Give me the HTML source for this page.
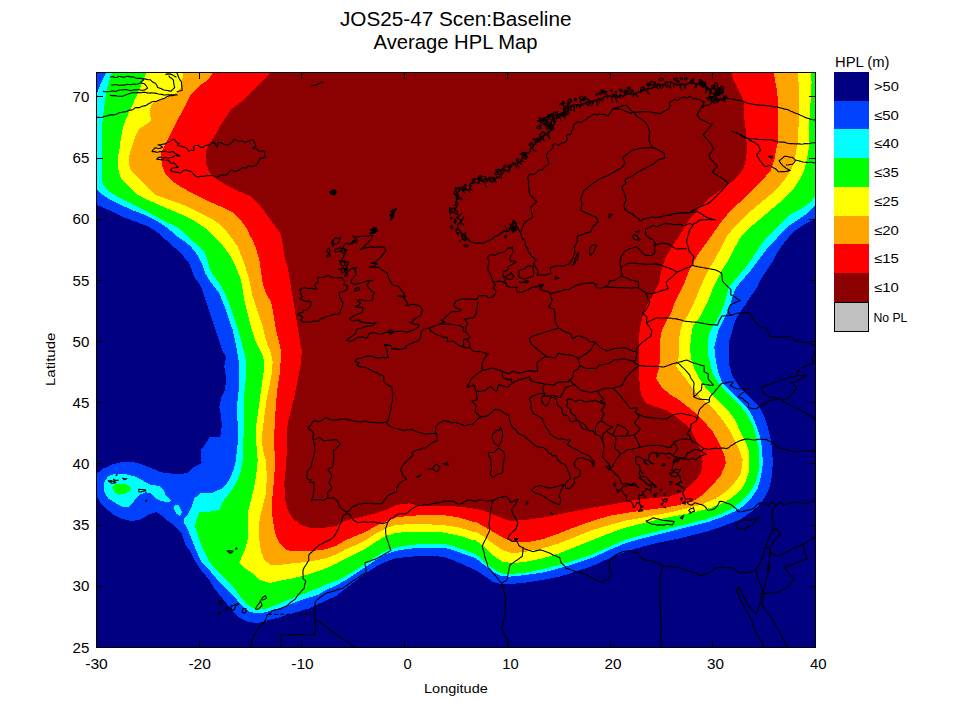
<!DOCTYPE html>
<html><head><meta charset="utf-8"><style>
html,body{margin:0;padding:0;background:#fff;}
body{width:960px;height:720px;position:relative;overflow:hidden;}
svg{position:absolute;left:0;top:0;font-family:"Liberation Sans",sans-serif;}
</style></head><body>
<svg width="960" height="720" viewBox="0 0 960 720">
<defs><clipPath id="pc"><rect x="96" y="72" width="720" height="576"/></clipPath></defs>
<g clip-path="url(#pc)" shape-rendering="crispEdges">
<rect x="96" y="72" width="720" height="576" fill="#000080"/>
<polygon points="96.0,72.0 96.0,205.0 97.2,205.0 108.5,210.0 121.0,216.2 136.0,221.9 146.0,225.5 155.0,230.5 161.0,235.5 166.0,240.0 181.0,253.3 189.3,263.3 194.3,276.7 201.0,286.7 204.3,296.7 207.7,306.7 211.0,316.7 214.3,326.7 217.7,336.7 222.0,350.0 226.0,356.7 224.3,366.7 226.0,376.7 225.2,390.0 221.0,398.3 219.3,406.7 221.0,415.0 221.8,426.7 220.2,436.7 209.3,437.5 206.0,443.3 201.0,450.0 200.5,456.0 201.8,463.3 194.3,466.7 189.3,471.7 186.0,473.3 176.0,474.2 171.0,473.5 161.0,472.2 152.2,468.5 143.5,464.8 133.5,462.2 121.0,462.2 111.0,464.8 103.5,468.5 97.2,473.5 96.0,473.5 96.0,497.2 97.2,497.2 101.0,503.5 106.0,508.5 113.5,514.8 121.0,518.5 131.0,521.0 139.8,519.8 148.5,514.8 156.0,512.2 161.0,514.8 166.0,519.8 173.5,524.8 181.0,532.0 185.5,545.0 189.3,550.0 194.3,560.0 201.0,570.0 209.3,580.0 214.3,588.3 221.0,596.7 229.3,606.7 237.7,616.7 247.7,621.7 257.7,623.3 266.0,620.8 276.0,618.3 292.7,613.3 309.3,608.3 322.7,602.0 336.0,596.0 346.0,588.3 356.0,580.8 366.0,573.3 376.0,566.7 386.0,561.7 396.0,558.3 409.3,556.7 426.0,555.8 442.7,556.7 452.7,560.0 464.3,565.0 476.0,570.5 484.3,575.8 492.7,581.7 501.0,584.2 509.3,584.2 526.0,582.5 542.7,580.0 559.3,576.7 576.0,571.7 592.7,565.8 609.3,558.3 626.0,551.5 642.7,546.7 659.3,542.5 676.0,539.2 692.7,535.0 709.3,530.8 726.0,525.0 739.3,520.0 749.3,513.3 757.7,506.7 764.3,498.3 769.3,488.3 771.8,476.7 772.7,465.0 772.7,460.0 771.8,446.7 770.2,436.7 767.7,426.7 764.3,416.7 759.3,406.7 749.3,396.7 739.3,386.7 732.7,376.7 729.3,365.0 728.5,353.3 729.5,340.0 731.6,333.8 733.5,326.2 736.0,318.8 741.0,311.2 746.0,303.8 751.0,296.2 757.2,287.5 761.0,278.8 767.2,270.0 773.5,260.0 776.0,255.0 781.0,246.7 787.7,238.3 796.0,230.0 806.0,223.3 816.0,218.3 816.0,72.0" fill="#0040FF"/>
<polygon points="106.6,72.0 103.5,78.2 100.4,84.5 98.5,89.5 97.2,93.2 96.0,95.0 96.0,190.0 97.2,190.0 101.0,193.8 108.5,198.8 121.0,205.0 133.5,210.5 146.0,215.5 156.0,220.5 164.8,226.0 171.0,231.0 176.0,236.0 182.7,240.0 191.0,246.7 197.7,255.0 201.8,263.3 205.2,273.3 209.3,280.0 214.3,286.7 219.3,293.3 222.7,301.7 226.0,310.0 229.3,320.0 232.7,330.0 235.0,340.0 236.8,350.0 238.5,360.0 239.3,373.3 239.3,386.7 237.7,398.3 236.8,410.0 237.7,423.3 238.5,433.3 237.7,443.3 236.8,450.0 236.0,460.0 233.5,470.0 229.3,480.0 222.7,488.3 212.7,492.5 201.0,493.0 194.3,498.3 191.5,506.7 187.7,515.0 184.3,518.3 184.3,523.3 188.0,530.0 192.0,540.0 196.0,550.0 201.0,561.0 209.3,570.0 217.7,580.0 226.0,588.3 234.3,596.7 242.7,606.7 249.3,611.7 256.0,613.3 264.3,612.5 272.7,610.0 284.3,606.7 301.0,600.0 317.7,595.0 326.0,590.0 336.0,585.5 346.0,580.0 356.0,573.3 366.0,566.7 376.0,560.0 386.0,554.2 396.0,550.8 409.3,548.7 426.0,547.5 442.7,547.5 452.7,550.0 464.3,554.2 476.0,558.3 484.3,565.0 492.7,571.7 501.0,575.8 509.3,576.7 526.0,575.0 542.7,572.5 559.3,568.3 576.0,563.3 592.7,557.5 609.3,550.0 626.0,543.0 642.7,538.3 659.3,534.2 676.0,530.0 692.7,525.8 709.3,521.7 722.7,516.7 734.3,511.7 742.7,506.7 751.0,498.3 757.7,488.3 761.0,476.7 762.7,465.0 762.7,460.0 761.8,446.7 760.2,436.7 756.8,426.7 752.7,416.7 747.7,408.3 739.3,400.0 731.0,391.7 722.7,383.3 719.0,375.0 717.0,366.7 715.2,356.7 714.3,346.7 716.0,340.0 718.5,330.0 722.2,322.5 726.0,315.0 729.8,306.2 732.2,297.5 736.0,287.5 743.5,278.8 751.0,270.0 758.5,260.0 766.0,250.0 772.7,243.3 779.3,235.0 787.7,226.7 797.7,220.0 807.7,213.3 816.0,205.0 816.0,72.0" fill="#00FFFF"/>
<polygon points="104.8,481.0 108.5,476.0 116.0,473.5 124.8,474.1 133.5,476.0 143.5,481.0 151.0,484.8 159.8,486.0 163.5,489.8 166.0,496.0 171.0,501.0 168.5,502.2 161.0,501.0 156.0,498.5 151.0,493.5 146.0,492.2 139.8,494.8 136.0,498.5 132.2,503.5 128.5,507.2 123.5,507.2 116.0,503.5 108.5,498.5 104.8,493.5 103.5,487.2" fill="#00FFFF"/>
<polygon points="174.8,504.8 178.5,504.8 182.2,512.2 179.8,516.0 176.0,513.5 174.1,508.5" fill="#00FFFF"/>
<polygon points="112.2,72.0 109.8,79.5 107.9,85.8 106.0,93.2 104.8,102.0 103.5,113.2 102.2,124.5 101.6,137.0 101.6,149.5 101.6,162.0 101.6,180.0 103.5,185.0 108.5,191.2 114.8,195.0 121.0,198.8 133.5,204.5 146.0,211.0 156.0,216.5 166.0,222.0 176.0,226.5 182.0,231.0 188.5,237.0 195.0,243.0 201.0,248.0 204.3,251.7 207.7,260.0 209.3,268.3 214.3,276.7 219.3,283.3 224.3,291.7 227.7,300.0 231.0,308.3 234.3,318.3 237.7,328.3 240.5,338.3 243.5,350.0 246.0,360.0 246.0,373.3 245.2,386.7 243.5,398.3 243.5,410.0 243.5,423.3 243.5,436.7 242.7,448.3 242.7,460.0 240.2,473.3 236.0,483.3 229.3,493.3 222.7,501.7 219.3,510.0 209.3,511.7 199.3,512.5 196.0,520.0 195.2,526.7 197.2,533.0 199.3,540.0 204.3,551.7 209.3,561.7 216.0,570.0 224.3,578.3 232.7,586.7 239.3,595.0 246.0,603.3 252.7,608.3 259.3,609.7 267.7,608.3 276.0,605.0 287.7,600.0 301.0,595.0 317.7,588.3 329.3,583.3 336.0,580.8 346.0,575.8 356.0,570.0 366.0,563.3 376.0,556.7 386.0,550.8 396.0,547.5 409.3,545.0 426.0,543.7 442.7,543.7 452.7,545.8 464.3,550.0 476.0,554.2 484.3,561.7 492.7,568.3 501.0,573.3 509.3,574.2 526.0,572.5 542.7,569.2 559.3,565.0 576.0,560.0 592.7,554.2 609.3,546.7 626.0,539.5 642.7,535.0 659.3,530.8 676.0,526.7 692.7,522.5 709.3,518.3 722.7,513.3 732.7,508.3 741.0,501.7 749.3,493.3 755.2,483.3 758.5,471.7 759.3,460.0 758.5,446.7 756.0,436.7 752.7,425.0 747.7,415.0 741.0,406.7 732.7,398.3 724.3,390.0 717.7,381.7 712.7,373.3 710.0,363.3 707.7,353.0 707.5,343.3 709.3,333.3 712.7,326.7 717.0,320.0 720.5,313.0 723.5,306.2 726.0,297.5 728.5,287.5 734.8,280.0 743.5,270.0 751.0,260.0 757.5,250.0 764.3,240.0 772.7,231.7 781.0,223.3 789.3,215.0 799.3,210.0 809.3,203.3 816.0,195.0 816.0,72.0" fill="#00FF00"/>
<polygon points="112.2,487.2 116.0,484.1 124.8,483.5 131.0,487.2 129.8,491.0 124.8,493.5 118.5,494.8 114.8,492.2" fill="#00FF00"/>
<polygon points="147.2,72.0 143.5,79.5 139.8,88.2 136.0,97.0 132.2,105.8 128.5,113.2 125.4,120.8 122.9,128.2 121.0,137.0 119.8,147.0 118.5,154.5 117.9,162.0 118.5,170.0 120.0,176.0 122.2,180.0 127.2,185.0 133.5,191.0 136.0,194.0 143.5,198.0 154.8,203.0 166.0,208.0 176.0,212.0 186.0,216.5 195.0,221.2 203.0,226.5 208.0,230.5 214.3,236.7 221.0,243.3 226.0,250.0 231.0,256.7 234.3,263.3 237.7,271.7 241.0,280.0 242.7,290.0 244.3,300.0 246.8,310.0 249.3,320.0 251.8,330.0 255.2,340.0 259.0,348.0 262.7,355.0 264.3,362.0 263.5,373.3 261.0,390.0 259.3,403.3 257.7,415.0 256.0,426.7 256.0,440.0 256.8,450.0 257.7,460.0 256.0,476.7 253.5,490.0 251.0,500.0 248.5,510.0 247.7,520.0 248.5,530.0 247.5,540.0 245.0,550.0 241.0,558.3 239.3,562.5 242.7,566.7 247.7,570.0 252.7,573.3 259.3,579.5 269.3,583.0 279.3,580.8 292.7,578.3 309.3,574.2 326.0,568.3 336.0,563.8 346.0,558.3 356.0,553.3 366.0,548.3 376.0,541.7 386.0,535.8 396.0,533.0 409.3,531.7 426.0,531.7 442.7,532.5 459.3,535.8 472.7,540.0 476.0,540.5 484.3,546.7 492.7,555.0 502.7,561.7 512.7,563.3 526.0,561.7 542.7,558.3 559.3,553.3 576.0,546.7 592.7,540.0 609.3,533.3 626.0,527.5 642.7,523.3 659.3,519.2 676.0,515.8 692.7,512.5 709.3,508.3 721.0,504.2 731.0,498.3 739.3,491.7 745.2,483.3 748.5,473.3 749.3,461.7 748.5,450.0 746.0,443.0 741.0,433.3 736.0,421.7 729.3,411.7 722.7,405.0 714.3,396.7 706.0,388.3 699.3,378.3 694.3,368.3 691.0,358.3 690.2,350.0 690.5,343.0 691.0,336.7 692.7,326.7 696.0,321.7 699.8,317.5 703.5,310.0 708.5,300.0 712.2,290.0 717.2,280.0 722.2,270.0 728.5,260.0 733.5,250.0 741.0,236.7 751.0,226.7 761.0,218.3 772.7,208.3 782.7,200.0 792.7,190.0 799.3,180.0 804.3,170.0 806.8,160.0 808.5,150.0 809.1,142.0 809.1,127.0 809.8,112.0 811.0,97.0 811.6,82.0 811.0,72.0" fill="#FFFF00"/>
<polygon points="183.5,72.0 182.2,79.5 181.0,87.0 176.0,93.2 166.0,97.0 156.0,100.8 151.0,105.8 149.8,112.0 151.0,120.8 146.0,124.5 139.8,128.2 136.0,134.5 133.5,142.0 131.0,149.5 129.1,157.0 128.5,162.0 130.0,168.0 133.0,173.0 136.0,175.0 142.2,182.0 148.5,188.5 156.0,195.0 166.0,198.8 176.0,202.0 186.0,206.0 196.0,211.0 206.0,216.2 213.5,220.0 221.0,225.0 226.0,230.5 230.0,236.0 233.0,240.0 237.7,246.7 241.0,255.0 244.3,263.3 246.8,271.7 249.3,280.0 251.0,288.3 252.7,296.7 256.0,306.7 259.3,316.7 262.7,326.7 265.2,336.7 267.5,345.0 270.2,350.0 272.7,361.7 271.8,373.3 269.3,386.7 266.8,398.3 265.2,410.0 263.5,423.3 261.8,436.7 262.7,448.3 264.3,455.0 266.0,460.0 266.8,476.7 266.0,493.3 262.7,506.7 260.2,516.7 258.5,526.7 259.3,540.0 261.0,551.7 264.3,560.0 271.0,565.0 279.3,565.0 292.7,563.3 309.3,561.7 326.0,558.3 336.0,554.5 346.0,549.2 356.0,545.0 366.0,540.0 376.0,533.3 386.0,528.3 396.0,525.0 409.3,524.2 426.0,524.2 442.7,525.0 459.3,527.5 472.7,531.7 476.0,532.0 484.3,536.7 492.7,543.3 502.7,550.0 512.7,553.3 526.0,551.7 542.7,548.3 559.3,543.3 576.0,536.7 592.7,530.0 609.3,525.0 626.0,520.5 639.3,518.3 656.0,515.0 672.7,511.7 687.7,508.3 702.7,504.2 716.0,498.3 726.0,491.7 734.3,483.3 741.0,473.3 742.7,460.0 739.3,450.0 734.3,440.0 729.3,430.0 722.7,420.0 716.0,411.7 709.3,405.0 701.0,398.3 692.7,388.3 684.3,376.7 676.0,366.7 678.5,358.0 679.5,350.0 679.0,340.0 680.0,332.0 682.5,323.3 687.0,316.7 691.5,308.3 696.0,298.0 700.5,287.0 705.0,277.0 709.5,267.7 714.5,260.0 719.8,250.0 727.7,235.0 736.0,225.0 746.0,215.0 756.0,206.7 766.0,198.3 776.0,190.0 784.3,180.0 791.0,170.0 794.8,160.0 796.3,150.0 797.9,142.0 798.5,127.0 799.1,112.0 799.1,97.0 798.5,82.0 797.9,72.0" fill="#FFA500"/>
<polygon points="213.5,72.0 208.5,79.5 201.0,84.5 196.0,89.5 191.0,94.5 187.2,102.0 183.5,109.5 179.8,115.8 176.0,123.2 172.2,130.8 168.5,138.2 164.8,145.8 161.0,152.0 161.0,157.5 162.2,166.2 166.0,175.0 172.2,181.2 179.8,186.2 188.5,191.2 198.5,196.2 208.5,201.2 217.2,205.0 226.0,208.8 234.8,213.8 239.5,219.0 244.0,224.5 247.5,230.0 250.0,236.0 252.5,240.0 256.0,248.3 259.3,260.0 261.0,271.7 262.7,283.3 266.0,293.3 271.0,301.7 272.7,310.0 274.3,320.0 276.0,330.0 278.5,340.0 280.2,347.0 281.0,353.3 280.2,370.0 277.7,386.7 276.0,403.3 275.2,416.7 274.3,433.3 274.3,446.7 275.0,460.0 274.3,476.7 272.7,493.3 271.8,506.7 272.7,520.0 275.2,533.3 279.3,543.3 286.0,550.0 296.0,551.5 309.3,551.0 322.7,550.0 336.0,546.0 346.0,540.0 356.0,535.8 366.0,531.7 376.0,525.8 386.0,521.7 396.0,517.5 409.3,515.8 426.0,515.0 442.7,515.0 459.3,517.5 472.7,521.7 476.0,522.0 484.3,526.7 492.7,531.7 502.7,537.5 512.7,541.7 526.0,542.5 542.7,539.2 559.3,533.3 576.0,526.7 592.7,520.8 609.3,515.8 626.0,513.0 642.7,510.5 659.3,508.3 676.0,505.8 692.7,501.7 702.7,495.0 712.7,485.0 721.0,475.0 726.0,463.3 724.3,455.0 719.3,443.3 712.7,431.7 704.3,421.7 696.0,413.3 687.7,406.7 679.3,400.0 671.0,395.0 662.7,388.3 656.0,378.3 658.5,370.0 660.2,360.0 660.2,350.0 660.2,340.0 661.8,330.0 666.0,321.7 671.0,313.3 674.3,303.3 679.3,293.3 684.3,283.3 689.3,270.0 692.7,263.3 697.7,255.0 706.0,243.3 714.3,231.7 722.7,220.0 732.7,208.3 742.7,200.0 752.7,190.0 762.7,180.0 771.0,170.0 774.3,160.0 776.0,150.0 777.9,142.0 777.9,122.0 777.9,102.0 777.2,92.0 775.4,82.0 773.5,72.0" fill="#FF0000"/>
<polygon points="271.0,72.0 263.5,79.5 256.0,87.0 248.5,94.5 241.0,102.0 231.0,109.5 226.0,117.0 221.0,124.5 217.2,132.0 212.2,139.5 207.2,147.0 205.6,154.5 205.8,160.0 206.5,165.0 209.8,172.5 216.0,178.8 226.0,185.0 238.5,191.2 251.0,196.2 257.2,202.5 263.5,210.0 269.8,218.8 276.0,227.5 280.2,233.0 282.7,243.3 284.3,256.7 287.7,266.7 289.3,276.7 291.0,286.7 292.7,296.7 294.3,306.7 296.0,316.7 297.7,326.7 299.3,336.7 300.5,345.0 301.8,350.0 301.0,363.3 297.7,380.0 294.3,396.7 291.0,410.0 287.7,423.3 286.8,436.7 286.8,450.0 286.0,466.7 284.3,483.3 285.2,500.0 287.7,510.0 292.7,518.3 301.0,525.0 309.3,527.5 322.7,528.0 336.0,526.0 342.7,521.7 351.0,519.2 362.7,516.7 376.0,513.3 386.0,510.0 396.0,505.0 409.3,503.3 419.3,505.8 442.7,505.8 459.3,506.7 472.7,508.3 476.0,509.2 484.3,510.8 492.7,514.2 502.7,518.3 509.3,520.8 526.0,520.0 542.7,517.5 559.3,514.2 576.0,510.8 592.7,507.5 609.3,505.0 626.0,501.7 634.3,500.0 651.0,498.3 669.3,496.7 682.7,491.7 692.7,483.3 701.0,473.3 702.7,461.7 701.0,451.7 697.7,443.3 694.3,436.7 691.0,430.0 684.3,423.3 676.0,416.7 666.0,410.0 656.0,406.7 646.0,403.3 641.0,395.0 639.3,380.0 639.3,366.7 639.3,353.3 638.5,343.3 639.3,333.3 641.0,323.3 643.5,313.3 647.7,303.3 654.3,293.3 659.3,281.7 661.5,270.0 664.0,262.0 667.7,253.3 674.3,243.3 681.0,233.3 687.7,221.7 697.7,210.0 709.3,198.3 722.7,188.3 734.3,180.0 742.7,170.0 746.0,160.0 746.8,150.0 746.6,142.0 746.0,132.0 744.8,122.0 743.5,112.0 743.5,102.0 741.0,94.5 737.2,87.0 733.5,79.5 731.0,72.0" fill="#8B0000"/>
</g>
<g clip-path="url(#pc)" fill="none" stroke="#000" stroke-width="1.1" stroke-linejoin="round" stroke-linecap="round">
<path d="M178.2 172.1L176.2 172.5L174.5 171.8L172.6 171.6L170.5 170.7L171.7 168.6L173.6 167.9L175.4 167.7L177.2 167.3L178.2 167.6L177.4 166.4L176.5 166.1L175.5 164.2L174.1 162.9L172.2 163.4L170.5 163.0L169.3 161.2L167.8 160.0L166.0 160.2L164.2 160.0L162.4 159.6L160.6 159.8L158.9 159.4L156.7 159.2L158.5 157.4L160.2 157.1L162.0 157.7L163.8 158.0L165.5 157.6L167.2 157.8L168.9 158.0L170.6 157.6L172.3 157.2L173.9 156.3L175.1 155.5L176.9 155.8L178.7 156.3L180.1 155.8L178.6 155.4L177.3 154.4L175.8 153.8L174.4 153.0L173.2 151.5L171.4 151.7L169.8 152.4L168.2 152.2L166.6 151.6L165.0 151.0L163.4 151.4L161.7 151.8L159.9 151.6L158.0 152.3L156.2 152.1L154.3 151.6L152.0 151.6L153.4 149.3L155.2 147.7L157.7 148.2L159.8 148.5L162.6 147.2L160.0 145.4L157.8 144.8L159.5 144.8L161.3 144.7L163.1 144.1L165.0 143.9L167.6 142.1L168.9 142.1L170.6 141.1L172.2 140.1L174.1 139.3L175.5 140.8L176.7 142.4L178.0 143.6L179.2 143.0L178.8 144.4L177.4 145.4L179.1 145.9L181.1 146.1L182.9 146.8L184.9 147.4L186.7 148.1L187.7 149.6L188.5 151.2L190.1 150.5L191.7 150.0L193.5 150.8L194.2 149.3L193.7 147.5L194.2 145.7L196.9 145.5L198.6 145.4L199.1 146.5L200.8 147.3L202.8 147.7L203.8 146.2L205.6 145.4L207.4 145.3L209.1 145.0L211.0 143.2L213.6 142.3L215.4 144.1L216.5 145.8L217.1 147.6L217.6 145.7L217.7 142.8L220.6 142.6L222.5 143.5L224.4 144.5L226.1 144.8L227.8 145.1L229.3 144.3L230.7 143.3L232.2 142.1L233.3 140.5L234.6 139.0L236.4 140.1L238.1 141.1L239.9 141.2L241.4 140.7L243.4 141.4L245.2 142.2L246.5 141.7L248.4 141.4L250.0 140.3L252.7 139.5L254.3 141.8L254.9 143.3L255.9 145.8L254.0 148.2L253.1 148.7L253.1 147.2L254.6 148.0L256.1 148.6L257.5 149.5L258.7 151.2L260.3 151.5L262.1 150.8L264.3 151.5L264.7 154.1L265.3 156.8L262.7 158.1L259.6 158.4L259.1 160.7L258.4 161.9L257.2 163.8L255.7 165.6L253.8 166.3L251.9 166.3L249.9 166.1L248.0 166.1L246.6 167.7L244.9 168.3L242.7 167.6L241.1 168.5L239.7 169.9L238.0 170.6L236.3 171.4L234.1 171.0L231.9 170.3L230.0 170.9L228.7 172.4L227.5 174.0L226.0 175.0L224.3 175.3L222.4 175.1L220.6 175.4L219.2 176.1L217.4 177.1L215.6 177.3L213.7 176.1L211.7 175.3L210.1 175.6L208.6 175.6L207.0 175.4L205.3 175.9L203.5 176.5L201.9 176.3L200.2 176.4L198.3 177.0L196.4 176.5L194.9 175.3L193.4 174.1L192.1 172.3L190.5 171.2L188.6 170.9L186.7 170.3L184.9 169.8L183.3 170.5L181.6 172.1L179.9 173.1L178.2 172.1M96.0 117.9L97.6 117.2L99.5 117.4L101.3 117.5L103.0 117.0L104.6 116.4L106.3 116.1L108.1 115.6L109.8 114.9L111.6 114.9L113.5 114.9L115.2 114.6L116.9 114.0L118.5 113.1L120.1 112.5L121.8 112.3L123.5 111.9L125.3 111.8L127.0 111.5L128.4 110.5L129.9 110.1L131.6 110.1L133.1 109.4L134.4 108.3L135.9 107.6L137.5 107.5L139.3 107.6L140.8 107.0L142.3 106.1L144.0 105.9L145.7 105.6L147.1 104.7L148.5 103.7L150.1 103.0L151.6 102.0L153.4 101.5L155.4 101.5L157.1 100.9L158.8 100.2L160.4 99.7L162.0 99.0L163.7 98.6L165.3 97.9L166.7 96.7L168.4 96.1L170.1 95.8L171.9 95.6L173.7 95.4L175.4 95.0L177.1 94.9M110.4 95.4L112.0 95.6L113.7 95.6L115.4 95.6L117.0 96.0L118.6 96.2L120.3 96.2L122.0 96.4L123.8 95.7L125.5 95.1L127.1 94.4L128.8 93.7L130.5 93.3L132.3 92.7L134.1 92.6L135.8 92.8L137.6 92.6L139.3 92.6L141.1 92.7L142.8 92.4L144.6 92.3L146.3 92.6L148.0 93.0L149.7 93.1L151.5 92.9L153.2 93.0L155.0 93.1L156.7 93.4L158.4 94.0L160.1 94.2L161.8 94.4L163.6 94.9L165.3 95.0L167.0 94.7L168.7 94.7L170.4 94.7L172.1 94.8L173.7 94.9L175.4 94.9L177.1 94.9M103.2 91.2L104.9 91.7L106.6 91.7L108.3 91.7L110.0 91.5L111.7 90.9L113.4 91.0L115.2 91.4L116.9 91.1L118.6 90.3L120.3 90.0L122.0 90.0L123.7 89.8L125.5 89.6L127.2 89.8L129.0 90.2L130.7 90.6L132.4 90.3L134.1 89.9L135.9 89.9L137.6 89.8L139.4 89.7L141.2 90.2L143.1 90.3L145.0 89.9L147.6 88.0L146.4 86.3L145.4 84.7L144.0 83.6L142.4 83.2L140.7 82.9M111.4 85.0L113.2 85.0L114.9 84.8L116.7 84.7L118.5 85.1L120.2 85.3L122.0 85.1L123.7 85.1L125.4 84.9L127.1 84.4L128.9 84.5L130.6 84.7L132.3 84.3L134.0 84.0L135.8 84.2L137.5 84.3L139.1 83.6L140.6 82.6L141.9 81.1L143.4 80.2L142.8 78.7M110.4 77.1L112.0 76.5L113.7 76.9L115.4 77.5L117.0 77.3L118.7 76.5L120.3 76.5L122.0 76.9L123.7 77.1L125.4 76.8L127.2 76.4L128.9 76.4L130.6 77.0L132.4 76.9L134.1 77.2L135.8 78.0L137.5 78.4L139.3 78.4L141.1 78.4L142.8 78.7L144.7 78.9L146.5 79.4L148.3 79.6L150.2 79.7L151.7 81.2L153.4 82.5L155.4 83.2L156.8 85.3L157.6 87.5L159.2 88.0L160.8 88.6L162.4 89.3L163.8 90.0L165.5 90.2L167.3 90.5L169.1 90.9L170.9 91.3L172.2 90.0L173.5 88.6L174.7 87.5L174.3 85.9L173.9 84.1L173.6 82.3L173.6 80.6L172.8 79.3L171.5 78.2L170.0 77.4L168.9 76.2M175.1 72.0L177.2 73.0L177.7 74.8L178.4 76.5L179.1 78.3L180.0 79.9L181.2 81.3L181.6 83.1L181.6 84.9L181.9 86.6L182.1 88.6L182.1 90.5L180.5 90.7L178.9 91.3L177.1 91.8M165.8 74.4L168.0 73.9L170.0 74.1L172.1 74.6L174.1 75.9L176.1 76.9M311.7 86.1L313.3 85.2L315.2 85.1L317.0 84.6L318.6 83.8L320.2 82.8L322.0 82.1L323.0 83.0M330.2 191.9L332.1 190.7L334.3 189.8L336.4 191.9L335.0 193.2L334.2 194.5L331.3 194.3L330.2 191.9M390.8 220.0L391.3 218.2L391.5 216.5L389.3 215.1L391.7 214.0L393.8 213.3L392.3 212.5L390.6 211.4L392.4 210.4L394.0 209.5L396.4 208.8L395.0 211.1L393.7 212.8L393.6 214.6L393.4 216.5L392.2 218.4L390.8 220.0M370.2 233.5L371.9 232.4L373.6 231.0L371.6 230.2L370.1 229.8L371.7 229.3L373.5 228.2L375.4 227.4L376.3 229.3L377.4 231.0L375.9 231.9L374.3 232.9L372.3 233.3L370.2 233.5M352.8 235.7L354.6 237.5L356.9 236.6L358.9 236.7L360.6 236.3L362.2 236.2L363.9 236.3L365.5 236.4L367.3 236.4L369.8 235.4L372.6 235.5L372.0 238.2L370.7 239.4L369.5 240.8L368.4 242.3L367.0 243.9L365.4 245.3L363.8 246.8L362.2 248.3L360.4 249.4L362.4 249.0L364.1 248.3L366.2 247.9L368.2 247.4L370.2 247.0L372.3 246.8L374.4 247.1L376.2 247.2L378.1 247.0L379.9 247.0L381.8 246.9L383.7 246.8L384.7 248.4L385.9 250.0L384.8 252.1L383.3 253.8L381.6 256.1L380.3 257.7L378.8 259.0L377.2 260.2L375.8 261.8L373.6 262.6L371.3 263.1L373.6 263.3L375.8 263.4L377.2 264.3L375.9 264.8L374.5 265.6L372.8 266.4L371.0 266.7L369.2 267.1L371.3 267.5L373.3 267.8L375.6 267.4L378.0 267.2L379.8 268.3L381.3 269.5L383.0 270.4L384.4 271.3L385.9 272.2L387.3 273.2L387.7 275.4L388.4 277.5L389.9 280.2L390.8 282.3L391.8 284.3L393.8 285.2L395.8 285.8L397.8 286.2L399.6 287.3L400.5 289.1L401.7 290.6L403.1 292.2L404.1 293.7L404.7 295.4L405.3 297.0L403.2 296.4L401.0 295.8L398.1 296.1L399.5 296.4L401.0 297.0L402.6 297.3L404.1 297.8L405.1 299.5L406.2 301.3L407.5 302.8L406.9 304.2L406.1 305.8L409.3 305.0L411.6 304.4L413.9 304.3L416.0 304.9L418.1 305.3L419.5 306.3L420.8 307.3L422.1 308.6L422.2 311.2L421.3 313.3L420.7 315.5L419.0 316.3L417.4 317.1L416.0 318.2L414.2 319.0L413.1 321.3L411.5 321.9L409.8 322.8L411.4 323.2L413.2 323.7L415.0 324.2L416.9 324.2L418.8 324.2L418.7 326.5L417.3 327.7L416.1 328.7L414.6 329.4L413.9 330.1L412.2 330.5L410.5 330.9L408.9 331.5L407.2 332.1L405.5 331.8L403.8 331.6L402.1 331.2L400.0 331.1L397.9 331.3L396.0 331.8L392.9 331.0L391.5 330.4L389.6 330.0L388.1 332.1L386.2 332.4L384.2 332.7L382.6 333.8L380.8 334.0L379.0 334.2L377.5 333.6L375.8 333.3L374.3 332.6L372.5 332.7L370.6 333.3L368.8 333.7L368.4 335.3L367.8 336.9L366.6 338.2L365.2 337.6L363.6 337.3L362.0 336.9L360.0 337.1L357.9 337.2L356.6 338.1L355.3 339.2L353.9 340.1L352.4 340.7L350.7 341.3L349.2 341.0L347.6 340.6L345.9 340.4L348.4 339.1L349.7 337.9L351.1 336.7L352.5 335.9L353.8 334.7L355.0 333.6L355.6 332.0L356.3 330.4L357.3 328.7L359.2 328.5L361.1 328.3L363.1 327.6L365.1 326.8L367.2 326.1L369.2 326.0L371.3 325.8L373.2 325.6L374.6 324.0L376.3 322.8L374.7 322.9L373.0 323.3L371.3 323.5L369.6 323.0L367.9 322.8L366.1 322.9L364.5 322.5L363.0 321.9L359.9 322.1L360.0 320.3L357.9 320.1L355.8 320.2L353.8 320.7L352.1 320.7L350.5 320.1L349.8 318.2L351.4 317.6L352.8 316.6L354.8 315.5L356.7 314.5L358.6 313.7L360.5 313.0L362.5 311.8L362.8 309.6L362.8 307.3L360.2 307.3L357.9 307.4L354.9 307.1L357.0 305.8L359.1 304.9L360.4 302.9L358.6 301.6L357.2 300.8L358.5 300.2L360.0 299.4L361.6 299.9L363.1 300.6L365.1 300.7L367.2 300.8L368.9 300.8L370.6 300.5L372.2 300.0L372.9 298.8L372.8 297.1L372.9 295.3L373.9 293.8L374.5 292.3L372.9 292.0L371.2 291.1L370.3 289.4L369.1 288.0L367.0 285.9L368.0 283.7L369.0 281.5L370.9 280.9L372.9 280.6L370.9 280.4L369.0 280.6L367.1 280.9L364.8 281.7L362.6 282.5L360.8 283.0L358.9 283.4L356.6 283.7L354.3 284.5L351.4 282.7L351.1 280.0L352.9 278.5L354.3 276.9L356.2 274.4L355.5 272.5L355.6 270.5L353.6 267.6L356.6 267.9L354.6 269.6L352.8 268.0L351.3 268.7L349.9 269.7L348.1 271.0L346.9 272.7L347.4 274.8L346.6 276.3L344.7 276.2L345.2 274.5L345.9 272.8L345.8 270.1L346.6 268.3L346.9 266.8L346.7 265.3L348.2 264.5L348.4 262.1L344.9 262.5L343.2 261.9L342.0 260.1L341.7 259.0L343.0 258.5L343.7 255.6L345.1 253.9L344.7 251.8L347.1 249.9L342.8 248.2L344.9 243.8L346.8 243.2L349.3 244.4L351.1 242.5L352.2 242.7L353.9 240.8L355.2 238.4L352.8 235.7M340.5 237.2L338.7 238.7L335.8 237.7L334.4 238.8L333.2 241.1L331.7 241.0L332.5 242.2L334.2 244.0L333.0 246.1L332.4 244.7L331.7 243.1L333.9 243.3L336.3 244.4L339.0 242.4L339.4 240.5L340.2 239.0L340.5 237.2M329.2 248.2L327.2 249.6L326.5 251.8L329.1 253.2L330.7 255.8L326.5 257.1L328.4 254.4L329.8 252.8L329.6 250.6L329.2 248.2M339.4 246.9L337.8 248.9L335.8 249.1L334.5 250.8L335.8 252.3L339.4 251.3L341.2 251.1L341.8 252.3L344.0 253.8L345.9 253.1L345.0 250.5L343.6 248.3L340.8 248.4L339.4 246.9M339.4 260.4L341.4 261.4L343.6 260.6L345.6 261.0L345.1 262.9L344.5 265.8L341.8 265.8L340.1 263.3L340.2 262.9L340.9 262.8L339.4 260.4M338.4 269.0L341.4 269.6L341.4 272.9L344.3 271.9L344.2 268.1L340.5 269.3L338.4 269.0M328.4 275.3L329.8 276.2L331.2 277.0L332.7 277.6L334.4 277.7L336.1 277.8L337.7 277.8L339.3 277.7L340.9 277.4L342.5 278.7L343.9 280.1L345.1 281.8L344.3 283.3L343.8 284.7L345.7 285.2L347.7 286.1L347.4 287.7L347.0 289.5L344.8 290.8L342.6 291.8L339.4 292.2L339.3 294.1L339.4 296.0L340.3 298.2L341.6 300.1L342.5 302.2L342.9 304.4L342.1 306.3L341.4 308.1L340.9 309.7L340.4 311.3L339.7 312.7L338.9 314.1L337.0 314.2L335.1 314.3L333.2 314.5L331.4 315.2L329.7 315.8L327.9 316.2L326.1 316.7L324.6 317.4L323.0 317.9L321.5 318.5L320.0 319.3L318.7 320.6L317.2 321.3L315.5 321.4L313.6 321.1L311.9 321.6L310.2 322.5L308.3 322.4L306.6 322.0L304.8 322.3L302.9 322.4L301.4 320.6L300.4 319.8L301.8 319.1L303.2 317.2L301.8 316.9L300.4 315.5L298.8 314.7L297.4 315.4L298.1 314.3L299.5 313.2L301.0 312.6L302.5 312.9L303.0 310.2L304.7 310.5L306.9 309.7L308.4 308.0L310.0 306.6L310.7 304.5L311.5 302.7L309.8 301.5L307.7 301.1L305.5 301.6L303.8 300.6L302.1 299.7L299.9 299.0L301.5 297.3L302.5 296.9L301.5 295.8L300.9 293.7L300.7 291.6L300.0 289.8L301.6 288.5L303.4 287.7L305.5 288.0L307.3 288.6L309.0 288.4L310.7 288.3L312.7 288.5L314.8 289.1L316.8 288.5L315.3 287.0L314.6 284.7L316.4 283.1L318.0 281.9L318.0 280.0L317.7 277.5L320.0 277.5L321.7 277.5L323.4 277.2L325.0 276.7L326.7 276.1L328.4 275.3M820.1 121.5L819.7 121.5L819.2 121.5L818.8 121.4L818.3 121.2L817.9 121.1L817.4 121.1L817.0 120.8L816.5 120.6L816.1 120.5L815.6 120.5L815.2 120.2L814.8 120.1L814.3 120.0L813.9 119.8L813.4 119.8L812.9 119.7L812.4 119.7L811.9 119.5L811.4 119.4L810.9 119.2L810.3 119.2L809.8 119.0L809.3 118.8L808.8 118.5L808.3 118.4L807.8 118.4L807.3 118.1L806.8 117.9L806.2 117.9L805.7 117.8L805.2 117.4L804.7 117.3L804.3 116.9L803.8 116.6L803.3 116.4L802.8 116.1L802.3 115.9L801.7 115.7L801.2 115.6L800.6 115.4L800.1 115.1L799.7 114.7L799.3 114.4L798.7 114.2L798.2 114.0L797.6 113.8L797.1 113.7L796.5 113.6L796.0 113.4L795.4 113.3L795.0 113.0L794.4 112.8L793.9 112.5L793.4 112.2L792.9 112.0L792.4 111.8L791.9 111.6L791.3 111.5L790.8 111.3L790.3 111.0L789.8 110.6L789.3 110.4L788.9 110.1L788.3 109.9L787.9 109.8L787.6 109.6L787.2 109.6L786.8 109.4L786.4 109.3L786.0 109.2L785.6 109.2L785.2 109.1L784.8 109.0L784.4 109.1L784.0 108.9L783.6 108.9L783.3 108.6L782.9 108.5L782.5 108.4L782.1 108.3L781.7 108.2L781.3 108.1L780.9 108.1L780.5 108.1L780.2 107.9L779.8 107.7L779.5 107.5L779.0 107.5L778.6 107.5L778.1 107.3L777.7 107.2L777.3 106.9L776.8 106.9L776.4 107.0L775.9 106.9L775.5 106.9L775.0 106.8L774.5 106.9L774.1 106.8L773.6 106.6L773.2 106.6L772.7 106.6L772.3 106.4L771.9 106.3L771.4 106.2L771.1 106.0L770.6 106.0L770.2 105.9L769.8 105.9L769.4 105.9L768.9 106.0L768.5 105.9L768.1 105.9L767.7 105.9L767.3 105.9L766.8 105.8L766.4 105.8L766.0 105.7L765.6 105.7L765.2 105.6L764.8 105.5L764.4 105.4L763.9 105.4L763.5 105.3L763.1 105.3L762.7 105.4L762.3 105.4L761.8 105.3L761.4 105.4L761.0 105.4L760.6 105.2L760.2 105.2L759.8 105.3L759.3 105.2L758.9 105.1L758.5 105.0L758.0 104.9L757.6 104.9L757.1 104.9L756.6 104.9L756.1 104.9L755.6 104.8L755.2 104.6L754.7 104.4L754.3 104.5L753.8 104.5L753.3 104.4L752.8 104.4L752.4 104.2L751.9 104.1L751.4 104.0L751.0 103.8L750.5 103.8L750.0 103.8L749.5 103.7L749.1 103.5L748.6 103.4L748.1 103.4L747.7 103.3L747.2 103.2L746.7 103.0L746.2 102.8L745.6 102.5L745.2 102.2L744.7 102.0L744.2 101.7L743.6 101.6L743.1 101.4L742.6 101.2L742.1 101.0L741.6 100.8L741.1 100.6L740.6 100.7L740.0 100.6L739.5 100.5L739.0 100.4L738.5 100.4L737.9 100.2L737.4 100.2L736.9 100.3L736.4 100.1L735.9 99.9L735.4 99.7L734.9 99.5L734.5 99.3L734.1 99.3L733.7 99.2L733.4 99.2L733.0 99.1L732.6 99.0L732.2 99.0L731.8 98.9L731.4 98.9L731.0 98.9L730.6 98.7L730.2 98.7L729.9 98.6L729.5 98.5L729.1 98.3L728.7 98.3L728.2 98.4L727.7 98.4L727.2 98.4L726.7 98.5L726.1 98.2L725.6 97.9L725.3 98.6L724.6 98.6L724.3 99.2L723.9 99.8L723.4 100.4L722.7 100.4L722.0 100.0L721.9 99.1L721.1 99.5L720.5 98.9L720.1 99.2L719.7 99.1L719.1 98.9L718.9 99.5L718.4 98.9L717.9 99.5L718.1 98.8L717.4 98.6L716.8 98.5L716.7 97.9L716.4 98.3L715.9 98.4L715.2 98.4L715.1 99.0L714.3 99.0L714.3 98.3L714.6 97.5L714.2 96.8L713.3 97.0L712.7 96.5L711.7 97.0L712.3 97.9L711.5 98.8L710.7 98.0L710.1 98.8L710.5 99.8L709.6 99.9L708.8 99.4L708.0 99.8L707.4 99.1L706.5 98.5L707.1 97.7L707.5 98.1L708.0 98.0L708.4 97.7L708.7 97.4L709.4 97.4L709.6 98.0L709.8 97.5L710.2 97.1L711.1 97.4L711.5 96.5L712.1 97.0L712.0 97.8L712.4 97.5L712.6 97.1L712.7 96.5L713.3 96.5L714.0 96.4L714.3 97.1L714.5 97.7L715.2 97.7L715.9 97.8L716.4 97.2L715.9 96.5L716.4 95.9L715.6 95.2L716.3 94.4L716.6 93.5L717.6 93.7L718.2 93.9L718.8 93.9L719.4 93.9L720.0 94.0L719.7 93.3L720.1 92.6L720.2 91.8L721.0 91.6L721.4 92.4L722.1 92.8L723.0 92.9L723.6 92.2L723.2 91.2L722.2 91.1L722.4 90.3L722.3 89.4L721.0 89.7L720.3 88.7L720.8 90.0L719.5 90.7L719.1 89.7L718.2 89.5L718.0 88.6L718.2 87.7L717.3 88.3L717.2 89.3L716.2 90.1L715.4 89.1L715.1 88.6L714.5 88.6L714.0 88.9L713.5 88.9L713.1 88.4L712.5 88.7L712.1 88.2L711.6 88.5L711.4 89.4L711.2 90.2L710.2 91.1L709.4 90.1L709.8 89.2L708.9 88.7L708.4 88.4L707.8 87.9L707.1 87.0L706.1 87.6L705.7 86.7L706.2 85.8L705.5 86.4L704.7 85.9L703.9 86.4L704.1 87.3L703.4 87.1L703.0 86.6L702.5 87.2L701.8 86.9L701.4 86.3L701.3 85.6L700.7 85.4L700.0 85.5L699.0 84.8L699.7 83.9L699.3 83.3L698.7 82.7L698.1 83.2L697.4 83.6L696.6 83.6L695.9 83.6L695.3 84.1L694.8 83.6L694.4 83.1L693.8 83.1L693.1 83.0L692.8 83.6L692.3 83.2L691.7 83.6L691.2 82.9L691.3 82.0L690.5 81.7L689.7 82.2L689.7 83.0L689.3 83.8L688.5 83.3L687.6 83.6L686.9 84.5L685.9 83.8L685.2 84.6L685.8 85.5L684.6 84.9L684.0 86.0L683.8 85.1L683.5 84.2L682.8 84.3L682.1 84.5L681.7 83.8L681.3 83.2L681.0 83.9L680.8 84.5L680.3 85.4L679.4 84.8L679.1 83.9L678.2 84.3L678.2 85.1L677.5 85.5L676.8 85.4L676.7 84.8L676.0 84.7L676.0 84.0L675.6 84.4L675.1 84.2L674.7 83.8L674.2 84.0L673.4 83.7L673.7 82.9L673.3 83.6L672.6 83.2L672.1 82.7L671.4 82.8L670.8 82.2L671.2 81.5L671.0 82.3L670.2 82.0L669.6 82.1L669.1 82.4L668.4 82.2L667.7 82.2L666.9 82.1L666.2 82.1L665.3 82.3L664.9 83.2L665.7 83.9L665.0 84.8L664.4 84.3L663.8 84.8L663.2 85.1L663.0 85.8L662.2 85.5L662.5 84.8L661.7 84.9L661.4 84.2L661.0 84.6L660.6 85.0L660.0 85.0L659.5 85.0L658.8 85.1L658.4 84.6L657.7 84.4L657.8 83.6L658.0 84.2L657.8 84.7L657.4 85.3L656.8 85.0L656.3 84.8L655.7 84.8L655.1 85.1L655.3 85.8L655.0 86.2L654.4 86.0L654.1 86.4L654.0 86.8L653.4 86.6L653.0 87.0L653.2 87.6L652.7 87.9L652.1 88.1L652.2 88.7L651.8 88.1L651.2 88.5L650.8 88.5L650.4 88.4L650.0 88.4L649.6 88.2L649.0 87.9L648.5 88.5L648.3 89.1L648.2 89.6L647.8 89.4L647.5 88.9L647.2 88.3L646.5 88.5L646.3 89.3L646.9 89.9L646.3 90.4L645.6 90.4L645.1 90.8L644.5 90.6L644.0 90.8L643.5 90.7L642.8 90.4L642.3 89.9L641.3 90.0L641.4 91.0L641.0 91.6L641.4 92.2L640.6 92.0L640.4 92.8L639.7 92.3L638.9 92.7L639.2 91.9L638.5 91.4L638.8 92.2L638.0 92.6L637.4 92.8L636.8 93.1L635.8 92.8L635.5 93.7L634.7 94.2L635.1 95.1L634.5 94.4L634.8 93.5L634.0 93.6L633.2 93.4L632.6 93.7L632.2 94.2L631.5 94.0L631.1 93.4L630.7 93.9L630.3 94.5L629.5 94.8L629.1 94.0L628.4 94.2L627.7 94.2L627.3 93.7L626.9 93.2L627.1 94.1L626.2 94.3L625.7 94.9L625.0 94.6L624.2 94.8L624.4 95.6L623.8 95.9L623.9 96.6L623.1 96.0L622.4 96.8L622.4 96.0L621.9 95.4L621.4 95.1L620.8 95.4L620.7 94.7L620.1 94.7L619.5 95.3L620.0 95.9L619.6 96.7L618.8 96.3L618.0 96.1L617.3 96.5L617.9 97.2L617.6 98.0L617.4 97.4L616.9 97.0L616.3 97.4L615.7 97.1L615.1 97.2L614.6 97.5L614.8 96.7L614.0 96.4L613.6 95.8L613.0 95.5L612.9 96.2L612.1 96.5L611.6 96.7L611.0 97.0L610.6 96.5L610.4 96.0L609.8 95.6L609.4 96.1L608.9 96.2L608.5 95.9L607.8 95.6L607.5 94.9L606.9 95.3L606.6 96.0L606.0 96.5L605.4 96.0L605.1 96.5L604.9 97.1L604.2 96.7L603.8 97.4L603.6 97.9L603.4 98.5L602.9 98.8L602.4 98.5L601.9 98.5L601.4 98.3L601.1 98.7L600.9 99.2L600.3 99.5L599.9 99.0L599.4 99.3L599.1 98.9L598.8 99.4L598.3 99.2L598.1 99.8L597.5 100.0L597.0 99.8L596.6 99.4L596.6 99.9L596.2 100.2L595.6 100.5L595.2 100.1L595.1 100.8L594.4 100.7L593.9 100.8L593.5 100.9L592.7 101.1L592.6 101.9L592.2 101.4L591.6 101.1L591.1 101.0L590.6 101.2L590.2 100.9L589.6 100.9L589.1 101.3L588.5 100.9L588.0 101.3L588.0 102.0L587.6 102.0L587.1 102.0L586.8 102.3L586.5 102.7L586.1 102.6L585.7 102.8L585.3 102.9L584.9 103.0L584.5 103.2L584.1 103.1L583.9 103.6L583.4 103.7L583.1 104.1L582.7 103.9L582.2 104.0L581.8 104.0L582.2 104.7L582.2 105.5L581.4 105.7L580.8 106.1L580.0 106.2L579.9 105.3L579.3 105.4L578.8 105.0L578.2 104.6L577.7 105.1L577.0 105.1L576.7 104.6L576.1 104.5L575.5 104.5L575.1 104.9L574.6 105.3L573.9 105.2L573.5 104.5L572.5 104.5L572.6 105.5L572.1 105.9L571.6 105.7L571.1 105.4L570.5 105.6L570.5 106.3L569.9 106.5L570.2 107.1L569.5 107.5L569.2 106.8L568.5 106.9L568.0 107.3L567.5 107.5L567.0 108.1L566.4 107.7L565.9 107.7L565.4 107.5L565.5 108.1L565.4 108.7L564.7 108.7L564.4 109.3L565.0 110.5L563.9 111.2L565.0 111.6L565.1 112.7L564.8 114.3L566.4 114.6L567.7 114.6L568.5 113.6L567.9 113.9L567.5 113.4L567.3 114.0L566.8 114.3L566.3 114.3L565.9 114.1L565.4 114.2L565.1 114.6L564.3 114.6L563.7 114.9L563.2 115.6L563.7 116.3L563.5 115.6L562.8 115.6L562.2 115.6L561.6 115.6L561.2 115.4L560.7 115.7L560.2 115.8L560.0 116.2L559.4 116.1L559.1 116.5L558.7 116.6L558.2 116.7L557.6 117.3L557.9 118.2L557.1 118.3L556.7 119.0L556.6 118.1L555.6 118.1L554.7 118.6L554.1 117.9L553.5 118.9L554.3 119.7L553.7 120.9L552.6 120.2L552.0 119.6L551.2 119.9L550.7 119.4L550.0 119.1L549.5 119.0L549.1 118.9L548.4 118.9L548.5 119.6L548.1 119.3L547.7 119.2L547.3 119.4L546.9 119.6L546.3 119.6L546.0 120.2L545.4 120.5L545.6 121.2L545.0 121.0L544.4 121.1L544.0 120.6L543.8 120.0L543.5 120.2L543.1 120.4L542.7 120.4L542.3 120.4L541.9 120.3L541.5 120.5L541.1 120.7L540.8 120.5L540.3 120.5L540.0 120.4L539.6 120.5L539.2 120.7L538.9 120.9L538.5 121.0L538.1 121.1L537.7 120.9L538.4 121.4L539.1 121.0L540.0 120.9L540.2 120.0L539.8 120.9L539.4 121.7L540.3 122.0L541.1 122.6L541.7 122.2L542.3 122.7L542.7 123.3L542.6 123.9L543.2 123.8L543.5 124.4L544.0 124.4L544.5 124.2L545.2 124.5L546.0 124.6L546.0 123.6L547.0 123.4L546.9 124.3L547.8 124.5L548.1 125.1L547.9 125.8L548.0 126.4L548.6 126.5L548.6 127.1L549.2 127.2L549.2 128.2L550.2 128.1L550.3 127.3L551.0 127.1L551.7 127.0L552.4 127.2L551.7 127.8L552.2 128.6L552.6 128.0L553.2 128.5L553.5 127.9L554.1 128.3L553.8 128.8L553.7 129.3L553.1 129.2L552.5 129.2L552.0 128.7L551.5 129.2L551.0 129.5L551.0 130.1L550.2 130.5L549.5 131.0L549.1 132.2L550.4 132.5L549.8 132.3L549.2 132.2L548.6 132.0L547.9 131.9L547.6 132.5L547.8 133.1L547.2 133.3L546.6 133.2L546.4 133.5L545.9 133.7L545.6 134.0L545.4 134.4L545.2 134.9L544.8 135.1L544.2 135.3L544.4 136.0L543.9 135.8L543.4 136.0L543.1 136.4L542.8 136.8L542.3 137.4L541.7 136.9L541.1 137.1L540.6 137.0L540.6 137.6L540.3 138.2L540.5 138.8L540.8 139.3L540.3 139.7L540.0 140.3L539.9 141.1L540.7 141.3L540.1 140.9L539.7 141.5L539.2 141.6L538.7 141.7L538.2 142.0L537.6 142.1L537.0 141.8L536.5 141.9L535.3 141.7L535.2 142.9L535.9 143.4L536.1 144.2L535.4 144.5L534.8 144.9L534.5 144.0L533.5 144.0L533.7 144.8L533.0 145.3L533.5 145.9L533.6 146.6L532.4 146.6L532.4 147.8L531.4 147.5L530.8 148.3L530.2 149.0L529.7 149.8L530.8 150.3L530.5 151.5L529.1 152.1L529.4 153.6L528.5 152.8L527.2 152.9L525.7 153.2L525.4 154.7L525.5 156.6L527.4 156.4L526.8 156.9L527.2 157.5L526.8 157.9L526.4 158.2L526.1 159.1L525.2 159.1L524.5 158.7L524.3 157.9L523.6 158.0L522.9 158.1L522.5 157.6L522.0 157.1L522.4 157.8L521.9 158.4L521.9 159.1L521.2 159.5L521.0 160.6L521.4 161.6L520.3 161.4L519.2 161.7L519.0 162.4L518.4 162.9L517.3 162.7L517.1 163.8L516.2 163.3L515.1 163.4L513.7 163.8L513.3 162.4L512.7 163.3L511.8 164.0L511.2 165.2L512.0 166.2L511.5 166.7L510.8 166.6L510.3 166.2L509.6 166.3L510.5 166.6L510.1 167.5L510.0 168.2L509.4 168.6L509.2 169.4L509.9 169.8L509.4 170.3L509.0 170.8L508.5 170.4L507.9 170.4L507.6 171.1L506.9 171.1L506.0 170.4L505.2 169.7L504.4 170.5L503.8 171.3L503.9 172.2L503.2 172.7L502.7 173.4L502.7 174.2L502.1 174.2L501.4 174.4L501.6 173.4L500.6 173.3L500.0 173.6L499.5 174.0L499.7 174.7L499.7 175.4L500.0 176.1L499.4 176.5L499.4 177.3L498.7 177.5L498.0 177.2L497.4 177.7L496.5 177.5L496.6 176.6L497.2 177.7L496.2 178.4L495.2 179.1L494.3 178.4L493.6 177.9L492.9 177.5L491.8 177.5L491.4 178.4L491.1 177.8L490.4 177.3L489.6 177.2L489.1 177.9L488.8 178.7L487.9 178.5L488.2 179.4L487.3 179.7L486.6 180.0L486.6 180.8L486.4 181.5L485.7 181.8L485.3 181.2L484.6 181.2L483.8 181.2L483.2 180.9L482.6 181.5L481.8 181.0L481.1 180.6L481.0 179.8L480.3 180.7L479.3 180.1L478.7 181.1L479.6 181.8L479.3 182.2L479.1 182.7L478.6 183.1L478.1 183.1L477.6 182.9L477.1 182.6L476.6 182.8L476.0 182.7L474.5 182.9L474.3 181.3L472.9 181.1L472.4 182.5L471.4 182.9L470.5 183.6L469.6 184.9L470.9 185.8L470.7 186.7L470.3 187.6L469.7 188.4L469.5 189.3L468.7 190.2L467.5 189.9L466.1 190.3L465.8 188.8L465.2 188.5L464.8 189.1L464.2 189.0L464.0 189.6L463.9 190.3L463.4 190.7L462.9 190.0L462.2 190.4L462.2 189.4L461.3 189.0L460.6 189.6L459.7 189.5L459.4 190.1L459.5 190.9L458.5 190.9L458.6 191.9L458.0 192.4L457.3 192.9L456.9 194.0L458.0 194.4L457.7 195.2L456.9 195.3L456.2 195.3L455.5 195.0L455.9 195.8L456.8 195.9L457.6 196.5L457.4 197.4L458.0 198.2L457.8 199.2L456.6 199.3L456.5 200.5L456.4 201.1L456.2 201.8L455.5 202.1L455.5 202.9L456.1 203.6L455.8 204.5L455.5 205.4L454.5 205.4L455.5 205.2L456.4 205.7L456.9 206.8L456.0 207.6L454.9 207.7L455.1 208.8L455.6 209.4L455.5 210.2L456.2 210.6L456.9 210.7L457.7 211.2L457.4 212.1L457.1 212.8L456.9 213.5L456.3 213.9L455.5 213.9L456.4 213.9L457.2 214.2L458.4 214.4L458.2 215.6L458.8 216.6L458.0 217.2L457.2 217.9L457.6 218.8L458.5 218.7L459.3 219.2L460.4 219.2L460.9 220.1L461.2 221.2L460.2 221.9L460.9 222.7L460.6 223.7L459.7 224.0L458.9 223.3L458.5 224.5L457.3 224.1L457.3 225.0L457.9 225.7L458.0 226.6L457.6 227.4L457.7 228.1L457.1 228.4L457.5 229.0L458.1 229.0L458.8 229.3L458.5 230.0L459.0 229.6L459.6 229.8L459.7 230.7L460.6 230.9L460.5 231.8L459.6 231.9L460.1 232.3L460.5 232.9L461.3 233.0L461.7 232.3L461.0 233.1L461.5 234.0L462.5 233.6L463.2 234.4L462.6 234.9L461.8 235.0L461.3 235.7L461.7 236.5L462.6 236.8L463.3 237.5L462.1 238.2L462.8 239.4L463.9 239.5L464.2 240.6L465.5 240.9L465.8 239.6L466.3 239.6L466.9 239.6L467.2 239.0L467.8 238.9L468.6 239.0L469.4 239.3L469.3 240.2L468.9 240.8L469.3 240.9L469.7 240.9L470.1 241.1L470.4 241.5L470.6 241.9L471.1 242.0L471.5 242.1L471.9 242.1L472.5 242.3L473.0 242.7L473.6 242.7L474.2 243.0L474.8 243.1L475.4 243.0L476.0 243.2L476.6 243.5L477.1 243.4L477.4 243.0L478.0 242.9L478.5 243.1L478.9 243.0L479.4 242.8L479.9 243.0L480.4 243.1L480.9 243.0L481.4 243.1L481.9 243.3L482.4 243.4L482.9 243.3L483.4 243.2L483.9 243.0L484.3 242.7L484.6 242.5L485.0 242.2L485.4 242.0L485.8 242.0L486.1 241.6L486.5 241.3L486.9 241.1L487.3 241.1L487.8 241.0L488.2 241.0L488.7 240.9L488.9 240.5L489.3 240.3L489.8 240.2L490.1 239.9L490.4 239.6L490.8 239.2L491.3 239.1L491.8 239.2L492.2 239.1L492.6 238.9L493.1 238.6L493.3 238.2L493.5 237.8L493.8 237.4L494.2 237.1L494.4 236.7L494.8 236.4L495.2 236.3L495.7 236.4L496.1 236.1L496.6 235.9L497.1 235.7L497.6 235.8L498.1 235.7L498.5 235.5L498.9 235.1L499.4 234.8L499.5 234.3L499.7 233.8L500.2 233.8L500.6 233.5L501.0 233.3L501.3 232.9L501.8 232.8L502.2 232.5L502.8 232.3L502.7 231.7L502.7 231.0L503.3 230.8L503.8 230.7L504.2 231.0L504.8 230.8L505.0 231.4L505.5 231.4L505.8 231.0L506.2 231.4L506.7 231.5L507.2 231.5L507.6 231.7L508.1 231.5L508.6 231.4L508.9 231.0L508.9 230.4L509.3 229.9L509.1 229.2L509.1 228.5L509.7 228.1L510.2 229.0L511.1 228.7L511.3 227.9L512.0 227.4L512.7 227.3L513.2 226.9L513.4 226.1L514.2 226.1L513.3 226.3L512.9 225.4L513.5 224.6L512.8 224.0L513.0 223.5L512.6 223.0L513.2 222.9L513.4 222.4L512.7 222.3L512.8 221.5L512.7 220.7L513.5 220.6L514.3 220.8L514.4 221.5L515.1 221.7L515.2 222.5L516.1 222.7L516.6 223.5L516.3 224.4L515.6 224.9L516.4 225.6L515.7 226.4L516.0 227.1L515.6 227.8L516.6 227.9L517.4 227.5L518.4 228.1L518.2 229.2L518.2 229.8L518.8 229.9L519.0 230.3L519.4 230.6L519.4 231.1L519.8 231.4L520.2 231.7L520.2 232.3L520.4 232.6L520.6 233.0L520.8 233.4L521.1 233.7L521.1 234.1L520.9 234.5L521.2 234.9L521.2 235.3L521.3 235.8L521.7 236.1L521.5 236.5L521.5 237.0L521.6 237.3L521.7 237.8L522.1 238.0L522.3 238.4L522.7 239.0L523.5 239.3L524.0 239.8L524.7 240.3L525.1 241.0L524.9 241.8L525.3 242.5L525.3 243.3L525.4 243.8L525.3 244.3L525.2 244.8L525.4 245.2L525.6 245.7L525.7 246.2L525.9 246.7L526.4 246.9L526.7 247.6L527.2 248.0L527.7 248.5L527.9 249.2L527.9 249.9L528.2 250.5L528.4 251.2L528.4 251.8L528.5 252.3L528.6 252.7L528.9 253.0L529.3 253.2L529.7 253.3L530.1 253.5L530.4 253.9L530.5 254.3L530.4 254.7L530.7 255.1L530.9 255.5L531.1 255.9L531.3 256.3L531.8 256.4L532.1 256.6L532.5 256.7L533.1 257.1L533.7 257.3L533.8 257.9L534.2 258.4L534.6 258.8L535.1 259.2L535.6 259.5L536.1 259.8L535.8 260.5L535.2 260.8L534.8 261.4L534.5 262.1L534.1 262.7L533.6 263.2L533.6 264.0L533.6 264.7L534.0 265.2L534.6 265.4L535.1 265.7L535.4 266.3L535.4 267.0L535.6 267.6L536.3 267.8L536.6 268.4L536.9 269.0L537.4 269.5L537.7 270.1L538.1 270.6L538.0 271.3L537.9 271.9L537.8 272.6L537.7 273.2L537.6 273.8L537.7 274.3L537.6 274.8L537.2 275.1L537.7 275.1L538.3 275.0L538.8 275.0L539.3 274.8L539.9 274.9L540.4 275.0L541.0 275.0L541.5 275.1L542.1 275.0L542.6 275.1L543.2 275.1L543.7 275.2L544.3 275.2L544.8 275.3L545.3 275.1L545.9 275.1L546.5 274.8L547.1 274.5L547.8 274.2L548.4 274.1L549.1 273.9L549.7 273.7L550.4 273.5L551.0 273.2L550.8 272.6L550.8 271.9L550.6 271.2L550.5 270.5L550.5 269.8L550.4 269.1L550.2 268.4L550.0 267.7L550.7 267.6L551.3 267.3L552.0 267.2L552.7 267.2L553.3 266.8L553.9 266.5L554.6 266.3L555.1 265.9L555.5 265.8L555.9 265.8L556.3 265.8L556.7 265.7L557.1 265.8L557.4 265.8L557.8 265.9L558.2 265.9L558.6 265.9L559.0 265.9L559.4 265.9L559.8 265.8L560.1 265.7L560.5 265.8L560.9 265.9L561.3 265.9L561.7 266.0L562.1 266.0L562.4 266.0L562.8 266.0L563.2 266.0L563.6 265.9L564.0 266.0L564.4 265.9L564.9 265.5L565.6 265.2L566.2 264.9L566.8 264.6L567.5 264.4L568.1 264.2L568.8 264.1L569.5 264.1L569.7 263.4L570.1 262.7L570.3 262.0L570.7 261.4L571.2 260.8L571.8 260.4L572.2 259.8L572.6 259.2L572.7 258.8L572.9 258.4L572.9 258.0L573.0 257.6L573.2 257.3L573.4 256.9L573.5 256.5L573.6 256.1L573.7 255.7L573.7 255.3L573.8 254.9L573.9 254.5L574.0 254.1L574.2 253.8L574.4 253.4L574.6 253.1L574.7 252.7L574.6 252.3L574.6 251.9L574.6 251.5L574.6 251.1L574.6 250.8L574.7 250.4L574.6 250.0L574.7 249.6L574.6 249.2L574.6 248.9L574.5 248.5L574.5 248.1L574.7 247.7L574.6 247.3L574.6 246.9L574.8 246.3L575.1 245.7L575.4 245.1L575.8 244.6L576.2 244.0L576.5 243.4L576.3 242.7L576.7 242.1L577.0 241.8L577.1 241.4L577.1 240.9L577.1 240.5L577.2 240.2L577.2 239.8L577.3 239.4L577.2 239.0L577.1 238.6L576.9 238.2L576.9 237.8L577.1 237.4L577.1 237.0L577.3 236.6L577.4 236.2L577.7 235.9L578.0 235.6L578.5 235.5L578.9 235.6L579.3 235.6L579.7 235.5L580.0 235.1L580.4 235.0L580.8 235.0L581.2 234.9L581.7 235.0L582.0 234.8L582.3 234.5L582.8 234.6L583.1 234.4L583.6 234.4L583.9 234.1L584.3 233.7L584.8 233.6L585.2 233.3L585.5 232.8L586.0 233.0L586.5 232.9L587.0 232.8L587.5 232.6L588.0 232.6L588.5 232.8L589.0 232.5L589.5 232.4L590.0 232.2L590.4 231.8L590.7 231.4L591.1 231.0L591.2 230.4L591.5 229.9L591.6 229.3L591.7 228.7L592.1 228.2L592.5 227.8L593.0 227.4L593.1 226.8L593.4 226.3L593.7 226.0L593.8 225.6L594.1 225.2L594.5 225.0L594.9 224.8L595.3 224.6L595.7 224.3L596.1 224.0L596.3 223.6L596.5 223.2L596.6 222.7L597.1 222.5L597.3 222.1L597.9 222.1L598.3 221.9L598.1 221.3L598.0 220.7L597.7 220.2L597.5 219.6L597.0 219.2L596.8 218.6L596.4 218.1L596.2 217.6L595.9 217.2L595.6 216.8L595.1 216.7L594.7 216.3L594.2 216.3L593.7 216.4L593.2 216.3L592.8 216.0L592.3 215.8L591.9 215.7L591.6 215.2L591.2 215.0L590.7 214.9L590.2 214.8L589.8 214.6L589.4 214.3L588.9 214.1L588.5 213.9L588.1 213.8L587.6 213.6L587.3 213.3L586.8 213.0L586.4 212.9L585.9 212.7L585.3 212.3L584.6 212.1L584.0 211.8L583.3 211.7L582.7 211.3L582.0 211.0L581.4 210.6L580.8 210.2L580.8 209.8L580.9 209.5L580.9 209.1L580.8 208.7L581.0 208.3L581.1 208.0L581.2 207.6L581.3 207.2L581.4 206.8L581.5 206.4L581.6 206.0L581.7 205.7L581.7 205.3L581.7 204.9L581.8 204.5L581.8 204.1L581.8 203.7L581.7 203.4L581.6 203.0L581.6 202.6L581.5 202.2L581.4 201.8L581.4 201.5L581.3 201.1L581.2 200.7L581.1 200.3L581.0 199.9L581.0 199.6L580.9 199.2L580.9 198.8L580.8 198.4L580.8 198.0L581.0 197.6L581.3 197.1L581.5 196.7L581.7 196.2L582.0 195.8L582.1 195.3L582.3 194.8L582.4 194.3L582.5 193.9L582.6 193.4L582.9 193.0L583.1 192.5L583.4 192.1L583.5 191.6L583.7 191.1L583.9 190.7L584.5 190.3L584.9 189.7L585.5 189.3L586.2 189.1L586.6 188.6L587.0 188.0L587.5 187.5L588.0 187.0L588.3 186.8L588.7 186.7L589.0 186.4L589.4 186.2L589.7 186.0L590.0 185.7L590.3 185.4L590.6 185.2L590.9 185.0L591.2 184.7L591.5 184.4L591.8 184.1L592.1 183.9L592.4 183.7L592.8 183.6L593.1 183.3L593.5 182.9L594.0 182.7L594.6 182.5L595.1 182.3L595.5 182.0L595.9 181.6L596.3 181.2L596.7 180.9L597.1 180.5L597.6 180.2L598.0 179.8L598.3 179.4L598.9 179.2L599.4 179.1L599.9 178.8L600.3 178.4L600.7 178.3L601.1 178.3L601.5 178.1L601.9 177.8L602.3 177.7L602.6 177.5L603.0 177.4L603.4 177.2L603.8 177.0L604.2 176.9L604.5 176.7L604.9 176.6L605.3 176.4L605.7 176.2L606.1 176.1L606.5 176.0L606.8 175.8L607.3 175.7L607.6 175.5L608.0 175.2L608.4 175.1L608.8 174.9L609.2 174.8L609.6 174.8L609.9 174.4L610.2 174.1L610.6 173.8L611.0 173.6L611.4 173.4L611.8 173.1L612.2 173.0L612.7 172.9L613.0 172.6L613.4 172.4L613.8 172.3L614.3 172.2L614.6 171.9L615.0 171.7L615.4 171.4L615.7 171.1L616.1 170.8L616.4 170.4L616.7 170.1L617.1 169.9L617.6 169.8L618.0 169.7L618.4 169.4L618.8 169.3L619.2 169.0L619.5 168.7L620.0 168.6L620.4 168.4L620.8 168.2L621.2 168.0L621.6 167.7L621.9 167.4L622.4 166.8L622.7 166.2L623.2 165.6L623.8 165.2L624.1 164.5L624.2 163.8L624.6 163.2L625.0 162.5L624.6 162.0L624.4 161.3L624.1 160.7L623.7 160.2L623.4 159.6L623.2 159.0L623.0 158.3L622.9 157.6L623.3 157.4L623.6 157.1L623.8 156.8L624.1 156.4L624.4 156.2L624.7 155.9L625.1 155.7L625.5 155.5L625.8 155.2L626.1 154.9L626.4 154.6L626.8 154.5L627.1 154.2L627.5 154.0L627.8 153.7L628.1 153.4L628.5 152.9L629.1 152.7L629.6 152.3L630.1 151.8L630.6 151.5L631.2 151.2L631.7 150.7L632.2 150.3L632.6 150.3L633.1 150.2L633.5 150.0L634.0 149.9L634.4 149.8L634.8 149.5L635.3 149.5L635.8 149.4L636.2 149.4L636.7 149.3L637.2 149.2L637.6 149.1L638.1 149.0L638.5 148.8L639.0 148.7L639.4 148.5L639.8 148.3L640.2 148.3L640.7 148.2L641.1 148.1L641.6 148.2L642.0 148.3L642.5 148.3L643.0 148.2L643.4 148.1L643.8 148.0L644.3 148.0L644.7 147.9L645.2 147.9L645.6 148.0L646.1 147.9L646.5 147.9L647.3 147.9L648.0 147.9L648.7 147.9L649.4 147.7L650.1 147.6L650.8 147.5L651.5 147.6L652.2 147.9L653.0 147.9L653.7 147.9L654.5 148.0L655.2 148.3L655.8 148.7L656.5 149.1L657.1 149.5L657.8 149.7L658.2 149.9L658.5 150.2L658.9 150.5L659.3 150.6L659.7 150.8L660.1 150.8L660.6 151.0L660.9 151.2L661.3 151.4L661.7 151.6L662.0 151.9L662.4 152.1L662.8 152.4L663.2 152.5L663.6 152.6L664.0 152.7L664.2 153.3L664.3 154.0L664.4 154.6L664.3 155.2L664.5 155.8L664.5 156.5L664.7 157.1L665.0 157.6L664.6 157.9L664.2 158.1L663.8 158.3L663.3 158.5L662.9 158.7L662.4 158.8L661.9 158.8L661.4 158.9L661.0 159.0L660.5 159.1L660.1 159.2L659.6 159.3L659.1 159.4L658.7 159.7L658.3 159.9L657.8 160.1L657.3 160.5L656.8 160.9L656.2 161.3L655.6 161.8L655.1 162.2L654.6 162.7L654.3 163.3L653.7 163.8L653.3 164.1L652.9 164.3L652.4 164.6L652.0 164.7L651.5 164.9L651.0 165.1L650.5 165.3L650.1 165.6L649.7 165.8L649.2 166.0L648.8 166.3L648.3 166.4L647.9 166.7L647.4 166.9L646.9 167.1L646.5 167.4L646.2 167.6L645.9 167.8L645.5 168.0L645.2 168.2L644.9 168.3L644.5 168.5L644.2 168.7L643.8 168.9L643.5 169.0L643.2 169.3L642.8 169.5L642.5 169.7L642.1 169.8L641.8 169.9L641.4 170.1L641.1 170.3L640.7 170.5L640.4 170.6L640.1 170.9L639.8 171.2L639.4 171.3L639.0 171.4L638.7 171.5L638.3 171.7L638.0 172.0L637.6 172.3L637.3 172.7L636.9 172.9L636.5 173.2L636.1 173.4L635.7 173.7L635.2 173.8L635.0 174.2L634.7 174.6L634.3 174.9L633.9 175.2L633.4 175.3L633.0 175.4L632.6 175.7L632.2 176.0L631.8 176.3L631.3 176.4L630.8 176.7L630.4 177.0L629.9 177.2L629.5 177.3L629.1 177.6L628.6 177.8L628.1 178.0L627.7 178.3L627.2 178.4L626.7 178.6L626.3 178.9L625.8 179.1L625.4 179.4L625.0 179.7L625.0 180.1L625.0 180.6L625.2 181.1L625.4 181.5L625.5 182.0L625.6 182.5L625.8 182.9L626.0 183.3L625.5 183.8L624.8 184.1L624.3 184.5L623.7 184.9L623.3 185.5L622.9 186.0L622.3 186.4L621.9 187.0L622.0 187.7L622.4 188.2L622.7 188.9L622.8 189.5L623.0 190.2L623.2 190.8L623.5 191.4L624.0 191.9L624.1 192.4L624.3 192.8L624.4 193.2L624.6 193.7L624.7 194.2L624.7 194.6L624.8 195.1L625.0 195.6L625.1 196.0L625.2 196.5L625.4 196.9L625.5 197.4L625.5 197.9L625.6 198.4L625.8 198.8L626.0 199.2L625.8 199.6L625.7 200.0L625.6 200.4L625.5 200.8L625.4 201.2L625.3 201.6L625.1 201.9L625.0 202.3L624.8 202.7L624.8 203.1L624.5 203.4L624.3 203.8L624.2 204.2L624.2 204.6L624.1 205.0L624.0 205.4L624.1 205.9L624.2 206.4L624.4 207.0L624.4 207.5L624.7 208.0L624.6 208.6L624.9 209.1L625.0 209.6L625.5 210.0L626.0 210.5L626.6 210.9L627.3 210.8L627.6 211.4L627.9 212.0L628.5 212.3L629.1 212.7L629.7 212.6L630.2 212.8L630.7 213.1L631.1 213.5L631.6 213.7L632.1 214.0L632.6 213.8L633.2 213.9L633.4 214.3L633.3 214.8L633.4 215.2L633.8 215.5L634.1 215.8L634.4 216.1L634.8 216.2L635.2 216.4L635.8 216.9L636.5 217.3L637.2 217.6L637.8 218.1L638.4 218.5L638.8 219.2L639.3 219.8L639.4 220.6L639.8 220.7L640.2 220.9L640.6 220.7L641.0 220.6L641.5 220.6L641.8 220.3L642.2 220.0L642.4 219.7L642.9 219.6L643.2 219.3L643.5 219.0L643.8 218.7L644.2 219.0L644.6 219.0L645.1 218.9L645.5 218.8L646.1 218.5L646.8 218.3L647.4 218.1L648.0 218.0L648.7 217.8L649.3 217.6L650.0 217.7L650.7 217.6L651.0 217.5L651.4 217.4L651.8 217.4L652.2 217.2L652.6 217.3L652.9 217.5L653.3 217.5L653.7 217.4L654.1 217.2L654.5 217.3L654.9 217.4L655.3 217.6L655.7 217.7L656.1 217.5L656.4 217.3L656.8 217.2L657.2 217.3L657.5 217.7L658.0 217.5L658.4 217.6L658.7 217.3L659.1 217.1L659.5 217.0L659.9 217.0L660.4 217.1L660.8 217.0L661.3 216.8L661.8 216.9L662.2 216.7L662.7 216.6L663.0 216.2L663.5 216.1L663.9 215.9L664.4 215.7L664.8 215.6L665.2 215.4L665.7 215.2L666.1 215.0L666.6 215.0L667.1 215.1L667.6 215.2L668.1 215.1L668.5 215.4L669.0 215.4L669.5 215.3L669.9 215.1L670.2 214.7L670.7 214.5L671.2 214.6L671.6 214.5L672.1 214.3L672.4 214.0L672.9 213.9L673.4 213.9L673.8 213.8L674.3 213.9L674.5 213.6L674.9 213.4L675.3 213.3L675.8 213.3L676.1 213.5L676.6 213.5L677.0 213.4L677.4 213.3L677.7 213.6L678.2 213.6L678.6 213.4L679.0 213.5L679.3 213.2L679.6 212.9L680.1 212.9L680.4 212.7L680.9 212.8L681.5 212.9L682.0 212.8L682.5 212.9L683.0 213.1L683.6 213.1L684.0 212.8L684.6 212.7L685.1 212.8L685.5 213.1L686.1 213.0L686.6 213.0L687.1 212.7L687.6 212.9L688.2 212.8L688.7 212.7L689.2 212.6L689.7 212.7L690.2 212.6L690.8 212.6L691.3 212.6L691.8 212.4L692.2 212.2L692.8 212.1L693.3 212.0L693.9 212.0L694.5 212.1L694.9 212.5L695.5 212.3L695.8 211.8L696.3 211.6L696.9 211.5L697.3 211.7L697.7 211.6L698.2 211.7L698.4 212.0L698.8 212.3L699.1 212.5L699.5 212.7L700.0 212.7L700.3 212.9L700.5 213.3L700.9 213.5L701.0 213.9L701.4 214.0L701.8 214.3L702.2 214.3L702.5 214.5L702.8 214.8L703.1 215.0L703.5 215.3L703.7 215.6L704.0 215.9L704.4 216.0L704.7 216.2L705.1 216.4L705.6 216.6L706.1 216.8L706.3 217.2L706.7 217.6L707.2 217.5L707.7 217.4L708.2 217.7L708.7 217.9L709.1 218.3L709.5 218.6L710.0 218.5L710.5 218.6L711.0 218.8L711.4 218.9L711.9 219.1L712.3 219.4L712.7 219.5L713.1 219.5L713.4 219.7L713.8 219.8L714.2 219.9L714.6 220.0L715.0 220.0L715.4 220.0L714.7 219.8L714.1 219.7L713.5 219.6L712.8 219.7L712.2 219.8L711.5 219.9L710.8 219.8L710.2 219.4L709.8 219.4L709.3 219.5L708.8 219.4L708.4 219.7L708.0 219.8L707.5 219.7L707.0 219.7L706.6 219.4L706.2 219.5L705.7 219.6L705.3 219.7L704.8 219.8L704.3 219.8L703.9 220.0L703.4 219.7L703.0 219.4L702.3 219.6L701.8 220.2L701.1 220.3L700.4 220.1L699.6 220.0L698.9 220.2L698.6 220.9L697.9 221.3L697.7 221.6L697.2 221.8L697.2 222.2L696.9 222.6L696.6 222.9L696.1 222.8L695.7 223.0L695.3 223.1L694.9 223.2L694.5 223.3L694.2 223.5L693.8 223.6L693.4 223.9L693.4 224.4L693.1 224.7L692.8 224.9M566.4 114.2L565.0 116.2L562.9 113.3L561.2 113.1L560.0 116.8L558.4 117.7L556.5 116.0L554.7 115.2L552.7 114.4L551.0 115.1L549.7 116.7L548.0 117.1L546.1 116.9L544.7 118.2L543.1 118.8L541.2 118.7L539.9 120.0L538.6 121.4L537.8 121.3L538.2 120.7L540.1 121.7L541.7 121.1L543.1 119.3L544.8 119.1L546.8 120.4L548.8 122.2L550.8 122.5L551.9 119.6L552.8 116.6L554.2 115.3L556.0 115.3L557.8 115.2L559.2 114.1L561.1 114.3L563.4 116.0L565.0 115.5L566.4 114.2M572.6 105.0L571.1 105.7L569.9 107.3L568.2 107.4L565.8 105.8L564.1 106.2L563.0 108.7L564.0 111.0L566.1 112.7L567.9 110.0L569.3 108.9L571.5 110.1L573.3 110.2L574.4 108.6L573.9 106.7L572.6 105.0M589.0 99.5L587.1 98.7L585.5 99.0L584.0 100.2L582.3 100.2L579.9 101.3L581.7 103.7L583.3 104.1L585.4 103.4L588.1 105.7L590.5 102.9L589.0 99.5M590.1 255.5L591.4 254.1L593.2 253.1L593.8 251.4L594.5 249.8L595.2 248.2L596.1 246.6L597.0 245.2L595.5 245.2L593.8 244.8L592.5 245.1L591.2 246.4L589.8 248.1L589.6 250.0L589.5 251.8L589.7 253.7L590.1 255.5M572.6 265.3L574.0 263.9L575.2 262.3L576.3 260.5L577.5 259.1L577.8 257.3L578.0 255.5L578.0 253.6L578.6 252.1L577.8 253.3L577.0 254.7L576.2 256.2L575.6 257.8L574.9 259.3L574.4 260.8L573.9 262.3L573.3 263.8L572.6 265.3M632.2 235.9L633.1 237.6L634.3 239.1L635.6 240.1L636.8 239.8L638.7 240.2L641.0 239.7L638.9 238.5L637.5 237.3L636.6 235.1L634.2 234.6L632.2 235.9M635.2 231.7L637.4 231.9L638.8 231.9L639.9 230.6L638.8 231.3L637.0 231.4L635.2 231.7M608.5 217.6L610.5 216.1L612.3 215.1L611.1 214.5L609.5 213.8L609.0 215.7L608.5 217.6M692.8 224.9L690.6 223.6L688.5 223.9L686.6 224.8L684.9 225.5L683.1 225.7L681.5 224.8L679.8 224.0L678.1 224.4L676.3 224.7L674.4 224.8L672.6 224.4L670.8 223.8L668.9 224.2L667.1 223.6L665.3 223.2L663.8 224.1L662.2 224.6L660.6 225.1L659.1 225.8L657.7 226.6L656.0 226.5L654.1 225.7L652.4 225.5L650.8 226.6L649.1 227.8L647.3 228.2L645.5 228.6L645.5 230.4L645.5 232.3L645.9 234.1L646.4 236.1L648.1 236.4L649.3 237.7L650.5 238.9L652.1 239.2L653.3 240.0L654.1 241.8L655.7 243.3L655.4 244.9L654.9 246.5L654.7 248.2L654.7 249.8L654.8 251.4L654.7 253.1L653.1 254.2L651.6 255.4L650.0 255.5L648.3 255.5L646.5 255.5L644.4 254.4L642.4 253.1L641.2 251.7L640.1 250.2L638.9 248.9L637.6 247.6L636.3 246.3L634.8 247.0L633.3 247.9L631.7 248.4L630.0 248.6L628.3 249.4L626.7 250.4L624.9 251.1L623.8 252.5L623.1 254.1L622.1 255.5L620.8 256.7L620.6 258.4L620.3 260.0L619.9 261.6L620.0 263.7L620.5 265.7L621.1 267.7L621.3 269.6L621.1 271.5L621.3 273.1L622.0 274.6L622.2 276.7L619.0 277.3L617.7 278.5L616.2 279.5L614.6 280.4L613.0 280.5L611.3 280.8L609.8 280.8L609.1 282.7L608.2 284.7L606.9 285.5L605.5 286.7L603.4 287.6L601.3 288.3L599.7 288.0L597.9 287.8L596.2 287.4L595.4 285.5L594.6 283.5L597.2 284.7L595.1 283.9L593.1 282.6L591.5 282.9L589.9 283.2L588.2 283.1L586.6 283.1L585.0 283.4L583.3 283.7L581.6 283.8L580.0 284.3L578.4 284.8L576.7 285.0L575.3 285.7L573.9 286.7L572.3 287.4L570.9 288.1L569.6 289.3L567.7 289.5L565.9 289.6L564.1 289.9L562.4 290.6L560.8 291.2L559.1 291.6L557.4 291.9L555.7 292.3L554.1 292.9L552.1 293.2L550.1 293.3L548.0 291.4L545.9 291.3L543.8 291.1L541.8 289.9L539.9 289.1L541.3 287.4L543.1 285.4L540.7 285.8L538.7 286.7L536.6 286.7L534.6 286.9L532.6 287.0L531.2 287.7L529.8 288.7L528.4 289.8L526.8 290.2L525.2 290.6L523.7 291.5L522.3 292.4L520.6 292.3L518.8 292.2L517.2 292.2L516.8 290.3L516.2 288.6L517.2 287.3L515.3 287.1L513.5 287.2L511.7 287.3L510.0 287.2L508.0 286.4L506.1 285.9L506.9 284.8L506.5 283.3L504.5 283.3L502.7 281.8L505.4 280.1L504.6 277.7L503.2 276.3L503.0 274.1L503.7 271.7L505.6 270.9L507.4 270.4L508.1 269.1L508.4 267.2L510.1 265.4L512.0 264.6L513.7 263.5L516.2 262.3L514.8 261.0L512.9 261.3L511.2 261.1L509.8 259.9L510.1 257.7L510.6 255.6L512.1 254.2L512.9 252.4L512.7 250.2L512.0 248.0L512.5 246.8L511.7 247.6L510.1 248.1L508.3 247.9L507.0 249.0L506.2 250.6L504.9 251.6L503.2 252.3L501.5 252.5L499.8 252.8L498.0 253.6L496.3 254.4L494.5 255.3L492.7 254.8L490.5 254.8L488.8 255.6L487.6 257.6L488.5 260.1L489.1 262.3L488.6 264.1L488.1 266.1L488.0 268.1L488.1 270.1L489.1 272.0L490.4 273.9L491.0 275.5L491.6 277.2L492.3 278.8L492.4 281.4L493.9 283.1L495.4 284.9L494.2 286.6L493.1 287.9L494.5 289.1L496.1 290.4L495.7 292.3L495.1 294.1L493.7 295.5L492.5 297.1L490.4 297.5L488.5 298.0L486.4 295.8L484.5 295.7L482.7 295.6L480.9 295.6L479.1 295.8L477.7 297.8L476.1 299.7L474.3 299.4L472.6 299.3L470.9 299.0L469.1 299.1L467.3 299.1L465.5 299.0L463.7 298.7L461.8 299.1L460.1 299.6L458.3 300.2L456.4 300.6L455.4 302.1L454.6 303.7L453.6 305.0L454.7 306.3L456.0 307.5L457.5 308.4L459.2 309.0L461.1 310.1L458.7 311.2L456.5 311.6L454.8 311.4L453.1 311.6L451.4 311.8L449.8 313.3L448.1 314.6L446.7 316.0L445.4 317.6L444.1 318.6L442.6 319.5L441.2 320.3L443.2 321.3L445.3 322.2L443.6 322.8L441.8 323.1L440.1 323.5L438.1 324.8L436.0 325.6L433.9 326.4L431.8 327.1L429.8 328.0L427.8 328.6L425.7 328.8L423.5 329.2L422.2 330.8L420.9 332.2L420.8 333.8L420.6 335.6L420.7 337.5L419.7 339.1L418.7 340.8L416.5 341.5L414.4 342.3L412.7 342.9L411.0 343.6L409.3 344.3L407.5 345.2L405.7 346.0L405.9 348.1L403.9 348.4L402.0 349.2L400.3 349.4L398.5 349.4L396.7 349.1L394.9 348.6L391.9 348.9L391.7 347.2L391.2 345.5L389.5 345.5L387.7 345.1L384.5 344.6L385.2 346.6L386.0 348.4L386.8 349.9L387.2 351.7L387.4 353.5L387.5 355.7L388.7 357.6L387.0 357.6L385.3 358.0L383.6 357.5L381.7 357.3L380.1 358.0L378.6 358.1L376.9 357.6L374.6 357.6L373.1 356.5L371.6 356.3L369.9 356.1L368.2 355.9L366.5 356.3L364.8 356.6L363.2 357.5L361.2 358.3L359.1 358.5L357.2 358.8L356.1 359.8L354.8 361.6L357.0 362.3L359.3 362.5L357.9 364.5L356.6 364.8L358.2 365.7L360.1 367.0L362.0 367.0L364.1 367.1L365.9 367.8L367.6 368.5L369.3 369.2L371.2 369.9L372.5 371.3L374.4 372.1L376.3 372.1L377.7 373.4L379.3 374.6L381.6 374.8L383.5 376.1L383.9 378.4L383.6 380.9L384.7 382.4L385.7 383.9L387.3 384.8L388.9 385.6L390.4 386.5L392.0 387.5L392.2 389.3L392.5 390.9L393.0 392.5L392.9 394.4L392.6 396.2L392.5 398.3L392.4 400.3L392.0 402.3L391.5 403.9L391.2 405.6L391.2 407.2L391.0 409.1L390.4 410.9L389.9 412.7L389.5 414.5L389.0 416.5L388.7 418.6L388.2 420.7L385.7 422.2L383.9 422.5L382.1 422.8L380.3 422.9L378.5 422.7L376.8 422.6L375.0 422.5L373.3 422.5L371.7 422.4L370.0 422.2L368.4 421.9L366.8 421.5L365.1 421.0L363.3 421.3L361.5 421.9L359.7 422.0L357.9 421.7L356.1 421.3L354.2 421.3L352.4 420.8L350.6 420.1L348.7 419.8L346.4 419.3L344.1 418.7L342.3 418.9L340.7 419.3L339.1 419.8L337.4 420.0L335.6 419.8L333.8 420.0L332.0 420.0L330.1 419.7L328.5 418.6L326.9 417.8L325.1 417.9L324.0 418.9L322.5 419.9L321.0 420.8L319.3 421.5L317.4 421.4L315.4 420.8L313.7 421.0L312.2 422.4L311.4 424.4L310.2 425.8L308.3 427.4L309.5 429.5L310.9 430.5L312.5 431.2L313.5 433.1L313.5 435.4L312.6 436.9L313.0 438.6L313.3 440.2L313.7 441.9L314.2 443.6L314.6 445.4L314.6 447.2L314.9 448.8L314.9 450.5L314.8 452.2L314.3 453.8L313.7 455.4L313.3 457.2L312.8 459.1L312.3 460.9L311.9 462.8L311.6 464.7L311.1 466.5L310.4 468.2L308.8 469.6L307.3 471.3L307.3 473.1L307.1 474.8L306.9 476.5L306.9 478.3L309.6 480.1L312.0 479.6L310.7 480.7L309.6 482.5L311.7 482.5L313.9 482.3L314.1 484.3L314.0 486.1L314.0 488.0L313.7 489.8L313.4 491.6L313.4 493.5L313.6 495.3L313.0 496.8L312.2 498.3L311.6 500.2L313.9 499.8L315.8 499.5L317.4 499.7L319.2 499.6L320.9 499.8L322.5 500.5L324.5 499.8L326.3 498.8L328.2 498.1L329.9 498.3L331.6 498.0L333.4 497.5L334.8 498.7L336.2 499.8L337.4 501.2L338.4 502.7L338.8 504.5L339.4 506.3L341.0 508.1L342.7 509.8L344.7 510.9L346.6 512.3L349.3 510.8L350.5 509.5L351.4 508.0L352.5 506.6L354.2 505.9L355.9 505.4L357.4 504.7L359.0 504.1L360.8 503.9L362.6 503.5L364.5 503.3L366.3 503.2L368.2 503.2L370.0 503.2L371.8 503.4L373.6 503.9L375.4 503.8L377.4 503.6L379.5 503.7L381.7 503.6L383.3 501.6L384.7 499.6L385.8 498.2L386.9 496.9L387.9 495.6L389.3 494.9L390.8 494.1L392.3 493.5L393.8 492.7L396.8 492.0L396.5 490.4L396.7 488.6L397.1 486.8L398.2 485.3L399.1 483.8L400.7 482.6L402.3 481.4L404.0 480.4L406.5 479.0L405.0 477.5L403.2 476.3L402.5 474.8L402.2 473.1L401.6 471.6L400.7 470.2L401.2 468.3L402.2 466.5L403.3 464.8L404.7 463.5L405.9 461.9L407.3 460.5L408.5 459.4L409.5 458.2L410.8 457.2L412.1 456.2L413.4 454.9L411.4 453.1L413.1 452.1L414.8 451.2L416.5 450.0L418.2 449.7L419.8 449.3L421.4 448.6L423.1 448.1L424.8 447.9L426.6 446.9L428.3 445.9L429.9 444.6L431.1 443.4L432.5 442.5L434.1 441.8L435.7 441.4L437.3 440.4L436.9 438.6L437.0 437.0L436.9 435.4L435.9 434.0L435.3 432.3L435.7 430.5L435.6 428.6L435.5 426.8L436.7 425.6L437.8 424.3L439.0 423.1L440.8 422.2L442.7 421.4L444.2 420.4L446.2 421.0L448.2 421.5L449.8 422.0L451.4 422.9L454.5 422.3L456.5 422.9L458.7 423.5L460.3 423.9L461.9 424.7L463.5 425.4L465.2 425.8L466.9 425.1L468.5 424.7L470.3 424.7L472.0 424.5L473.7 422.8L475.5 421.2L476.9 419.9L478.4 418.5L479.9 417.2L482.1 416.7L484.3 416.4L486.1 416.2L487.8 415.5L489.3 414.4L490.6 413.3L492.1 412.2L493.2 410.8L494.4 409.4L496.3 409.6L498.0 409.7L499.8 409.9L501.5 411.1L503.1 412.3L504.7 413.5L506.9 414.5L509.0 415.7L509.1 417.4L509.4 419.1L509.7 420.7L510.2 422.3L510.8 423.8L511.6 425.2L512.2 426.7L513.3 427.8L514.7 428.9L516.0 429.9L516.9 431.4L518.0 432.8L519.2 434.0L521.2 434.7L523.2 435.6L524.6 436.6L526.1 437.7L527.4 439.0L528.8 440.2L530.2 441.4L531.6 442.6L533.2 444.0L534.9 445.2L536.6 446.4L538.4 447.0L540.3 447.2L542.1 447.3L544.0 447.9L545.4 449.1L546.7 450.2L547.8 451.7L548.9 453.2L551.5 453.7L552.2 456.0L554.1 455.6L556.1 455.7L556.8 457.9L557.9 460.0L559.6 461.5L561.2 463.1L563.3 463.7L565.2 464.4L565.8 466.0L566.8 467.7L567.5 469.6L568.0 471.3L568.9 472.8L569.6 474.5L569.9 476.7L570.4 478.7L568.9 479.9L567.3 481.0L566.0 482.9L565.1 484.9L565.5 486.7L565.6 488.3L567.5 488.4L569.6 488.7L571.0 487.2L572.3 485.7L573.4 484.0L574.6 482.4L574.3 480.3L574.1 478.2L576.1 477.6L578.1 476.9L579.9 475.9L579.9 474.1L580.2 472.5L580.5 470.7L579.0 469.7L577.7 468.6L576.3 467.7L575.0 466.9L574.5 465.2L574.0 463.5L574.8 462.2L575.6 460.7L576.8 459.4L577.8 458.2L579.8 458.1L581.9 457.7L583.5 458.1L584.9 458.9L586.4 459.5L588.1 459.7L589.6 460.5L591.0 461.5L592.4 462.7L592.5 464.5L593.4 466.4L594.0 463.9L594.2 461.6L592.8 460.2L591.5 458.7L590.3 457.0L588.9 455.7L587.2 455.1L585.7 454.3L584.0 453.6L582.3 453.0L580.6 452.2L579.3 451.3L578.0 450.3L576.5 449.6L575.0 449.0L573.6 448.3L572.0 447.5L570.4 446.6L569.0 445.5L567.3 444.6L568.4 443.0L569.4 441.6L570.5 440.3L568.5 440.0L566.4 439.8L564.4 439.4L562.4 438.9L560.2 438.9L557.9 439.2L556.2 437.8L554.4 437.1L552.7 435.9L551.3 434.9L549.8 434.0L549.3 432.1L548.6 430.5L547.5 429.3L546.2 427.9L545.5 426.3L544.6 424.8L543.7 423.2L543.1 420.8L542.2 418.5L540.7 417.5L539.2 416.7L537.8 415.9L536.4 415.1L534.9 414.4L533.3 413.5L532.3 411.6L531.4 409.7L530.7 407.8L531.0 406.2L531.2 404.6L531.3 403.0L530.2 401.2L529.2 399.2L530.8 397.5L532.4 396.0L534.1 395.6L535.6 395.0L537.1 394.2L538.7 393.6L540.8 393.7L542.8 393.5L545.0 393.6L544.3 395.3L542.7 396.4L541.0 399.3L542.3 401.9L543.1 403.6L545.8 406.1L548.4 403.6L549.2 401.3L550.6 397.5L554.9 397.5L556.5 400.0L556.7 402.7L557.2 404.7L559.0 406.1L560.8 407.6L561.8 409.0L562.0 410.4L562.5 412.8L563.5 414.7L565.8 415.1L567.9 415.7L568.5 417.0L569.3 418.8L570.3 421.0L572.1 421.8L574.2 421.1L576.3 420.4L578.0 420.7L579.3 422.2L580.0 424.3L580.9 425.9L581.9 427.7L583.5 429.0L585.6 429.3L587.6 429.9L589.5 430.7L592.0 430.8L593.9 431.7L594.8 433.5L596.4 434.5L598.3 435.2L600.1 436.0L601.0 437.6L601.7 439.8L603.0 441.1L603.4 443.1L604.0 445.2L604.0 446.9L603.8 448.8L603.6 450.9L603.1 453.0L602.7 455.2L602.7 457.3L604.9 459.4L606.0 460.8L607.2 462.2L608.7 463.4L609.8 465.5L610.2 468.0L610.8 470.1L612.9 471.3L614.4 472.2L615.1 474.2L616.7 475.1L618.7 477.0L619.8 478.6L620.5 480.9L621.1 482.7L622.6 484.1L625.0 483.9L627.2 483.5L628.9 484.3L630.5 485.7L632.5 485.4L634.5 485.3L636.2 486.4L638.1 486.8L638.6 487.8L637.8 487.6L637.0 485.9L635.9 484.4L634.4 483.2L632.5 484.1L630.8 484.4L629.2 484.1L627.7 485.2L625.9 485.9L624.0 486.2L622.0 487.6L620.5 489.8L622.3 491.1L623.3 492.7L624.3 494.3L626.2 495.2L626.6 496.9L625.9 498.8L626.6 500.4L627.6 501.0L629.0 501.2L630.9 501.8L632.2 503.2L633.1 505.0L633.5 507.8L635.6 506.1L636.2 504.5L636.3 502.8L639.1 502.9L640.3 504.8L640.6 507.8L643.1 506.5L640.6 505.3L639.3 504.1L639.6 502.0L639.7 500.1L638.9 498.1L638.9 496.0L638.8 494.9L640.1 495.3L642.2 494.9L644.3 495.0L644.6 495.3L643.5 495.5L643.1 493.5L642.4 491.6L644.3 491.3L645.6 490.1L646.5 488.4L648.1 489.5L649.9 490.1L651.3 491.5L650.3 490.7L651.1 488.8L651.6 486.6L649.5 485.6L647.6 485.1L646.7 483.4L644.9 481.7L642.9 480.6L641.4 479.6L639.9 478.5L639.0 477.6L640.0 476.9L640.4 475.5L639.3 474.1L639.5 471.0L642.0 472.2L643.0 473.0L641.6 472.7L641.0 470.8L640.0 469.1L639.8 466.9L639.1 465.1L637.2 464.4L635.6 463.1L635.9 461.0L635.7 459.2L635.5 456.8L637.9 456.4L639.7 456.8L640.7 457.9L642.8 458.5L644.0 459.9L644.5 462.0L645.3 463.9L647.9 464.7L646.0 463.0L644.8 461.8L644.3 459.7L646.2 460.2L648.0 460.3L649.5 461.4L650.9 463.5L654.0 464.0L651.4 462.7L649.5 461.5L648.6 459.1L649.2 456.4L649.0 454.5L650.2 453.9L651.6 453.1L653.2 452.6L654.8 452.5L656.9 453.0L659.0 453.3L660.9 453.2L662.8 453.4L664.9 453.9L666.8 453.9L668.5 453.4L670.4 453.1L671.6 454.6L673.2 455.9L675.2 456.5L677.0 456.9L676.2 458.0L674.9 459.2L673.8 460.5L673.1 462.3L674.2 462.4L675.0 461.1L676.4 460.2L677.5 458.9L678.8 457.6L681.1 457.7L683.3 458.0L685.5 457.1L686.5 455.1L687.2 453.4L687.5 452.6L688.3 453.0L690.0 452.1L691.7 450.8L693.6 450.0L695.7 449.5L697.9 449.6L700.0 450.1L702.2 450.9L703.4 448.1L701.4 446.9L699.7 445.6L698.1 444.2L696.6 443.2L695.0 442.4L693.3 441.8L691.6 441.0L691.1 439.2L690.4 437.6L689.7 436.0L688.1 434.8L686.7 433.5L688.1 432.2L689.3 430.6L690.7 429.2L690.8 427.6L690.9 426.0L691.0 424.5L692.6 423.3L694.3 422.2L696.2 421.0L697.1 419.0L697.7 416.9L697.8 414.9L698.5 412.9L699.0 410.9L699.7 409.3L700.8 408.0L702.2 406.9L703.2 405.6L704.5 404.4L706.1 403.5L707.8 402.8L709.5 401.8L709.5 399.9L709.4 398.1L710.4 396.5L711.5 395.0L712.8 393.7L714.2 392.4L715.2 390.9L716.3 389.4L717.7 388.1L718.7 386.6L720.1 385.0L721.6 383.5L723.6 383.3L725.6 383.1L727.7 382.5L729.3 382.0L731.0 381.7L733.4 382.1L731.6 384.2L730.2 385.8L731.5 386.0L733.0 387.0L734.5 388.0L736.2 388.5L738.0 388.9L739.7 389.0L741.4 388.8L743.1 388.7L744.8 389.0L746.5 389.3L748.2 389.5L746.5 390.4L744.8 391.5L743.1 392.6L741.7 393.5L740.4 394.6L739.2 395.7L738.1 396.8L739.7 397.4L741.4 398.1L743.0 398.9L744.1 400.2L745.6 401.2L747.1 402.1L748.7 403.4L748.5 405.7L748.2 407.9L749.9 408.0L751.5 408.3L753.1 408.7L754.8 408.8L756.4 408.8L757.6 407.8L759.2 407.1L760.8 406.6L762.3 405.7L763.7 404.8L765.4 403.5L766.9 402.1L768.5 400.6L770.4 400.3L772.2 400.2L773.9 399.9L775.7 399.6L777.4 399.2L779.0 398.7L777.2 398.4L775.5 398.0L773.6 397.8L771.8 397.6L770.1 396.8L768.4 396.3L766.8 395.4L765.3 394.4L763.6 393.8L763.1 392.2L762.7 390.7L761.9 389.2L761.2 387.5L763.2 386.5L764.9 385.8L766.7 385.1L768.5 384.6L770.2 384.1L771.9 383.4L773.5 382.6L775.3 382.2L777.1 381.7L778.5 380.8L780.1 380.1L781.7 379.6L783.4 379.1L785.0 378.8L786.7 378.4L788.2 377.5L789.9 377.2L791.5 377.1L793.2 376.8L794.8 376.6L796.5 376.4L798.1 375.9L799.8 375.5L801.6 375.5L803.4 375.5L805.1 375.4L806.7 374.8L805.7 376.1L804.3 376.9L802.8 377.6L801.3 378.4L799.9 379.2L798.5 380.1L797.4 381.3L795.5 381.9L793.4 382.2L791.3 382.7L792.9 383.8L794.1 385.1L795.2 386.4L796.7 387.6L795.9 389.4L794.6 390.8L793.3 392.1L792.2 393.6L791.1 395.0L790.0 396.4L788.7 397.6L787.4 398.9L785.3 399.3L783.2 399.5L781.3 399.9L782.7 400.7L784.1 401.9L785.7 402.7L787.5 403.2L788.9 403.9L790.2 405.0L791.6 405.7L793.2 406.2L794.5 407.1L795.8 408.1L797.3 408.7L798.9 409.3L800.2 410.1L801.6 411.0L803.2 411.7L804.8 412.4L806.2 413.5L807.6 414.6L809.1 415.4L810.7 416.0L812.1 417.1L813.4 418.3L814.9 419.3L816.2 420.5L817.5 421.8L819.0 422.9L820.8 423.5L822.5 424.3L824.0 425.4L825.3 426.8M830.4 445.1L829.3 446.4L827.8 447.2L826.4 448.1L825.1 449.1L823.5 449.7L821.9 450.3L820.2 450.8L818.4 451.0L816.7 451.5L815.0 452.0L813.3 451.5L811.6 451.1L809.9 450.9L808.2 450.7L806.5 450.7L804.7 450.7L803.0 450.8L801.3 451.0L799.6 451.0L797.9 451.4L796.2 451.7L794.5 451.7L792.8 451.4L791.1 451.1L789.5 450.5L787.9 450.0L786.2 449.7L784.5 449.4L782.9 448.8L781.3 448.4L779.6 448.1L777.9 447.7L776.6 446.3L775.4 444.9L774.2 443.4L772.9 442.0L771.1 441.7L769.4 441.3L767.9 440.4L766.3 439.6L764.6 439.2L762.8 439.5L761.0 439.3L759.1 439.2L757.3 439.4L755.4 439.9L753.5 440.0L751.7 439.7L749.9 439.3L748.0 439.2L746.2 439.0L744.4 439.4L742.6 439.9L740.9 440.4L739.2 441.1L737.6 441.9L735.8 442.5L734.4 443.7L732.9 444.7L731.3 445.4L729.9 446.6L728.5 447.8L726.8 448.6L724.9 448.3L723.1 448.0L721.4 448.1L719.6 448.5L717.9 448.5L716.1 448.4L714.3 448.4L712.6 448.6L710.9 448.9L709.2 449.2L707.5 449.1L705.8 448.8L704.0 448.6L702.7 449.9L701.5 451.6L703.2 452.7L704.9 453.2L706.4 454.4L704.0 454.8L702.0 455.5L700.5 456.4L699.0 457.1L697.5 458.0L696.1 459.6L694.0 459.3L692.1 458.7L690.3 459.0L688.5 459.6L686.6 459.0L684.8 458.7L683.0 458.9L681.2 458.5L679.3 458.9L678.5 460.8L676.9 461.6L674.9 461.9L673.4 463.6L672.6 465.9L672.5 468.1L671.4 470.8L674.0 470.8L675.5 469.4L677.2 469.5L678.9 469.8L680.7 468.9L679.7 471.1L677.5 473.3L678.7 475.5L680.3 477.0L680.4 480.0L682.4 482.5L680.7 482.2L679.0 482.5L677.6 483.9L676.3 484.9L675.5 484.3L676.5 484.1L678.1 484.6L680.0 485.7L681.7 487.3L683.3 487.9L685.4 488.7L684.0 490.8L682.7 492.2L683.0 494.1L684.2 495.9L684.7 497.8L685.7 499.4L687.6 498.8L689.7 498.7L692.6 499.2L690.3 500.9L688.6 501.8L686.8 502.0L687.9 503.7L689.5 504.6L691.9 505.0L693.7 503.7L694.8 502.7L696.7 503.3L698.8 504.1L701.0 504.5L703.0 505.1L704.4 506.2L705.7 507.4L706.8 508.9L708.1 510.3L710.3 510.0L712.4 509.6L714.4 508.8L715.7 507.3L717.1 506.0L718.0 504.7L718.9 503.2L719.4 501.5L721.3 501.4L723.0 501.7L724.7 502.3L726.3 503.1L728.0 503.5L729.7 504.1L731.2 504.9L732.7 505.9L733.9 507.2L735.6 508.2L736.9 509.6L737.8 511.5L740.0 511.9L742.1 511.7L743.8 511.1L745.6 510.8L747.4 510.3L749.2 509.9L750.9 509.4L752.6 508.8L754.1 508.3L755.2 506.9L756.6 505.4L758.0 503.9L759.5 502.7L761.6 503.0L763.6 503.3L765.3 504.1L767.0 504.7L768.8 505.1L770.0 503.9L771.5 503.0L772.9 502.2L774.4 503.6L776.4 505.1L774.7 507.1L772.9 508.8L772.5 510.6L772.2 512.4L771.9 514.3L772.0 516.1L772.4 518.0L773.0 519.8L773.1 521.8L773.0 523.8L772.7 525.9L772.3 527.7L772.3 529.5L772.6 531.5L771.4 533.4L769.8 535.1L769.1 536.9L768.6 538.9L767.9 540.5L767.2 542.2L766.5 543.8L765.8 545.5L765.4 547.4L764.9 549.2L764.3 551.0L763.6 552.8L763.1 554.6L762.8 556.5L762.2 558.0L761.8 559.6L761.3 561.1L760.5 562.5L759.3 564.3L758.3 566.1L757.3 568.0L755.5 570.0L753.4 571.0L751.3 571.8L749.3 572.2L747.2 572.6L745.2 572.6L743.1 572.4L741.0 572.4L739.1 572.6L737.8 571.4L736.1 570.3L734.5 569.6L733.1 568.6L731.8 567.5L729.7 567.7L727.7 567.7L725.9 567.7L724.2 567.5L722.6 567.1L720.5 567.4L718.4 567.4L716.3 567.7L714.3 569.0L712.5 570.2L711.1 571.2L709.6 572.1L708.2 573.0L706.6 573.6L705.1 574.1L703.5 574.6L702.0 575.4L700.4 575.1L698.8 574.7L697.3 573.8L695.8 573.1L694.0 572.6L692.1 572.1L690.3 571.7L688.4 571.3L686.6 570.5L685.0 569.7L683.3 569.1L681.5 568.7L679.8 568.2L678.1 567.5L676.5 567.0L674.6 567.0L672.9 566.9L671.2 566.4L669.5 566.3L667.7 566.5L666.0 566.5L664.2 565.9L662.6 566.0L660.6 564.8L658.8 563.3L657.2 562.7L655.5 562.5L653.9 562.0L652.3 561.1L650.7 560.5L649.0 560.5L647.3 560.4L645.6 560.0L644.0 559.4L642.5 558.9L640.9 557.4L639.5 555.8L638.3 554.0L636.7 553.5L635.0 553.0L633.5 552.2L632.1 551.3L630.4 550.9L628.6 550.8L626.8 551.2L625.0 551.2L623.2 551.5L621.4 552.2L619.7 553.1L618.0 553.8L616.2 554.8L614.3 555.8L612.8 557.2L611.5 559.0L609.9 560.7L609.5 562.7L609.4 564.7L609.4 566.7L609.2 568.7L609.9 570.3L610.7 571.7L611.1 573.3L611.4 574.8L610.2 576.4L609.1 578.3L607.6 579.9L605.9 580.3L604.4 580.9L602.9 581.5L601.4 582.3L599.7 581.8L598.2 581.2L596.8 580.3L595.3 579.5L593.7 578.8L592.1 577.8L590.5 577.1L588.9 576.2L587.2 575.3L585.4 574.6L583.5 574.0L581.8 573.0L580.1 572.2L578.3 571.7L576.4 571.6L574.6 571.4L573.0 570.6L571.4 569.9L569.9 569.2L568.2 568.8L566.5 568.6L565.4 567.0L564.1 565.5L562.5 564.2L561.1 562.7L560.6 560.8L560.1 559.0L559.6 557.3L558.0 557.0L556.4 556.3L554.8 555.5L553.1 555.1L551.6 554.3L550.2 553.3L548.6 552.7L546.9 552.1L545.2 551.4L543.5 550.8L541.7 550.3L539.7 549.9L537.6 550.4L535.6 550.9L533.6 551.6L531.8 551.2L530.2 550.7L528.4 550.3L526.7 549.6L524.9 548.9L523.3 547.9L521.3 546.9L519.3 546.0L518.4 544.3L517.5 542.5L516.2 540.9L514.0 541.4L512.0 541.5L510.9 540.5L509.4 539.5L507.9 538.7L508.8 536.5L510.0 534.5L511.3 533.3L512.5 531.9L513.8 530.8L515.3 529.7L516.2 528.0L516.8 526.3L517.3 524.5L517.9 522.8L517.1 521.3L516.4 519.7L515.7 518.2L514.3 516.3L513.0 514.3L512.4 512.5L511.8 510.7L511.6 508.6L513.5 506.9L515.0 505.0L515.8 503.2L516.8 501.4L517.9 499.4L516.0 499.9L514.5 500.7L513.0 501.3L511.4 501.7L510.1 502.4L509.8 500.7L509.1 498.8L507.4 497.7L505.9 496.3L504.0 496.8L502.3 497.3L500.4 497.4L498.6 497.5L497.0 498.4L495.6 499.3L494.0 500.0L492.4 500.5L490.8 500.7L489.2 501.0L487.5 501.0L485.9 500.8L484.3 500.5L482.6 500.2L480.8 500.0L479.1 499.6L477.1 500.6L475.0 501.5L473.5 500.9L472.0 500.4L470.4 500.1L468.9 499.9L467.1 500.6L465.3 501.3L463.6 502.4L462.0 503.3L460.3 504.0L458.6 504.3L457.0 503.3L455.2 502.4L453.5 501.1L451.8 501.0L450.2 501.3L448.5 501.4L446.9 501.2L445.2 501.1L443.5 501.8L441.7 502.3L439.9 502.4L438.0 502.6L436.0 503.1L433.9 503.3L432.1 503.6L430.3 504.2L428.5 504.7L426.7 504.7L425.1 504.7L423.4 505.0L421.8 505.3L420.2 505.5L418.5 505.5L416.8 506.3L415.1 507.1L413.5 508.0L411.9 509.0L410.2 509.9L409.2 511.2L408.0 512.5L406.5 513.2L405.0 513.9L403.1 513.7L401.1 513.8L399.0 513.9L397.3 514.6L395.9 515.4L394.0 516.9L391.8 517.9L390.3 519.2L389.0 520.7L387.7 522.2L385.7 522.8L383.7 523.3L381.5 523.6L379.7 523.0L377.9 522.7L376.0 522.5L374.3 522.1L372.7 522.0L370.9 521.8L369.2 522.1L367.5 522.2L365.8 522.1L364.1 521.8L362.1 522.2L360.0 522.3L358.0 522.6L356.2 521.8L354.5 520.8L353.0 519.6L352.0 518.0L351.0 516.3L349.8 514.8L348.7 513.6L346.5 514.0L344.5 514.6L343.0 516.1L342.4 517.9L342.0 519.8L341.7 521.6L340.9 523.2L339.8 524.6L339.1 526.3L338.7 528.2L337.9 529.8L336.8 531.4L336.1 533.1L334.9 535.0L333.8 536.9L332.3 538.1L330.9 539.3L329.3 540.3L327.2 541.0L325.1 541.8L323.6 542.7L322.2 543.7L320.6 544.5L319.2 545.3L317.8 546.4L316.3 547.5L314.9 548.6L313.8 550.0L312.6 551.3L311.3 552.5L310.0 553.7L308.8 555.1L308.7 556.8L308.8 558.5L308.8 560.2L307.7 561.8L306.8 563.4L306.0 565.0L304.8 566.4L303.8 568.3L303.1 570.2L302.9 572.4L303.1 574.4L303.1 576.5L303.0 578.5L304.2 579.7L305.7 580.9L305.3 582.8L304.6 584.6L304.4 586.4L304.2 588.4L302.7 589.6L301.5 590.9L300.5 592.4L299.2 593.7L297.8 595.2L296.6 597.0L295.4 598.8L294.1 599.9L292.8 600.9L291.4 601.8L290.1 602.8L288.9 604.0L287.5 605.3L285.9 606.2L284.0 606.9L282.3 607.8L280.8 608.9L279.0 609.3L277.2 609.7L275.3 609.9L273.5 610.4L271.7 611.1L270.6 612.6L269.1 613.9L267.3 615.0L266.6 616.6L266.2 618.4L265.5 619.9L264.5 621.4L263.2 622.9L261.9 624.3L260.5 625.8L259.3 627.4L258.2 628.7L257.0 630.0L256.0 631.4L255.2 632.9L254.6 634.7L253.8 636.3L252.8 637.9L252.0 639.6L251.9 641.5L251.6 643.4L251.1 645.2L250.6 647.0L249.2 648.5L248.1 650.2L247.0 651.9M428.3 469.0L430.1 469.0L431.9 468.9L433.1 467.5L434.3 465.9L435.9 464.2L437.9 465.4L439.6 466.5L439.1 468.3L438.6 470.0L437.7 471.9L435.7 471.1L434.2 470.1L432.5 469.2L430.4 468.8L428.3 469.0M443.2 463.5L444.8 464.3L446.6 464.7L448.4 465.4L447.3 462.9L445.3 463.3L443.2 463.5M416.5 476.9L418.5 475.9L420.8 475.1L418.4 477.4L416.5 476.9M500.7 426.8L500.8 428.5L501.7 430.0L502.3 431.6L502.5 433.7L502.5 435.7L502.2 437.8L501.5 439.5L501.1 441.4L500.5 443.1L499.6 444.8L498.6 446.3L496.8 444.9L494.8 443.7L494.1 442.2L493.4 440.6L492.6 439.0L492.3 437.4L492.2 435.8L492.4 434.1L494.1 433.2L495.6 432.1L496.6 430.7L499.5 430.2L499.7 428.5L500.7 426.8M498.6 448.2L500.4 449.4L502.2 450.5L503.8 451.8L504.1 453.7L504.7 455.5L504.9 457.4L504.1 459.4L503.6 461.4L503.1 463.5L502.9 465.1L502.9 466.7L503.1 468.4L502.9 470.0L502.4 471.6L502.4 472.9L500.6 473.3L498.6 474.0L496.7 474.8L494.7 476.1L492.4 477.1L490.3 474.5L490.5 472.6L491.1 470.8L491.5 469.0L491.4 467.2L491.0 465.5L491.0 463.7L490.9 462.0L490.7 460.3L490.6 458.5L488.5 456.1L488.5 454.0L488.7 452.2L490.4 452.5L492.5 452.4L494.6 452.0L495.8 450.5L497.1 449.2L498.6 448.2M531.5 490.4L532.9 489.2L533.9 487.8L534.8 486.6L536.7 486.4L538.7 486.0L540.7 485.5L542.5 486.2L544.4 486.7L546.2 487.2L548.0 487.9L550.0 487.9L552.1 487.6L554.1 487.3L555.9 486.8L557.7 486.1L559.6 485.7L561.3 485.1L564.4 484.9L563.3 486.7L562.1 488.4L561.0 490.3L560.4 492.2L559.8 494.0L559.1 495.9L560.0 497.7L560.9 499.6L560.5 501.3L560.2 503.0L559.3 504.7L557.7 503.9L556.2 503.4L554.6 503.0L553.1 502.6L551.4 501.3L549.7 500.2L547.8 499.2L546.3 498.0L544.7 497.0L543.0 496.1L541.3 495.1L539.7 494.2L537.7 493.7L535.7 492.9L533.9 492.3L531.5 490.4M551.0 513.0L553.5 514.3L552.7 514.6L551.0 513.0M646.0 521.0L647.8 520.4L649.5 519.7L651.2 518.9L652.7 517.9L654.4 518.1L656.0 518.6L657.7 518.9L659.3 519.2L660.9 519.7L662.5 520.2L664.2 520.5L665.9 520.6L667.5 520.6L669.2 520.9L670.9 521.1L672.6 521.3L674.3 521.6L673.4 523.3L672.4 524.9L670.2 524.8L668.1 524.4L666.1 524.4L664.4 525.0L662.8 525.1L661.1 525.0L659.5 524.9L657.9 525.1L656.1 524.7L654.3 524.2L652.4 524.1L650.6 523.7L649.1 522.7L647.5 522.0L646.0 521.0M735.9 524.0L737.3 522.8L738.9 521.8L740.6 521.0L742.1 520.0L743.7 520.0L745.4 520.1L747.0 520.2L748.6 520.3L750.3 520.6L752.0 520.0L753.6 519.4L755.1 518.6L756.5 517.7L758.1 517.0L759.4 516.3L758.6 517.5L757.6 518.8L756.3 519.9L755.1 521.1L754.1 522.5L753.3 524.0L752.4 525.4L750.8 526.0L749.1 526.4L747.5 526.9L746.0 527.8L744.7 528.9L743.1 529.5L741.6 529.0L740.0 528.8L738.4 528.6L736.7 528.0L736.3 525.9L735.9 524.0M688.7 510.6L690.1 509.0L692.2 508.4L693.5 507.6L693.9 509.1L694.5 511.3L692.6 511.7L691.1 512.7L689.8 513.2L690.3 511.7L688.7 510.6M669.7 473.3L671.9 473.2L673.3 471.8L675.4 472.2L678.2 473.3L675.9 477.2L672.8 476.4L671.0 475.4L669.7 473.3M669.7 481.8L672.3 481.9L670.8 482.9L671.1 484.8L670.8 483.5L669.7 481.8M677.4 490.4L679.3 491.3L680.6 491.5L679.7 491.1L678.4 492.2L677.4 490.4M638.8 477.6L640.6 477.4L642.1 476.8L643.4 476.0L645.8 476.9L647.6 478.3L648.6 480.0L650.0 481.4L651.6 482.5L653.0 483.9L653.7 485.9L654.8 487.4L656.4 487.0L655.5 485.5L653.5 484.6L651.8 484.2L649.7 484.2L647.4 484.5L645.8 483.9L644.4 481.7L642.8 480.0L640.8 479.0L638.8 477.6M613.7 484.3L615.1 483.1L616.1 483.0L615.3 484.4L615.8 486.5L613.7 484.3M616.2 489.2L618.1 489.5L619.4 491.0L617.8 492.3L617.2 490.6L616.2 489.2M606.0 466.5L609.0 466.0L609.7 468.1L610.0 469.8L608.6 469.5L607.2 468.1L606.0 466.5M662.0 499.0L663.7 500.0L665.4 498.9L667.2 498.9L666.3 502.0L663.4 501.2L662.0 499.0M664.0 494.7L664.7 495.8L665.0 493.8L664.0 494.7M659.9 489.8L661.9 489.2L661.0 491.3L659.9 489.8M664.0 506.9L665.9 507.7L665.2 507.7L664.0 506.9M653.7 494.7L657.0 493.1L655.1 496.9L653.7 494.7M660.9 503.9L663.3 503.0L662.0 505.4L660.9 503.9M680.4 498.4L682.6 497.7L681.6 500.7L680.4 498.4M682.5 503.2L684.8 501.1L685.3 504.2L682.5 503.2M664.0 463.5L665.4 465.2L662.0 465.7L664.0 463.5M656.3 454.3L659.3 455.4L656.7 456.9L656.3 454.3M667.1 457.4L669.8 458.3L668.3 457.7L667.1 457.4M644.5 496.5L645.7 497.8L645.6 497.4L644.5 496.5M640.4 508.8L642.8 510.7L638.4 511.4L640.4 508.8M680.4 517.9L681.9 516.7L683.6 515.3L682.9 517.3L682.4 518.9L680.4 517.9M514.6 538.7L517.9 538.5L516.1 540.6L514.6 538.7M265.5 595.6L266.6 598.1L264.9 599.1L263.3 599.8L261.1 600.0L262.5 597.6L264.0 596.6L265.5 595.6M260.3 601.1L261.4 603.2L262.1 605.4L260.5 607.0L259.0 608.4L257.2 609.6L255.4 609.0L256.2 607.5L257.1 605.8L258.3 604.3L259.4 602.8L260.3 601.1M246.0 608.5L242.9 608.5L242.7 610.7L242.1 612.5L244.8 613.1L246.1 610.8L246.0 608.5M238.8 603.6L237.0 603.7L235.5 604.6L233.9 605.2L232.2 605.6L230.7 606.1L231.2 608.1L231.6 610.4L234.6 609.6L234.8 608.0L235.4 606.4L237.3 605.1L238.8 603.6M228.5 607.9L226.0 607.9L226.4 610.2L228.5 607.9M221.3 599.9L219.2 600.5L219.9 602.7L220.8 604.9L221.9 603.0L221.3 599.9M220.3 612.1L217.7 613.4L219.7 614.3L220.3 612.1M233.1 551.0L231.2 550.9L229.4 550.7L227.2 550.9L228.9 552.3L230.6 553.3L231.9 552.3L233.1 551.0M236.2 547.9L237.1 548.7L235.4 549.3L236.2 547.9M138.6 489.2L140.3 489.4L142.0 489.5L143.6 489.7L145.3 489.8L145.8 491.0L144.1 490.9L142.5 491.4L140.9 492.0L138.9 491.9L138.6 489.2M122.7 478.2L124.7 478.6L126.9 478.8L124.3 479.8L122.7 478.2M110.4 480.6L112.1 481.1L113.8 481.8L115.9 482.6L113.5 483.3L111.3 483.2L110.4 480.6M113.5 479.4L115.1 480.0L116.8 480.5L118.2 480.4L116.5 480.5L114.6 480.9L113.5 479.4M116.5 474.5L117.2 475.0L116.1 475.6L116.5 474.5M108.3 480.6L110.4 481.2L109.3 482.0L108.3 480.6M83.7 469.6L84.7 470.8L83.0 471.0L83.7 469.6M145.8 500.2L146.9 500.8L145.8 501.4L145.8 500.2M533.6 271.4L533.0 269.3L533.4 267.2L531.6 266.3L529.3 265.5L527.0 266.7L525.3 268.3L523.6 269.2L521.5 269.3L519.8 270.3L518.6 271.7L519.2 272.9L519.1 274.6L518.6 276.7L520.3 277.9L522.0 278.3L523.7 278.8L525.4 278.9L527.0 278.2L528.8 277.6L530.5 276.8L532.4 276.8L533.5 275.2L533.7 273.3L533.6 271.4M511.0 272.6L512.0 274.2L513.1 275.7L514.4 276.3L513.0 277.3L511.9 279.1L510.1 279.3L508.3 279.1L506.8 278.2L505.2 276.3L507.8 275.5L509.7 274.5L511.0 272.6M519.2 281.8L520.8 283.1L522.9 282.3L524.8 282.1L526.0 283.0L528.9 281.2L526.5 280.5L524.7 281.4L522.9 282.1L521.1 282.4L519.2 281.8M555.1 276.3L557.0 277.7L558.7 278.1L557.1 278.4L555.2 279.3L555.1 276.3M538.7 284.9L540.8 284.7L543.0 284.2L542.2 286.6L540.8 288.7L540.0 286.5L538.7 284.9M768.8 156.4L770.9 156.4L772.6 156.0L771.9 158.3L770.2 157.5L768.8 156.4M358.9 287.3L359.6 289.8L357.9 290.3L356.4 290.9L354.8 291.6L355.3 288.5L357.1 287.6L358.9 287.3M388.2 332.3L390.5 332.0L393.3 332.3L390.8 334.2L388.2 332.3M815.0 142.6L813.3 142.7L811.6 142.9L809.9 143.5L808.2 143.7L806.4 143.5L804.7 143.6L803.0 144.0L801.3 144.2L799.6 143.9L797.7 143.7L795.7 143.9L793.7 143.7L791.8 143.5L790.1 143.6L788.4 143.5L786.7 143.0L785.1 142.4L783.4 142.1L781.7 142.1L780.0 142.1L778.4 141.8L776.7 141.4L775.1 140.9L773.5 140.4L771.9 140.0L770.1 140.0L768.3 139.8L766.6 139.7L764.8 139.6L763.1 139.6L761.3 139.5L759.5 139.5L757.7 139.4L755.9 138.9L754.1 138.7L752.3 138.8L750.4 138.7L748.6 138.4L746.8 138.4L745.2 137.9L743.5 137.2L742.0 136.2L740.6 135.1L739.1 134.1L737.3 133.2L735.4 132.6L733.6 131.9L731.8 131.1M738.4 133.5L740.2 134.2L741.7 135.3L743.4 136.2L745.1 137.0L746.8 138.0L748.4 139.1L750.0 140.2L751.6 141.2L753.4 142.0L755.1 143.0L756.7 144.1L758.5 145.1L759.2 146.8L759.9 148.6L760.5 150.3L759.1 151.8L757.8 153.4L756.8 155.2L757.8 156.7L758.7 158.2L759.6 159.8L760.5 161.4L761.6 162.7L762.7 164.1L764.0 165.4L765.1 166.7L766.7 166.4L768.2 166.0L769.9 165.3L771.7 166.4L773.2 167.7L775.1 168.5L776.9 170.0L778.3 171.8L780.3 171.8L782.2 171.6L784.2 171.6L786.3 171.4L788.3 170.9L790.3 170.5M790.3 170.5L788.9 169.6L787.4 169.0L785.9 168.1L784.6 167.0L783.3 166.1L782.1 164.8L781.0 163.6L780.0 162.1L779.1 160.7L780.5 159.8L781.7 158.7L783.0 157.6L784.2 156.4L785.9 156.2L787.5 156.5L789.1 157.1L790.7 157.3L792.3 157.2L793.9 158.6L795.6 160.1L794.7 161.7L793.7 163.1L792.4 164.3L790.3 164.5L788.3 164.8L786.2 165.0M795.1 160.1L796.7 160.3L798.3 160.7L799.9 161.1L801.5 161.6L803.2 162.0L804.8 162.3L806.4 162.4L808.2 162.5L809.9 162.3L811.6 162.3L813.3 162.6L815.0 162.7L816.7 162.9L818.4 163.2L820.1 163.1M738.5 586.4L737.7 588.6L736.7 590.7L737.5 592.7L738.3 594.5L739.3 596.2L739.9 598.1L740.5 600.0L741.3 601.7L742.4 603.2L743.5 604.8L744.3 606.5L745.1 608.0L745.6 609.6L746.2 611.2L747.3 612.5L748.4 613.8L749.2 615.2L750.0 617.0L750.7 618.9L751.6 620.7L752.5 622.5L752.9 624.1L753.3 625.8L753.8 627.3L754.4 628.9L755.1 630.5L755.7 632.0L756.4 633.6L757.2 635.1L758.2 636.4L759.3 637.7L760.1 639.2L761.0 640.6L761.7 642.2L762.3 643.9L763.2 645.3L763.6 647.0M738.5 586.4L739.4 587.8L739.9 589.5L740.6 591.0L741.4 592.7L742.3 594.3L743.3 596.0L744.2 597.6L745.1 599.3L745.7 600.9L746.4 602.4L747.5 603.8L748.7 605.0L749.5 606.5L750.3 607.9L751.3 609.1L752.4 610.3L753.6 611.4L754.9 612.4L755.9 613.6L756.8 612.0L757.6 610.4L758.0 608.8L758.4 607.2L759.2 605.8L759.6 604.2L760.2 602.5L760.6 600.7L760.9 598.9L761.3 597.2L761.6 595.4L761.9 593.6L762.6 591.8L763.5 593.8L763.2 595.5L763.0 597.3L762.8 599.0L762.5 600.8L761.8 602.4L761.2 604.3L762.4 605.9L763.7 607.2L764.9 608.6L765.8 610.2L766.9 612.0L768.3 613.7L769.8 615.2L770.8 616.6L771.6 618.0L772.2 619.6L773.1 621.0L773.9 622.5L774.8 623.9L775.7 625.3L776.5 626.8L777.3 628.2L778.2 629.7L779.3 631.0L780.0 632.5L780.5 634.0L781.2 635.5L782.0 636.9L782.7 638.4L783.5 639.8L784.4 641.2L785.0 642.7L785.6 644.3L786.2 645.8L786.9 647.7L787.6 649.5L788.4 651.3L789.3 653.1M768.3 563.8L769.8 564.4L769.6 566.2L769.2 568.1L768.9 569.8L768.5 571.3L768.3 572.7L767.9 571.4L767.5 569.9L767.8 567.9L767.7 565.8L768.3 563.8M769.3 550.4L770.5 550.9L769.6 553.1L769.3 550.4M526.4 502.0L528.0 502.6L526.7 504.2L526.4 502.0"/><path d="M330.2 191.9L334.3 190.1L336.4 191.9L334.3 195.0L331.2 194.3L330.2 191.9ZM390.8 220.0L391.8 216.4L389.8 215.1L393.9 213.3L390.8 211.5L395.9 209.0L393.4 212.7L392.8 216.4L390.8 220.0ZM370.2 233.5L373.3 231.0L369.7 229.8L375.4 227.4L377.4 231.0L374.4 232.9L370.2 233.5Z" fill="#000"/><path d="M521.2 231.0L521.8 229.4L522.4 227.7L523.0 226.0L523.7 224.4L524.6 222.9L525.5 221.4L526.9 220.8L528.4 220.1L529.7 219.2L531.1 218.3L532.7 217.7L532.5 216.0L532.0 214.4L531.6 212.9L531.4 211.3L531.4 209.7L531.2 208.1L530.8 206.7L532.2 205.6L533.7 204.3L535.2 203.0L536.6 201.7L535.4 200.5L534.2 199.3L533.2 197.9L532.0 196.7L530.7 195.6L529.6 194.3L529.5 192.6L529.2 190.8L528.8 189.1L528.7 187.4L528.6 185.6L528.5 183.9L528.5 182.1L528.4 180.2L527.6 178.5L528.2 176.5L528.4 175.3L529.2 174.5L530.8 174.0L532.9 174.4L534.6 174.0L536.1 173.2L537.3 171.7L538.5 170.2L540.3 170.0L541.9 169.6L543.4 168.4L544.9 166.8L546.6 165.4L548.7 164.1L548.3 161.7L548.0 159.8L547.3 158.0L546.4 156.5L546.6 154.8L547.2 153.1L548.4 151.7L550.0 150.6L551.4 149.4L552.4 147.9L553.1 146.3L553.2 144.4L554.7 143.5L556.7 144.4L558.8 145.2L560.3 144.1L561.7 142.6L564.1 142.8L566.2 141.5L567.1 140.1L566.9 138.0L566.3 135.7L567.9 134.8L570.2 134.4L571.4 133.2L571.6 131.2L572.3 129.6L573.2 128.1L573.4 126.1L574.1 124.5L575.5 123.4L576.7 122.2L578.4 121.6L580.4 122.4L582.1 122.1L583.5 120.2L585.2 119.9L586.7 119.2L587.5 117.4L590.0 116.7L591.5 115.6L592.9 114.2L594.6 114.2L596.3 115.1L598.2 114.0L599.9 113.9L601.6 114.8L603.4 114.3L605.1 114.7L606.8 116.3L608.5 116.0L608.9 114.3L610.3 113.2L611.1 111.7L611.9 110.2L612.7 108.7M652.2 147.9L651.6 146.1L651.0 144.3L650.0 142.7L649.2 141.0L648.6 139.3L649.0 137.6L649.2 135.9L649.3 134.2L649.4 132.4L649.6 130.7L648.9 129.0L648.3 127.1L647.5 125.4L646.5 123.8L645.4 122.2L644.1 121.2L642.8 120.1L641.4 119.2L640.0 118.2L638.6 117.4L637.1 116.6L636.0 115.1L635.0 113.4L633.5 112.0L631.2 113.2L629.5 112.6L627.8 112.1L626.2 111.6L624.6 110.8L623.0 110.0L621.4 109.5L619.8 108.9L618.0 109.0L616.2 109.1L614.5 109.0L612.7 108.7M612.7 108.7L614.4 108.4L616.0 107.7L617.6 107.2L619.3 106.8L621.0 106.2L622.6 105.7L624.3 105.5L626.0 105.1L627.2 106.3L628.4 107.5L629.6 108.7L630.7 110.0L631.9 111.2L633.2 112.4L634.9 112.3L636.5 112.2L638.2 112.1L639.9 111.9L641.5 111.7L643.2 111.8L644.9 111.8L646.6 111.6L648.2 111.8L649.9 112.0L651.6 112.3L653.2 112.8L654.9 112.9L656.6 113.0L658.2 113.4L659.9 113.8L661.5 113.0L663.0 111.9L664.5 111.1L666.1 110.4L667.6 109.5L669.1 108.7L669.6 107.0L669.9 105.3L669.4 103.3L670.2 101.7L671.8 100.8L673.1 100.5L674.6 99.1L676.6 100.0L678.5 100.4L679.9 98.6L681.4 97.5L683.2 97.1L685.0 97.2L686.8 98.1L688.5 97.1L690.3 96.3L692.0 98.1L693.6 98.7L695.3 98.5L696.9 99.1L698.6 99.3L700.2 99.8L701.5 101.3L703.2 101.7L704.7 101.5L703.9 102.9L703.1 104.8L701.9 106.4L701.0 108.1M701.0 108.1L702.5 107.2L704.0 106.2L705.5 105.2L707.5 105.1L709.4 104.7L710.8 103.5L712.2 102.4L713.2 100.4L714.8 99.2L717.0 100.0L719.1 101.0L720.5 98.9M701.0 108.1L700.1 109.9L699.0 111.5L697.9 113.1L697.0 114.8L698.1 116.1L699.0 117.6L699.9 119.1L701.5 119.7L703.1 120.3L704.6 121.1L706.1 121.9L707.5 122.8L709.1 123.5L710.7 124.1L712.1 124.6L711.0 125.7L709.9 127.0L708.8 128.2L707.6 129.5L706.5 130.8L705.5 132.1L704.3 133.3L702.9 134.4L704.1 135.9L705.2 137.3L706.5 138.7L707.7 140.0L708.9 141.4L710.1 142.8L711.3 144.2L711.9 145.8L712.6 147.4L713.4 149.1L712.5 150.8L711.4 152.3L710.2 153.6L709.0 155.2L709.8 156.9L710.6 158.5L711.4 160.0L712.7 161.1L713.8 162.5L715.0 163.8L716.3 164.9L717.5 166.2L716.2 167.8L714.8 169.2L713.5 170.8L712.3 172.3L713.8 173.3L715.3 174.2L716.9 175.1L718.4 176.1L719.9 177.1L721.5 177.9L723.0 178.8L724.5 179.8L725.9 181.0L727.3 182.2L728.4 183.4L727.3 184.3L726.1 185.6L725.1 186.9L723.9 188.1L722.8 189.4L721.7 190.7L720.5 191.9L719.2 193.1L717.9 194.2L716.7 195.6L715.5 196.8L714.2 198.0L713.1 199.3L711.9 200.6L710.5 201.7L709.1 202.8L707.6 203.6L706.0 204.4L704.4 205.1L702.7 205.6L701.1 206.2L699.5 207.0L697.9 207.7L696.3 208.8L694.6 209.7L692.8 210.5L691.1 211.3L689.7 212.7M692.8 224.9L692.2 226.7L690.8 228.0L689.8 229.6L689.0 231.2L689.0 232.9L688.2 234.6L687.7 236.3L687.5 238.0L686.9 239.6L686.6 241.5L686.9 243.4L687.7 245.1L688.2 246.8L688.5 248.5L688.9 250.3L689.6 251.9L691.1 253.5L692.5 255.1L693.8 256.7L693.4 258.4L693.0 260.1L692.9 261.8L692.9 263.6L692.8 265.3M653.7 245.1L655.6 244.7L657.5 244.4L659.4 243.9L661.0 243.3L662.5 243.3L664.3 243.2L665.9 243.5L667.6 243.8L669.2 244.3L670.6 245.3L672.0 246.3L673.3 247.3L674.8 248.1L676.3 249.0L678.0 248.9L679.8 248.7L681.5 248.8L683.2 248.9L684.9 248.8L686.6 248.8M620.4 267.1L622.0 266.4L623.6 265.7L625.2 264.9L626.8 264.1L628.5 263.5L630.2 263.1L631.8 263.2L633.5 263.0L635.3 263.1L637.0 263.5L638.7 263.7L640.4 263.8L642.1 263.9L643.8 264.1L645.5 264.3L647.2 264.3L648.9 264.2L650.7 264.3L652.4 264.3L654.1 264.1L655.8 263.9L657.7 264.3L659.5 264.7L661.2 265.3L663.0 266.0L664.6 266.6L666.3 267.1L668.0 267.6L669.6 268.2L671.3 268.9L672.8 269.7L674.3 270.5L675.7 271.4L677.4 272.0M677.4 272.0L678.9 271.3L680.4 270.7L682.0 270.1L683.4 269.4L685.0 268.6L686.6 268.1L688.2 267.6L689.8 266.9L691.2 266.0L692.8 265.3M692.8 265.3L694.6 266.0L696.4 266.4L698.3 266.8L700.2 267.1L702.1 267.5L703.8 267.7L705.6 268.1L707.3 268.5L709.1 268.7L710.8 269.0L712.6 269.4L714.3 269.6L716.2 270.3L717.9 271.1L719.7 272.0L721.4 272.8L721.8 274.3L722.1 276.0L722.2 277.8L722.4 279.5L722.6 281.2L723.7 282.5L724.8 283.7L726.0 284.9L727.3 286.1L728.4 287.3L729.7 288.4L730.9 289.7L730.8 291.4L730.8 293.0L730.7 294.7L732.3 295.6L734.0 296.5L735.5 297.5L737.0 298.7L738.6 299.6L740.2 300.8L738.5 301.5L736.9 301.8L735.3 302.4L733.8 303.2L732.3 303.8L730.8 304.5L729.9 305.9L729.1 307.4L728.6 309.1L727.8 310.6L728.6 312.3L729.6 313.9L730.8 315.5M677.4 272.0L676.1 273.1L674.9 274.2L673.7 275.4L672.5 276.5L671.2 277.6L669.8 278.7L668.5 279.9L667.3 281.1L666.0 282.4L666.5 284.0L666.9 285.5L667.5 287.1L668.2 288.6L666.4 289.3L664.6 289.9L662.7 290.4L660.9 291.0L659.1 291.6L657.3 292.3L655.5 292.8L653.7 293.4L652.1 293.5L650.5 293.6L648.8 293.4L647.2 293.4L645.5 293.4M621.9 276.3L623.5 277.1L625.2 277.4L626.9 278.0L628.5 278.8L630.0 279.6L631.7 280.1L633.4 280.4L635.0 280.8L636.7 281.3L638.4 281.8L638.4 283.9L638.6 285.9L638.3 287.9M605.5 286.7L607.3 286.9L609.2 287.1L611.0 287.3L612.8 287.4L614.7 287.4L616.4 287.5L618.1 287.7L619.8 287.7L621.6 287.6L623.3 287.8L625.0 288.0L626.6 287.7L628.3 287.7L630.0 288.0L631.7 288.1L633.3 287.9L635.0 287.6L636.7 287.7L638.3 287.9M638.3 287.9L639.9 288.7L641.3 289.8L642.7 290.9L644.2 291.7L645.5 292.8M645.5 292.8L646.4 294.3L647.0 295.8L647.5 297.5L648.2 299.0L649.0 300.5L649.7 302.0L648.9 303.9L648.1 305.7L647.4 307.5L646.6 309.4L645.3 310.7L644.0 312.0L642.6 313.0L643.8 314.3L645.2 315.4L646.7 316.6L646.7 318.7L646.5 320.8L646.5 322.8M646.5 322.8L648.0 321.8L649.6 321.1L651.2 320.4L652.8 319.7L654.3 318.9L655.8 318.0L657.5 317.9L659.2 318.0L660.9 318.2L662.6 318.1L664.4 317.9L666.1 317.7L667.8 317.9L669.5 318.1L671.2 318.3L672.9 318.7L674.6 318.8L676.4 318.9L678.1 319.4L679.8 319.7L681.5 320.1L683.2 320.8L684.9 321.2L686.6 321.4L688.3 321.5L690.0 321.7L691.7 321.9L693.5 322.0L695.2 322.1L696.9 322.3L698.5 322.5L700.2 322.9L701.8 323.1L703.5 323.4L705.1 323.8L706.9 324.1L708.6 324.4L710.4 324.6L712.1 324.6L713.9 324.7L715.7 324.9L717.4 325.2L718.1 323.7L718.7 322.2L719.3 320.6L720.2 319.1L721.0 317.7L721.6 316.1L723.4 315.9L725.2 315.8L727.1 315.7L728.9 315.5L730.8 315.5M730.8 315.5L732.5 314.7L734.4 314.2L736.2 313.6L738.0 313.0L739.7 313.1L741.4 313.0L743.1 312.8L744.8 312.7L746.5 312.6L748.2 312.4L749.4 313.6L750.3 315.0L751.3 316.4L752.4 317.6L753.5 318.9L754.4 320.4L755.2 321.9L756.3 323.2L757.5 324.5L758.5 325.8L760.1 326.5L761.8 326.9L763.4 327.4L765.0 328.0L766.7 328.3L767.4 329.9L767.9 331.5L768.5 333.1L769.3 334.6L769.8 336.2L771.5 336.6L773.2 336.7L775.0 336.6L776.7 336.7L778.4 337.0L780.1 337.4L781.9 337.3L783.8 337.2L785.6 336.8L787.5 336.4L789.4 336.1L790.9 337.0L792.3 338.0L793.7 339.1L795.1 340.2L796.5 341.3L798.2 341.5L799.9 341.7L801.7 341.7L803.4 341.9L805.1 342.2L806.8 342.4L808.3 343.0L809.9 343.5L811.5 344.1L812.9 344.8L814.5 345.4L816.2 345.9L815.8 347.9L815.3 349.7L815.0 351.5L815.0 353.4L814.2 355.1L813.2 356.8L812.0 358.3L812.5 360.0L813.2 361.6L814.1 363.2L812.3 363.9L810.5 364.3L808.8 364.9L807.1 365.6L805.4 366.2L803.8 366.9L802.2 367.8L800.6 368.6L799.1 369.6L797.7 370.6L797.4 372.6L796.8 374.6L796.5 376.6M646.5 322.8L647.7 324.3L648.8 325.8L649.8 327.5L650.7 329.1L651.9 330.7L651.5 332.6L651.2 334.5L650.8 336.4L649.3 337.3L647.8 338.1L646.4 339.1L645.2 340.3L643.8 341.4L642.4 342.3L641.1 343.5L639.8 344.7L638.7 346.0L637.6 347.4L636.3 348.5L636.7 350.6L637.3 352.8M550.5 293.2L550.6 295.1L551.1 297.0L551.7 298.9L552.1 300.8L551.2 302.3L550.5 303.8L549.8 305.4L548.8 306.9L550.6 307.9L552.4 308.5L554.1 309.3L554.4 311.4L554.8 313.4L555.2 315.5L555.1 317.5L555.1 319.5L555.0 321.6L555.8 323.1L556.6 324.7L557.3 326.2L558.2 327.7M558.2 327.7L560.0 328.9L561.7 330.0L563.4 331.3L565.1 331.9L566.9 332.4L568.7 333.0L570.4 333.4L571.2 335.0L571.9 336.9L572.6 338.8L574.3 337.7L576.0 336.7L577.8 335.7L579.4 336.0L581.0 336.4L582.6 337.0L584.2 337.4L585.8 337.6L587.3 339.5L588.9 341.4L591.1 341.7L593.2 341.8L595.2 342.4M595.2 342.4L596.4 343.6L597.6 344.8L598.9 346.0L600.0 347.4L601.2 348.7L602.9 349.0L604.5 349.6L606.0 350.2L607.5 350.9L609.3 350.2L611.1 349.6L612.9 349.1L614.7 348.5L616.4 348.4L618.1 348.4L619.9 348.3L621.6 348.2L623.3 347.9L625.0 347.7L626.6 348.5L628.2 349.2L629.8 349.7L631.4 350.4L633.0 351.0L634.7 351.4L636.4 351.9L637.3 352.8M637.3 352.8L636.8 354.3L636.4 355.9L636.1 357.5L635.7 359.2L635.3 360.9L633.2 360.9L631.1 360.7M631.1 360.7L632.8 361.6L634.5 362.6L636.1 363.7L637.7 364.6L639.4 365.4L641.4 365.6L643.5 365.9L645.5 366.3L647.1 366.4L648.7 366.2L650.4 366.2L652.0 366.5L653.6 366.5L655.2 366.4L656.8 366.3L658.6 366.5L660.4 366.7L662.2 366.9L664.0 367.0L665.7 366.2L667.5 365.7L669.2 365.1L670.9 364.4L672.6 363.8L674.3 363.2L677.4 362.6M677.4 362.6L679.2 362.0L681.1 361.6L682.9 361.1L684.7 360.5L686.6 360.0L688.4 360.8L690.2 361.6L692.0 362.4L693.8 363.1L695.6 363.3L697.2 363.9L698.9 364.5L700.6 365.1L702.4 365.5L704.2 366.1L704.2 368.1L704.2 369.9L704.1 371.7L706.2 372.8L708.4 374.0L708.3 375.8L708.3 377.4L708.2 379.0L709.5 380.6L710.9 382.0L712.1 383.6L713.3 385.2L711.3 385.2L709.2 385.1L707.4 384.8L705.6 384.5L703.8 384.1L701.9 383.9L701.8 386.0L701.6 388.1L701.2 390.2L699.8 391.2L698.6 392.3L697.4 393.5L696.3 394.7L695.1 395.8L693.8 396.8M677.4 362.6L678.6 363.6L679.9 364.7L681.1 365.8L682.2 367.1L683.5 368.1L684.8 369.5L686.1 370.9L687.4 372.3L688.7 373.8L689.8 375.3L690.4 377.0L691.1 378.5L692.1 379.8L693.1 381.2L694.0 382.7L694.0 384.5L693.7 386.3L693.7 388.0L693.9 389.8L693.8 391.5L693.7 393.3L693.9 395.1L693.8 396.8M693.8 396.8L695.5 397.7L697.2 398.5L699.0 399.1L700.7 399.1L702.4 399.4L704.1 399.5L705.8 399.5L707.5 399.7L709.2 399.9M631.1 360.7L629.6 360.4L628.1 359.8L626.5 359.3L625.0 359.0L623.3 359.1L621.6 359.2L619.9 359.3L618.1 359.6L616.4 359.6L614.7 359.5L613.2 360.6L611.7 361.8L610.1 362.8L608.6 363.8L606.7 364.1L604.8 364.3L603.0 364.6L601.2 364.8L599.3 364.9L597.8 366.5L596.3 368.3L594.4 368.4L592.5 368.3L590.7 368.4L588.8 368.5L587.0 368.6L585.1 368.0L583.3 367.3L581.6 366.4L579.8 365.6M595.2 342.4L594.5 343.9L593.5 345.3L592.6 346.7L591.8 348.2L591.1 349.7L589.5 350.9L588.0 352.2L586.5 353.4L584.9 354.6L583.2 355.5L581.6 356.6L579.9 357.4L578.2 358.3M578.2 358.3L576.6 357.7L575.1 356.8L573.6 355.8L571.8 355.4L570.0 355.1L568.2 354.8L566.4 354.6L564.8 354.5L563.1 354.2L561.5 353.9L559.9 353.6L558.2 353.4L557.3 355.1L556.3 356.7L555.1 358.3L553.3 357.7L551.5 357.2L549.6 357.0L547.7 356.9L545.9 356.4M545.9 356.4L544.6 355.2L543.3 354.0L541.9 353.0L540.5 351.8L539.1 350.7L537.8 349.6L536.5 348.5L535.2 347.5L533.9 346.5L532.8 345.3L531.5 344.2L530.7 342.4L530.1 340.5L529.5 338.7L530.9 337.4L532.5 336.1L534.2 335.6L536.0 335.1L537.7 334.4L539.4 333.8L541.1 333.3L542.8 332.7L544.5 332.2L546.1 331.8L547.8 331.2L549.4 330.7L551.0 330.2L552.7 329.8L554.5 329.4L556.2 329.0L558.2 327.7M578.2 358.3L578.6 360.1L579.0 362.0L579.5 363.8L580.0 365.6L578.8 367.5L577.7 369.2L575.5 370.3L573.4 371.6L573.3 373.8L573.0 375.8L572.7 377.9L571.0 378.7L569.5 379.7M545.9 356.4L543.8 357.6L541.7 358.8L540.5 359.9L539.1 360.9L537.8 362.0L536.5 363.1L536.7 364.9L537.0 366.6L537.2 368.3L537.4 370.0L537.6 371.7L536.0 371.3L534.4 371.2L532.7 371.1L531.1 371.0L529.5 370.5L527.7 370.9L526.1 371.4L524.3 371.9L522.6 372.3L520.9 372.6L519.2 372.9L517.4 372.6L515.6 372.1L513.8 371.7L512.1 371.3L510.5 372.7L508.9 374.2L507.3 373.3L505.6 372.6L503.9 372.0L502.2 371.1M502.2 371.1L502.3 373.2L502.5 375.2L502.8 377.2L504.4 378.2L506.1 379.0L507.9 379.7L509.7 379.4L511.5 379.0L511.8 381.2L512.0 383.4M512.0 383.4L513.6 382.2L515.5 381.4L517.3 380.6L518.8 380.1L520.3 379.5L521.8 379.0L523.3 378.6L525.4 378.2L527.4 377.6L529.5 377.1L530.6 379.3L531.5 381.5L533.6 381.8L535.6 382.2L537.7 382.7L539.5 382.9L541.3 383.2L543.1 383.6L544.9 384.0M544.9 384.0L546.5 384.2L548.2 384.3L549.8 384.5L551.4 385.0L553.1 385.4L554.9 384.3L556.5 383.2L558.2 382.1L559.9 382.1L561.6 381.9L563.4 381.8L565.1 381.6L566.8 381.5L568.5 381.6L569.5 379.7M569.5 379.7L570.9 381.4L572.4 383.0L574.5 384.8L576.0 385.9L577.4 387.1L578.8 388.4L580.3 389.6L581.9 390.6L583.7 391.0L585.5 391.4L587.3 391.8L589.0 392.3L590.7 392.2L592.3 392.0L593.9 391.7L595.6 391.3L597.2 391.3M597.2 391.3L598.9 390.7L600.4 389.9L602.1 389.3L603.8 388.8L605.4 388.2L607.3 388.2L609.1 388.3L610.9 388.3L612.7 388.3L614.2 387.8L615.8 387.3L617.3 386.9L618.9 386.5L620.4 385.9L622.0 385.3L622.7 383.7L623.6 382.3L624.4 380.8L625.1 379.3L625.9 377.8L627.3 376.2L628.8 374.6L630.2 373.0L631.5 372.0L632.7 370.8L634.0 369.7L635.3 368.7L636.6 367.5L637.9 366.5L639.4 365.6M612.7 388.2L614.0 389.4L615.4 390.5L616.7 391.7L617.9 393.0L619.2 394.3L620.4 395.7L621.5 397.2L622.6 398.6L623.8 400.0L624.8 401.4L626.0 402.7L627.2 404.0L628.1 405.5L629.0 407.1L630.1 408.5L631.9 408.3L633.7 408.0L635.5 407.9L637.5 407.8L636.6 410.1L635.2 412.1M635.2 412.1L636.7 412.9L638.1 413.9L639.6 414.7L641.1 415.4L642.5 416.2L644.1 416.5L645.8 416.9L647.4 417.1L649.1 417.4L650.8 417.8L652.4 417.9L654.1 417.9L655.8 418.2L657.5 418.4L659.2 418.5L660.9 418.6L662.6 418.7L664.3 418.9L666.1 418.9L667.7 418.0L669.4 417.2L671.0 416.2L672.6 415.3L674.3 414.5L676.1 414.2L677.9 413.9L679.7 413.7L681.5 413.2L683.3 413.7L685.1 414.2L686.9 414.7L688.7 415.0L690.6 415.4L692.4 415.9L694.2 416.6L696.0 417.2L697.9 417.6M635.2 412.1L636.7 413.5L637.9 415.0L639.2 416.4L638.2 417.6L637.2 419.0L636.2 420.3L635.2 421.8L634.4 423.1L635.6 424.0L636.8 425.2L637.9 426.4L639.1 427.6L640.4 428.6L639.3 430.1L638.1 431.5L636.8 432.8L635.4 434.0L634.3 435.4L635.2 436.7L636.0 438.2L636.7 439.8L637.3 441.3L638.1 442.8L639.2 444.9L640.4 447.0M640.4 447.0L642.1 446.7L643.8 446.5L645.5 446.2L647.2 445.8L649.0 445.5L650.7 445.2L652.4 445.3L654.1 445.5L655.8 445.3L657.5 445.4L659.2 445.7L660.9 445.8L662.7 446.0L664.3 446.5L666.0 446.9L667.7 447.2L669.5 447.4L671.1 447.4L671.9 445.6L673.0 443.8L674.1 441.9L676.0 441.0L677.8 440.4L679.7 439.8L681.5 439.0L683.2 439.1L684.9 439.2L686.6 439.1L688.3 439.2L690.0 439.3L691.7 439.3M674.3 442.1L675.0 443.7L675.8 445.2L676.7 446.6L677.5 448.2L676.8 450.0L675.8 451.6L675.0 453.3L673.3 454.3M640.4 447.0L638.7 447.7L637.0 448.1L635.3 448.3L633.6 448.7L631.9 449.4L630.1 449.5L628.2 449.5L626.5 450.1L625.1 451.5L623.6 452.7L621.8 453.3L620.2 453.5L619.7 455.1L618.7 456.7L617.3 458.0L616.1 459.5L615.2 461.1L614.5 462.9L613.6 464.5L612.6 466.2L611.6 467.8M619.8 453.1L618.7 451.6L617.4 450.2L615.7 449.2L614.5 447.6L614.9 445.7L615.2 443.9L615.4 442.1L615.9 440.3L615.9 438.4L615.7 436.6M634.2 435.4L632.6 435.4L630.9 435.5L629.3 435.9L627.7 435.9L626.0 435.9L624.3 436.1L622.6 436.2L620.9 436.1L619.1 436.2L617.4 436.3L615.7 436.6M615.7 436.6L614.2 435.9L612.7 435.3L611.1 434.2L609.5 433.3L608.0 432.2L606.5 431.0L605.3 432.4L603.6 433.3L602.6 435.0L602.9 436.9L602.8 438.6L602.4 440.2M612.7 435.4L613.3 433.8L614.1 432.2L614.7 430.6L615.5 429.0L616.4 427.5L617.2 426.0L617.8 424.4L619.2 425.1L620.6 425.8L622.1 426.6L623.5 427.3L625.0 428.0L626.6 429.8L628.3 431.7L627.1 433.9L626.0 436.0M606.5 431.1L607.9 429.8L609.5 428.8L611.1 427.8L612.7 426.8L610.8 426.3L609.0 425.7L607.3 424.8L605.6 424.1L604.6 422.5L602.9 421.7L601.4 420.7L599.5 421.8L597.9 423.1L596.7 424.7L596.1 426.3L595.2 428.0L595.5 429.9L595.6 431.9L594.2 433.5M601.4 420.7L601.7 419.0L602.4 417.3L603.2 415.9L604.3 414.6L603.2 413.1L602.5 411.2L601.4 409.7L602.9 408.5L604.2 407.1L604.6 405.2L605.5 403.5M605.5 403.5L603.6 402.0L601.5 402.2L599.1 402.4L600.3 400.8L602.0 400.2L603.9 399.3L602.7 397.7L601.2 396.7L600.3 395.3L599.4 393.9L598.4 392.5L597.2 391.3M605.5 403.5L603.7 404.0L602.1 403.4L600.6 402.7L599.0 402.2L597.5 401.5L596.0 400.5L594.2 400.4L592.5 401.2L590.7 401.0L589.0 401.2L587.3 401.9L585.6 401.7L583.9 401.3L582.2 400.8L580.5 400.1L578.8 400.0L577.0 400.9L575.2 401.2L573.6 400.5L571.8 399.5L570.0 398.8L568.2 399.0L566.7 400.1L567.6 401.9L567.3 404.0L566.3 406.0L567.2 407.6L569.1 408.5L570.5 409.7L570.8 411.7L571.3 413.5L572.9 414.4L574.6 415.1L575.6 416.6L576.1 418.5L577.1 419.9L578.4 421.0L580.0 421.9L581.8 422.6L583.3 423.5L584.6 424.7L585.6 426.1L586.9 427.4L588.0 429.2M574.6 384.6L573.0 384.8L571.5 385.4L569.9 385.9L568.4 386.4L566.9 386.9L565.3 387.5L564.6 389.2L563.9 390.8L563.2 392.5L562.3 393.9L561.3 395.4L560.5 397.4L558.3 397.4L556.6 396.4L554.9 395.9L553.1 395.5L551.2 395.8L549.4 395.9L547.5 395.9L545.7 396.0L543.8 396.2M544.9 384.0L543.8 385.8L542.8 387.6L543.1 389.3L543.5 390.9L543.9 392.5L544.9 393.8M512.0 383.4L510.7 384.6L509.3 385.8L507.9 387.1L506.0 386.7L504.1 386.2L502.3 385.6L500.5 385.1L498.6 384.6L498.0 386.4L497.5 388.2L497.1 390.1L496.6 391.9L495.4 390.8L494.1 389.7L492.8 388.7L491.6 387.5L490.4 386.4L489.1 387.4L487.7 388.4L486.4 389.5L485.3 390.6L483.4 390.8L481.6 391.0L479.8 391.2L477.9 391.4L476.0 391.4L475.5 389.8L474.9 388.3L474.5 386.7L474.0 385.1L472.1 385.6L470.4 386.3L468.6 386.9L467.0 387.5L467.8 386.0L468.5 384.2L469.4 382.6L470.3 380.9L471.0 379.1L472.4 377.8L473.9 376.6L475.4 375.2L476.9 374.0L478.6 372.8L480.3 371.5L482.2 370.5M482.2 370.5L483.9 369.9L485.6 369.6L487.3 369.3L489.0 368.8L490.7 368.3L492.5 368.1L494.1 368.7L495.7 369.1L497.4 369.4L499.0 370.0L500.6 370.7L502.2 371.1M476.0 391.3L476.4 393.0L476.6 394.7L476.9 396.4L477.1 398.1L477.2 399.9L475.3 400.2L473.6 400.5L471.9 401.1L473.5 402.6L474.9 404.2L476.3 405.9L475.7 408.0L475.3 410.1L475.0 412.1L476.6 413.3L478.0 414.6L479.7 415.7L481.2 417.0M482.2 370.5L482.0 368.5L482.0 366.4L481.9 364.4L482.5 362.9L483.1 361.4L483.7 359.8L484.3 358.3L485.6 356.8L486.9 355.4L488.3 354.0L486.7 353.6L485.0 353.1L483.4 352.6L481.8 352.0L480.2 351.5L478.3 351.6L476.5 351.5L474.7 351.3L472.9 351.0L471.5 349.3L469.9 347.8L467.8 347.8L465.8 347.6L463.7 347.1L461.7 346.4L459.7 345.8L458.1 344.8L456.4 343.7L454.9 342.5L453.5 341.1L451.4 341.2L449.3 341.5L447.3 341.7L447.3 339.6L447.3 337.4L445.6 337.4L443.8 337.2L442.2 336.8L440.1 335.9L438.0 335.1L436.6 334.4L435.2 333.6L433.8 332.7L432.4 331.9L431.0 331.3L430.4 329.7L429.8 328.1M463.7 347.3L463.7 345.3L463.6 343.3L463.5 341.3L463.7 339.2L466.8 339.4L467.8 340.8L469.0 342.1L469.9 343.6L469.8 345.7L469.9 347.9M466.8 339.3L468.3 338.4L470.1 337.5L469.1 335.9L468.1 334.5L467.0 333.2L465.8 332.0L465.7 329.8L465.6 327.7L466.3 326.0L467.2 324.4L467.7 322.8L466.1 321.1L464.6 319.1L466.6 318.7L468.5 318.4L470.3 318.1L472.2 317.7L474.1 317.4L475.1 315.5L476.2 313.7L476.5 312.0L476.6 310.3L476.9 308.7L477.3 306.9L477.6 305.1L477.8 303.2L478.1 301.4M465.8 332.0L462.8 331.3L463.3 329.2L463.6 327.1L462.1 326.7L460.7 326.0L459.1 325.5L457.5 325.3L455.7 325.0L453.9 324.7L452.0 324.5L450.2 324.1L448.3 323.9L446.5 324.2L444.6 324.3L442.8 324.2L440.9 324.3L439.1 324.6M493.0 281.2L494.9 281.7L496.8 281.6L498.8 281.2L500.7 281.4L502.4 281.9L504.2 281.6L505.8 282.4M385.7 422.1L387.1 423.4L388.5 424.8L389.8 426.1L391.6 426.8L393.3 427.5L395.1 428.2L396.9 428.7L398.8 429.0L400.5 429.6L402.3 430.1L404.1 430.4L405.9 430.0L407.7 429.9L409.6 429.7L411.3 429.4L412.9 429.9L414.4 430.4L415.9 431.1L417.4 431.9L419.0 432.4L420.7 432.7L422.4 433.2L424.1 433.6L425.7 434.0L427.5 433.8L429.3 433.7L431.1 433.5L432.9 433.5L434.7 433.4L436.5 433.5M313.2 440.2L314.9 439.6L316.5 438.9L318.1 437.9L320.0 437.4L321.6 439.2L323.0 440.8L324.7 440.8L326.3 440.5L328.0 440.3L329.7 440.3L331.3 440.1L333.0 439.8L334.7 439.6L336.4 439.5L337.8 441.0L339.1 442.5L340.4 443.9L339.3 445.2L338.1 446.4L337.0 447.7L335.8 448.9L334.4 450.0L333.2 451.2L333.6 453.0L333.7 454.7L333.5 456.4L333.6 458.1L333.7 459.8L333.4 461.7L333.2 463.5L332.9 465.4L332.3 467.2L330.1 468.2L327.9 469.5L329.1 471.2L330.2 472.7L331.1 474.3L331.9 475.7L331.1 477.4L330.4 479.3L329.7 481.1L329.0 483.1L330.2 484.7L331.2 486.4L332.0 487.9L330.8 489.0L329.6 490.4L328.5 491.7L327.2 492.9L327.6 494.5L327.8 496.3L328.1 498.0M776.0 505.1L778.0 503.9L780.1 502.7L782.1 503.7L784.2 504.6L785.9 504.2L787.6 503.7L789.3 503.2L791.0 502.8L792.7 502.3L794.5 502.1L796.2 502.4L797.9 502.5L799.6 502.7L801.4 502.9L803.1 503.3L804.7 503.9L806.5 503.5L808.3 502.9L809.9 502.1L811.6 501.4L813.3 501.0L815.1 500.5L816.7 500.1L818.4 499.7L820.1 499.6L821.9 499.4L823.6 499.2L825.3 499.0M772.9 529.6L774.6 529.5L776.3 529.6L778.0 529.5L778.8 531.1L779.5 532.8L780.2 534.5L778.6 535.7L777.0 536.9L775.6 538.3L774.2 539.5L773.7 541.0L773.3 542.6L772.8 544.2L771.3 546.0L769.8 548.0L768.1 548.0L766.4 547.9L764.7 547.9M769.8 547.9L770.2 549.5L770.4 551.2L770.7 552.8L770.1 554.7L769.5 556.5L769.3 558.3L769.1 560.1L769.1 562.0L769.3 563.8L769.2 565.7L768.9 567.5L768.5 569.5L768.2 571.6L767.7 573.6L767.2 575.3L766.8 577.1L766.4 578.8L765.9 580.6L765.4 582.3L765.0 584.1L764.9 585.9L764.3 587.9L763.6 589.9L763.1 591.9M770.8 552.8L772.3 553.5L773.8 554.2L775.1 555.0L776.7 555.6L778.0 556.2L779.4 555.7L780.9 555.0L782.2 554.1L783.7 553.5L785.2 552.8L786.6 552.1L788.0 551.3L789.4 550.6L790.9 549.8L792.2 548.9L793.7 548.2L795.3 547.7L796.8 547.0L798.3 546.4L799.8 545.8L801.3 545.1L802.7 544.2M802.7 544.2L803.2 545.8L803.9 547.4L804.4 549.0L804.6 550.7L804.7 552.5L805.2 554.1L805.9 555.6L806.4 557.3L806.8 558.9L805.3 559.5L803.8 560.1L802.3 560.6L800.7 561.1L799.3 561.8L797.7 562.3L796.3 563.0L794.8 563.6L793.3 564.3L791.8 564.8L790.2 565.2L788.7 565.8L787.2 566.3L785.7 566.9L784.3 567.5L785.4 568.8L786.5 570.2L787.6 571.5L788.8 572.9L789.9 574.3L791.1 575.6L792.3 576.9L793.3 578.3L794.3 579.7L792.8 580.8L791.3 582.1L790.5 584.1L789.5 586.0L787.9 586.7L786.4 587.6L785.0 588.6L783.5 589.4L781.9 590.1L780.5 591.0L779.1 592.0L777.4 592.1L775.8 592.1L774.3 592.4L772.7 592.7L771.1 592.8L769.5 593.0L767.9 593.2L766.3 593.4L764.7 593.6L763.1 593.8M802.7 544.2L804.1 543.4L805.4 542.6L806.9 541.9L808.2 541.0L809.7 540.3L811.1 539.6L812.5 538.8L813.8 537.9L815.3 537.2L816.9 536.7L818.3 536.1L819.7 535.3L821.1 534.4L822.4 533.5L823.8 532.6L825.3 532.0M755.4 569.9L756.2 571.6L756.6 573.4L757.1 575.1L757.8 576.8L758.5 578.5L758.9 580.2L759.4 581.9L760.0 583.5L760.4 585.3L760.9 586.9L761.6 588.6L762.2 590.2L762.6 591.9M662.5 566.3L661.8 567.9L661.5 569.7L661.2 571.5L660.9 573.2L660.7 575.0L660.3 576.8L659.9 578.5L659.8 580.1L659.8 581.8L659.9 583.4L659.9 585.0L659.9 586.6L660.0 588.3L659.9 589.9L660.1 591.5L660.1 593.2L659.8 594.8L659.8 596.4L659.8 598.1L659.9 599.7L660.0 601.3L660.2 603.0L660.3 604.6L660.4 606.2L660.5 607.8L660.5 609.5L660.5 611.1L660.6 612.7L660.7 614.4L660.6 616.0L660.6 617.6L660.7 619.3L660.8 620.9L660.9 622.5L661.1 624.2L661.0 625.9L661.0 627.5L661.1 629.2L660.9 630.9L660.6 632.5L660.6 634.2L660.7 635.9L660.8 637.5L661.0 639.2L661.0 640.9L661.0 642.6L661.0 644.2L660.9 645.9L660.9 647.6L661.0 649.2L661.0 650.9L660.9 652.6L660.9 654.2L660.8 655.9L660.8 657.6L660.9 659.2M523.3 547.9L522.9 549.6L522.9 551.3L522.7 553.0L522.5 554.8L522.2 556.4L520.8 557.2L519.5 558.3L518.2 559.4L516.7 560.2L515.3 561.1L514.0 562.1L512.7 563.1L511.2 564.0L509.9 565.0L509.6 566.7L509.1 568.3L508.9 569.9L508.6 571.6L508.2 573.2L507.9 574.8L507.6 576.5L507.4 578.1L507.1 579.9L505.3 581.1L503.4 582.1L501.7 583.4L502.2 585.0L502.5 586.7L502.9 588.3L503.3 590.0L503.9 591.6L504.4 593.2L504.8 594.8L505.3 596.5L505.8 598.1L505.6 599.7L505.4 601.4L505.4 603.1L505.3 604.7L505.1 606.4L505.1 608.1L505.2 609.7L505.2 611.4L505.2 613.1L505.1 614.8L504.8 616.4L504.2 618.1L503.7 619.9L503.4 621.6L503.2 623.4L502.9 625.2L502.3 626.9L501.8 628.6L502.5 630.1L503.1 631.6L503.9 633.1L504.5 634.6L505.1 636.1L505.8 637.6L506.7 638.9L507.5 640.4L508.1 641.9L508.9 643.3L508.4 644.9L508.0 646.5L507.9 648.2L507.6 649.9L507.1 651.5L506.9 653.1M501.7 583.4L500.6 582.0L499.4 580.8L498.3 579.5L497.2 578.1L496.2 576.7L495.1 575.3L494.0 574.1L492.8 572.8L491.7 571.4L490.7 570.1L489.5 568.8L488.1 567.6L487.6 566.0L487.3 564.3L486.9 562.7L486.3 561.1L485.7 559.6L485.2 558.0L484.7 556.4L484.5 554.7L484.2 553.0L483.7 551.5L483.2 549.9L482.7 548.3L482.2 546.7L482.8 545.0L483.4 543.4L484.2 541.8L485.1 540.3L485.9 538.8L486.6 537.2L487.2 535.6L488.1 534.0L488.8 532.4L489.5 530.8L489.6 529.1L489.5 527.5L489.2 525.9L489.2 524.3L489.3 522.6L489.4 521.0L489.7 519.3L489.9 517.6L490.0 515.8L490.2 514.1L490.5 512.4L490.8 510.8L491.0 509.1L491.2 507.4L491.6 505.8L491.9 504.1L492.4 502.5L492.5 500.8M387.7 522.2L387.2 523.8L386.8 525.3L386.2 526.8L385.6 528.3L385.7 530.4L385.7 532.4L385.8 534.4L386.3 536.0L386.7 537.6L387.0 539.3L387.6 540.8L388.3 542.4L388.7 544.0L389.1 545.6L389.7 547.2L390.2 548.8L390.9 550.4L389.3 551.4L387.7 552.2L386.2 553.1L384.7 554.1L383.1 555.0L381.6 555.9L380.0 556.8L378.4 557.7L376.8 558.4L375.2 559.2L373.5 559.7L371.8 560.2L370.2 560.9L368.6 561.6L366.8 562.1L365.0 562.5L365.0 564.2L365.2 565.9L365.6 567.5L365.9 569.1L365.9 570.7L366.2 572.4L364.7 573.4L363.1 574.2L361.6 575.1L360.3 576.3L358.9 577.3L357.4 578.3L355.8 579.2L354.3 580.0L352.8 581.0L351.5 582.2L350.0 583.2L348.4 584.1L347.0 585.3L345.6 586.4L344.1 587.4L342.6 588.4L340.9 588.8L339.2 589.1L337.5 589.6L336.0 590.3L334.3 590.9L332.7 591.3L331.0 591.8L329.4 592.2L327.7 592.6L326.1 593.2L324.7 594.3L323.2 595.2L321.7 596.1L320.4 597.2L319.1 598.3L317.7 599.4L316.4 600.6L315.1 601.7L315.0 603.5L314.9 605.3L315.1 607.1L315.3 608.9L315.2 610.7L314.9 612.5L315.1 614.3M315.1 614.3L315.2 616.6L315.0 618.9L316.3 619.9L317.8 620.7L319.1 621.6L320.4 622.7L321.8 623.5L323.1 624.4L324.4 625.5L325.7 626.5L326.9 627.6L328.2 628.5L329.6 629.5L330.8 630.5L332.2 631.4L333.4 632.5L334.6 633.6L336.0 634.5L337.4 635.4L338.8 636.2L340.0 637.2L341.3 638.2L342.7 639.0L344.2 639.8L345.5 640.6L346.8 641.6L348.2 642.5L349.5 643.4L350.8 644.4L352.1 645.2L353.5 646.1L354.8 647.0M315.1 618.9L315.2 620.6L315.0 622.4L315.0 624.2L315.2 625.9L315.3 627.7L315.3 629.5L315.2 631.2L315.0 633.0L314.9 634.6L313.5 634.4L311.8 634.6L310.2 634.9L308.6 635.0L306.9 634.8L305.3 634.7L303.7 634.7L302.1 634.5L300.4 634.5L298.8 634.7L297.2 634.6L295.5 634.5L293.9 634.6L292.3 634.7L290.7 634.7L289.0 634.8L287.4 634.8L285.8 634.8L284.1 634.8L282.5 634.7L280.9 634.7L281.0 636.4L281.0 638.0L281.0 639.7L281.0 641.3L280.8 642.9L280.7 644.6L280.6 646.2L280.6 647.8L280.7 649.4L280.9 651.1L280.9 652.7L280.9 654.3L281.1 656.0L281.1 657.6L280.9 659.2"/><path d="M726.8 96.0L726.6 96.3L726.2 96.4L726.4 96.8L726.2 97.2L726.0 96.8L725.6 96.7L725.1 96.7L724.9 97.1L724.6 97.0L724.5 96.7L724.1 96.6L723.9 96.4L724.0 96.1L724.3 95.9L724.5 95.7L724.5 95.3L724.7 95.6L725.0 95.8L725.2 95.5L725.6 95.5L726.0 95.5L726.3 95.5L726.4 95.9L726.8 96.0M723.8 98.7L724.8 99.7L724.7 101.5M722.1 98.8L721.4 99.4L721.5 100.8M719.1 95.8L718.4 95.6L717.8 95.3L717.2 94.9L716.6 94.4L716.8 94.1L716.7 93.8L716.9 93.6L717.0 93.3L717.4 92.7L717.8 92.2L718.6 92.0L719.2 92.5L719.3 93.1L719.3 93.7L719.8 94.2L720.5 94.1L720.2 94.6L719.8 94.9L719.3 95.3L719.1 95.8M714.9 94.1L715.6 94.6L716.4 94.6L717.2 94.4L717.8 93.7L717.9 94.2L717.6 94.6L717.5 95.0L717.4 95.4L717.0 95.7L716.7 96.2L716.2 96.0L715.7 96.0L715.1 95.8L715.0 95.2L714.9 94.7L714.9 94.1M713.2 93.6L713.7 93.3L714.0 92.9L714.6 93.0L715.1 92.8L715.0 93.3L715.4 93.6L715.9 93.6L716.2 94.0L716.0 94.2L715.7 94.3L715.7 94.6L715.7 95.0L715.2 94.9L714.8 94.9L714.5 95.3L713.9 95.3L714.1 94.8L713.7 94.4L713.4 94.0L713.2 93.6M712.5 98.2L711.7 100.2L711.3 102.2M710.4 91.9L710.8 91.7L711.2 91.9L711.5 92.2L711.9 92.4L711.7 92.6L711.5 92.9L711.5 93.3L711.7 93.5L711.2 93.4L710.8 93.7L710.5 93.4L710.3 93.0L710.2 92.7L709.9 92.4L710.0 92.1L710.4 91.9M711.6 96.7L711.6 97.0L711.9 97.2L711.9 97.5L712.0 97.8L711.5 97.6L711.2 97.9L711.0 98.3L710.9 98.6L710.7 98.4L710.4 98.2L710.2 98.0L710.0 97.7L710.0 97.4L710.3 97.2L710.2 96.8L710.4 96.6L710.7 96.5L711.0 96.5L711.3 96.6L711.6 96.7M709.0 97.3L709.7 94.0L709.9 91.3M709.9 97.7L710.3 97.8L710.6 97.5L710.9 97.7L711.3 97.5L711.7 97.8L712.0 98.3L711.6 98.6L711.7 99.1L711.4 99.6L710.8 99.7L710.6 99.4L710.6 99.1L710.3 98.9L709.9 99.0L710.1 98.7L710.3 98.4L710.0 98.1L709.9 97.7M713.9 103.3L714.0 102.7L714.3 102.1L714.4 101.3L713.8 100.9L714.7 100.9L715.1 100.0L715.9 100.1L716.7 100.4L716.8 100.9L717.1 101.3L717.7 101.5L718.0 102.0L716.9 102.1L715.9 102.6L714.9 102.9L713.9 103.3M717.8 95.1L716.3 92.9L715.1 90.9M719.3 94.4L718.1 91.9L716.7 90.9M720.7 93.7L718.7 91.4L716.5 90.1M724.3 98.8L723.9 98.8L723.7 98.6L723.6 98.2L723.2 98.1L723.1 97.6L723.3 97.2L723.7 96.9L724.2 96.8L724.5 96.5L724.9 96.3L725.3 96.2L725.6 96.6L725.9 96.9L726.3 97.0L726.3 97.6L726.0 98.0L725.5 98.0L724.9 98.0L724.7 98.5L724.3 98.8M723.6 92.2L719.9 93.7L717.9 93.8M721.9 91.6L721.5 93.6L722.2 95.0M723.5 89.0L722.9 89.2L722.3 89.2L721.8 89.5L721.2 89.2L720.5 89.1L720.3 88.4L720.7 87.9L720.4 87.2L720.9 87.0L721.0 86.4L721.5 86.2L721.8 85.9L722.3 86.3L722.5 86.9L723.1 86.8L723.6 86.9L723.9 87.4L723.6 88.0L723.7 88.5L723.5 89.0M719.4 89.5L719.0 89.3L718.9 88.9L718.5 88.7L718.1 88.7L718.1 88.3L718.3 87.8L718.8 88.0L719.2 87.6L719.8 87.7L719.9 88.3L720.1 88.7L720.3 89.2L719.8 89.1L719.4 89.5M717.0 89.7L717.3 92.6L716.2 93.9M717.5 84.3L717.6 85.0L717.5 85.6L717.0 85.9L716.6 86.4L715.8 86.3L715.1 86.0L714.3 85.5L714.4 84.5L715.0 83.9L714.8 83.1L715.4 82.5L716.3 82.8L716.9 82.9L717.0 83.5L717.1 84.0L717.5 84.3M711.7 87.4L711.5 87.0L711.7 86.6L711.4 86.3L711.5 85.8L712.0 85.8L712.4 85.6L712.9 85.6L713.4 85.6L713.8 86.0L714.0 86.6L714.5 86.6L715.1 86.5L715.1 87.0L714.6 87.1L714.2 87.4L714.0 87.8L713.4 87.7L712.9 87.6L712.3 87.3L711.7 87.4M710.5 88.3L710.5 91.0L710.1 93.1M708.9 88.1L707.5 89.9L706.6 91.9M707.3 87.8L705.9 89.9L706.0 92.5M705.7 87.6L706.1 90.9L705.3 93.3M705.4 85.2L704.7 85.6L704.0 85.1L703.5 84.6L702.9 84.4L703.4 84.1L703.5 83.6L703.2 83.2L703.2 82.6L704.1 82.2L705.0 82.1L705.8 82.4L706.2 83.3L705.7 83.6L705.4 84.1L705.4 84.6L705.4 85.2M704.0 82.3L704.1 82.9L704.2 83.5L704.5 84.2L705.2 84.2L704.4 84.4L703.8 83.9L703.0 84.3L702.8 85.0L702.2 84.7L701.7 84.2L701.9 83.5L702.0 82.8L702.6 82.8L702.9 82.3L703.4 82.0L704.0 82.3M700.5 84.1L700.1 83.8L700.0 83.3L700.0 82.9L700.0 82.5L700.6 82.8L701.1 83.2L701.9 83.1L702.3 82.6L703.2 83.1L703.9 82.4L703.9 83.4L704.8 83.8L704.4 84.2L704.0 84.1L704.1 84.5L703.8 84.9L703.4 85.1L703.2 85.6L702.8 85.7L702.4 85.8L701.8 85.2L701.9 84.4L701.2 84.1L700.5 84.1M699.5 80.9L699.2 80.5L699.3 80.0L699.5 79.5L700.0 79.4L700.5 79.3L700.9 79.5L701.1 79.9L701.6 80.0L702.0 80.4L701.9 80.9L702.5 80.8L702.7 81.3L702.3 81.4L701.9 81.8L701.6 82.2L701.1 82.2L700.9 81.6L700.6 81.2L699.9 81.4L699.5 80.9M697.5 84.4L695.5 86.2L693.8 88.1M695.9 83.6L696.4 85.8L696.0 87.3M693.6 78.2L693.8 78.6L694.2 78.9L694.1 79.5L693.6 79.6L693.3 79.8L693.0 80.0L692.7 79.8L692.3 79.7L692.1 79.4L691.9 79.0L692.0 78.6L692.3 78.4L692.6 78.4L692.9 78.2L693.2 78.3L693.6 78.2M693.2 80.1L693.2 80.7L693.7 81.0L693.7 81.5L693.6 82.0L692.9 82.0L692.6 82.7L692.2 83.2L691.6 83.1L691.4 82.5L690.8 82.4L690.5 81.9L690.1 81.5L690.7 81.6L691.1 81.2L691.1 80.7L691.3 80.2L691.6 80.7L692.2 80.7L692.5 80.1L693.2 80.1M686.2 79.9L685.8 79.9L685.4 79.7L685.0 79.6L684.7 79.3L684.6 79.0L684.6 78.7L684.3 78.5L684.3 78.1L685.0 78.3L685.6 78.1L686.3 77.9L686.7 77.3L686.7 77.8L687.1 78.0L687.1 78.4L687.3 78.7L687.0 79.0L686.8 79.4L686.5 79.6L686.2 79.9M684.3 84.1L685.5 86.2L685.0 88.9M681.0 77.5L681.5 77.5L682.0 77.5L682.2 77.7L682.3 78.0L682.4 78.3L682.7 78.4L682.5 78.8L682.7 79.2L682.4 79.5L682.0 79.6L681.6 79.8L681.2 79.6L681.0 79.3L680.8 79.0L680.7 78.7L680.5 78.5L680.2 78.4L680.0 78.2L680.2 77.9L680.6 78.0L680.8 77.8L681.0 77.5M681.1 84.6L680.8 87.2L681.2 90.0M679.4 84.8L680.3 86.2L680.2 87.7M677.5 82.4L677.2 82.2L677.0 82.0L676.9 81.7L676.6 81.4L676.8 81.1L677.1 81.0L677.3 80.7L677.5 80.4L677.8 80.5L678.1 80.5L678.5 80.5L678.7 80.8L679.2 81.0L679.4 81.4L679.2 81.8L679.2 82.3L678.7 82.2L678.3 82.2L677.9 82.3L677.5 82.4M674.9 80.5L674.8 80.0L675.2 79.8L675.0 79.5L675.0 79.0L675.4 78.8L675.6 78.5L676.0 78.3L676.2 77.9L676.7 78.1L677.2 78.1L677.3 78.6L677.4 79.1L677.1 79.3L677.1 79.7L677.1 80.0L677.3 80.3L677.3 80.7L677.0 81.1L676.7 81.3L676.3 81.5L676.0 81.2L675.6 81.0L675.3 80.6L674.9 80.5M674.3 83.6L673.5 85.1L674.0 87.1M673.9 78.6L674.3 78.7L674.6 78.6L674.7 78.9L674.8 79.2L674.8 79.6L674.6 79.9L674.1 79.6L673.6 79.8L673.8 79.4L673.5 79.0L673.9 78.6M670.9 82.8L670.3 84.5L670.7 86.3M667.1 83.6L668.3 86.5L671.0 88.0M665.0 84.8L665.7 85.5L666.8 87.5M663.2 84.5L662.8 85.7L662.5 87.6M663.6 80.2L663.1 79.7L662.5 79.8L662.1 80.2L661.5 80.5L660.7 80.6L659.9 80.7L659.6 79.9L659.0 79.4L659.4 78.9L660.1 78.8L660.6 78.4L660.8 77.8L661.4 77.7L662.1 77.9L662.2 78.6L663.0 78.7L663.3 79.0L663.2 79.5L663.3 79.9L663.6 80.2M659.6 83.9L659.4 85.7L660.3 87.3M657.8 83.6L659.8 86.6L661.4 88.5M656.6 84.7L657.2 86.8L657.9 87.5M650.4 82.1L650.9 81.5L651.6 81.1L652.3 81.6L653.1 81.6L653.6 82.1L653.9 82.6L654.6 82.7L655.1 82.3L655.6 83.4L654.8 84.3L653.6 84.1L652.9 85.0L652.2 84.8L651.6 84.4L650.8 84.4L650.2 84.9L650.5 84.2L650.8 83.5L650.9 82.8L650.4 82.1M654.0 86.8L656.2 87.2L658.5 88.9M651.3 84.8L650.7 84.9L650.1 85.1L649.6 85.5L649.1 86.0L648.3 86.1L647.6 85.8L647.0 85.4L646.5 84.8L647.5 84.5L648.6 85.0L649.6 84.4L649.7 83.2L650.3 83.4L650.6 83.9L651.2 84.1L651.3 84.8M650.1 83.3L649.9 83.8L649.4 84.0L649.3 84.5L649.6 84.9L649.0 84.9L648.4 84.8L647.9 84.2L647.2 84.3L647.2 83.9L647.2 83.5L647.7 83.4L647.8 82.9L648.5 83.1L648.9 83.5L649.4 83.1L650.1 83.3M646.5 88.5L647.3 91.8L649.4 94.1M643.5 86.6L643.8 87.0L644.1 87.1L643.8 87.6L643.8 88.1L643.5 87.6L642.9 87.4L643.1 87.0L643.5 86.6M640.5 89.5L640.9 88.8L640.6 88.2L641.2 87.9L641.7 87.5L642.5 87.5L643.1 88.1L643.8 88.0L644.5 87.6L644.6 88.7L643.7 89.3L643.2 90.1L642.3 90.4L641.7 90.5L641.4 89.9L641.0 89.6L640.5 89.5M641.9 90.2L641.9 90.5L641.9 90.9L641.6 91.0L641.3 91.1L640.9 90.8L640.5 90.7L640.5 90.3L640.7 90.1L640.7 89.7L641.1 89.5L641.6 89.8L641.9 90.2M636.8 93.1L636.6 95.7L637.9 97.1M633.2 93.4L633.5 95.0L632.9 96.6M632.2 89.6L632.5 90.3L633.2 90.5L632.8 91.2L633.3 91.9L632.1 91.4L630.9 91.8L630.2 93.0L628.8 93.1L628.6 92.4L628.1 91.8L627.4 91.4L627.5 90.5L628.7 90.3L629.9 90.3L631.0 90.0L632.2 89.6M627.4 87.6L627.9 87.7L628.4 87.7L628.9 87.5L629.1 87.0L629.5 87.0L629.8 87.0L630.1 87.3L630.1 87.7L630.2 88.0L630.1 88.4L629.7 88.5L629.6 88.8L629.2 88.5L628.8 88.2L628.4 88.7L627.8 88.7L627.7 88.3L627.4 88.2L627.3 87.9L627.4 87.6M624.8 91.5L625.1 91.3L625.1 90.9L625.2 90.5L624.9 90.2L625.3 90.1L625.8 90.0L626.1 90.3L626.6 90.2L626.7 90.5L626.6 90.9L626.3 91.3L626.5 91.7L626.1 91.7L625.6 91.7L625.2 91.5L624.8 91.5M624.7 93.2L624.5 92.7L624.1 92.4L623.9 92.0L624.1 91.5L624.6 91.6L625.1 91.7L625.4 91.3L625.7 90.8L626.0 91.1L626.5 90.9L626.5 91.4L626.8 91.7L626.6 92.0L626.6 92.4L626.2 92.4L625.9 92.6L625.6 92.8L625.4 93.1L625.1 93.3L624.7 93.2M621.7 90.5L622.2 90.4L622.5 90.7L622.3 91.1L622.6 91.4L622.3 91.7L621.9 91.7L621.3 91.5L620.8 91.9L620.6 91.5L620.8 91.1L621.3 90.9L621.7 90.5M621.1 90.4L620.6 90.8L620.0 90.8L619.7 90.6L619.4 90.4L619.4 89.9L619.0 89.6L619.4 89.5L619.7 89.3L620.1 89.4L620.4 89.5L620.7 89.3L621.0 89.3L621.2 89.6L621.6 89.6L621.3 90.0L621.1 90.4M619.4 96.1L620.2 97.3L620.8 98.6M615.0 92.1L615.5 91.8L615.5 91.3L616.0 91.7L616.6 91.8L616.3 92.0L616.3 92.4L616.0 92.4L615.6 92.4L615.4 92.2L615.0 92.1M615.7 97.1L615.7 99.0L616.9 102.0M616.1 94.1L616.3 94.5L616.2 94.9L616.4 95.2L616.4 95.6L615.8 95.2L615.2 95.5L614.8 96.0L614.1 95.8L613.4 95.4L613.4 94.7L612.7 94.9L612.1 94.6L612.7 94.7L613.1 94.3L613.5 94.1L613.9 93.9L614.4 94.4L615.0 94.2L615.5 94.0L616.1 94.1M612.1 96.5L611.7 99.0L612.4 102.0M612.0 90.0L612.1 90.5L612.5 90.8L612.0 90.9L611.4 91.1L610.9 91.0L610.4 90.7L610.5 90.3L610.8 90.0L611.1 90.3L611.4 90.3L611.6 90.1L612.0 90.0M608.5 95.9L607.3 97.8L607.5 98.8M604.0 92.1L604.7 91.6L604.9 90.8L605.5 91.4L606.4 91.2L606.7 91.6L606.8 92.1L606.4 92.5L606.5 93.1L606.3 93.7L605.7 93.8L605.1 93.5L604.6 93.8L604.8 93.3L604.6 92.9L604.4 92.4L604.0 92.1M603.9 92.4L603.2 92.1L602.5 92.0L601.7 91.7L601.1 92.3L600.6 91.8L601.0 91.2L601.3 90.6L601.0 90.0L601.7 90.3L602.4 90.2L603.1 90.2L603.8 90.2L603.3 90.7L603.3 91.3L603.9 91.7L603.9 92.4M603.8 92.1L603.5 92.5L603.1 92.9L602.6 93.1L602.4 93.7L601.7 93.2L601.0 93.7L600.8 94.4L600.2 94.8L599.9 94.4L599.7 94.0L599.2 94.0L598.7 94.0L598.8 93.6L598.8 93.2L598.9 92.7L598.8 92.3L599.6 92.1L600.4 91.8L601.4 91.9L602.0 91.1L602.4 91.5L602.9 91.7L603.5 91.7L603.8 92.1M601.4 98.3L601.9 99.4L602.8 101.1M599.8 98.8L600.0 100.7L599.4 102.9M597.3 94.3L597.1 94.7L597.4 95.0L597.1 94.9L596.7 95.0L596.4 95.0L596.2 95.4L596.1 95.0L596.0 94.6L596.1 94.0L596.6 93.6L597.0 93.9L597.3 94.3M596.7 99.7L596.9 100.8L597.6 101.5M595.2 100.1L597.1 102.5L597.6 105.5M593.4 100.6L593.3 102.6L592.8 103.6M591.6 101.1L592.4 104.0L591.7 105.6M589.8 101.5L589.4 104.3L588.9 105.5M588.0 102.0L587.5 103.2L587.7 104.3M582.7 100.2L582.8 99.8L582.9 99.4L582.8 99.1L582.9 98.7L583.2 98.2L583.9 98.1L584.5 98.1L584.8 97.5L585.0 97.8L585.4 97.9L585.6 98.3L586.0 98.4L585.6 98.6L585.4 99.0L585.3 99.3L585.1 99.6L584.6 100.1L583.9 100.2L583.3 100.4L582.7 100.2M584.0 98.7L583.3 99.3L582.5 99.1L581.8 99.5L581.0 99.6L580.7 99.2L580.3 98.8L579.8 98.6L579.4 98.2L579.5 97.1L580.5 96.8L581.5 96.3L582.4 96.9L583.1 97.5L584.0 97.7L584.5 96.8L585.5 96.7L585.3 97.3L584.8 97.8L584.2 98.1L584.0 98.7M580.3 104.5L580.5 105.3L580.4 106.6M578.8 105.0L579.8 107.6L580.5 108.7M577.1 105.2L576.3 105.9L576.8 107.5M575.1 100.1L574.7 100.2L574.3 100.0L574.3 99.5L574.0 99.2L574.5 99.2L574.9 98.8L575.2 98.3L575.7 98.3L576.0 98.7L576.3 98.9L576.7 99.2L576.9 99.5L576.3 99.7L576.2 100.4L575.6 100.3L575.1 100.1M573.8 105.4L574.7 108.0L574.3 111.3M572.2 105.5L570.9 107.7L570.7 110.3M571.5 100.0L571.3 100.7L571.7 101.3L571.2 101.7L570.7 102.0L570.1 102.3L569.4 102.5L569.0 102.0L568.4 101.7L568.2 101.4L567.9 101.2L567.8 100.8L567.9 100.5L568.7 100.3L568.8 99.6L569.5 99.5L569.7 98.8L570.3 99.3L570.2 100.0L570.9 100.3L571.5 100.0M567.0 103.6L567.7 103.3L567.7 102.5L568.3 103.0L569.1 102.8L569.0 103.1L569.1 103.4L569.3 103.6L569.5 103.9L568.8 103.7L568.3 104.1L568.5 104.8L567.9 105.3L567.6 105.2L567.3 105.2L567.3 104.9L567.1 104.7L567.2 104.4L567.4 104.1L567.2 103.8L567.0 103.6M567.5 107.5L568.3 110.4L569.3 113.1M559.8 104.7L560.7 103.5L562.2 103.6L562.2 102.0L563.6 101.3L564.1 101.8L563.9 102.4L564.3 103.0L564.9 103.0L564.0 103.0L563.4 103.7L563.1 104.5L562.9 105.2L562.0 105.0L561.5 104.3L560.5 104.1L559.8 104.7M564.4 109.3L566.9 108.4L568.0 107.8M563.6 116.0L563.3 116.3L562.9 116.4L562.5 116.3L562.2 116.1L562.1 115.7L561.8 115.4L561.5 115.4L561.1 115.5L561.3 115.2L561.1 114.9L561.0 114.6L561.1 114.2L561.6 114.2L561.8 113.8L562.1 113.5L562.2 113.0L562.3 113.4L562.6 113.8L562.8 114.2L563.0 114.6L563.0 115.0L563.1 115.4L563.5 115.5L563.6 116.0M567.1 112.2L567.2 110.9L568.7 108.9M565.0 111.2L565.3 111.6L565.3 112.0L565.2 112.5L565.6 112.9L565.0 113.2L564.7 113.7L564.8 114.2L565.1 114.8L564.6 114.9L564.4 115.3L564.0 115.5L563.7 115.7L563.9 115.2L563.9 114.6L563.6 114.1L563.1 113.8L563.0 113.2L562.9 112.6L563.4 112.2L563.6 111.7L563.8 111.2L564.2 111.2L564.6 111.5L565.0 111.2M564.7 109.1L565.1 109.2L565.4 109.3L565.6 109.8L565.5 110.3L565.0 110.3L564.6 110.1L564.2 110.2L564.2 109.9L564.0 109.6L564.4 109.4L564.7 109.1M565.1 114.6L564.8 115.8L564.8 117.9M559.9 116.1L559.8 117.9L560.9 120.3M557.6 113.0L557.0 112.9L556.6 113.3L556.1 113.0L555.7 113.4L555.4 113.0L555.4 112.6L555.6 112.1L556.0 111.9L556.4 111.7L556.8 111.7L557.2 111.3L557.7 111.4L557.4 111.8L557.1 112.2L557.5 112.5L557.6 113.0M557.4 114.3L556.7 115.2L555.8 115.8L554.8 115.1L553.6 115.5L553.5 114.8L553.1 114.2L552.8 113.5L553.4 112.9L554.0 112.1L555.0 111.9L555.8 112.3L556.7 112.6L557.1 112.9L557.6 113.3L557.8 113.9L557.4 114.3M554.9 117.6L554.7 120.3L555.8 122.1M553.3 118.1L553.6 121.1L554.5 122.6M553.5 115.1L553.2 115.7L553.2 116.4L552.6 116.7L552.2 117.2L551.4 116.4L550.3 116.8L549.1 116.7L548.6 117.8L548.3 117.2L547.7 117.1L547.3 116.6L547.4 116.0L548.1 116.0L548.8 115.6L549.2 115.1L549.7 114.5L550.4 114.7L550.9 114.2L551.5 113.9L552.2 113.8L552.6 114.0L552.9 114.4L553.5 114.5L553.5 115.1M548.2 116.4L548.0 116.0L548.2 115.5L548.5 115.1L548.4 114.6L548.9 114.5L549.4 114.6L549.8 114.4L550.3 114.3L550.5 114.6L550.8 114.9L550.5 115.2L550.6 115.6L550.2 116.2L549.5 116.2L548.8 115.9L548.2 116.4M546.5 119.6L547.5 121.4L548.3 122.9M542.7 118.4L543.0 118.3L543.4 118.3L543.8 118.0L543.7 117.6L544.0 117.4L544.3 117.6L544.7 117.6L545.0 117.8L545.3 118.0L545.6 117.9L546.0 117.9L546.1 118.3L545.7 118.3L545.3 118.2L544.9 118.5L544.8 119.0L544.4 119.0L544.0 119.4L543.7 119.1L543.2 119.2L542.8 118.8L542.7 118.4M543.0 120.1L544.3 123.0L544.7 126.0M540.1 118.6L539.5 118.6L539.0 118.4L539.4 118.1L539.5 117.6L539.9 117.8L540.3 117.8L540.3 118.2L540.1 118.6M539.1 121.6L540.0 120.0L539.7 119.2M538.8 128.6L538.3 128.6L537.8 128.8L537.5 128.4L536.9 128.5L536.8 128.0L537.1 127.6L537.1 127.1L537.4 126.7L537.9 126.7L538.1 126.2L538.5 126.1L538.9 126.3L539.3 126.7L539.9 126.6L540.4 127.0L540.5 127.6L540.3 128.1L539.9 128.5L539.4 128.7L538.8 128.6M539.8 125.3L540.1 124.8L540.2 124.2L540.2 124.5L540.4 124.8L540.8 124.7L541.0 125.0L541.0 125.4L541.0 125.7L541.3 125.8L541.6 125.9L541.1 126.1L540.6 126.2L540.2 126.3L539.8 126.0L539.9 125.6L539.8 125.3M540.8 128.8L540.4 128.7L540.0 128.8L540.0 128.3L539.7 127.9L540.2 127.7L540.7 127.5L540.9 127.7L540.8 128.1L541.1 128.0L541.4 128.2L541.1 128.5L540.8 128.8M545.0 124.4L546.9 121.6L547.6 120.4M546.5 125.1L546.8 122.5L547.8 118.7M547.9 125.8L550.2 123.9L552.2 121.6M549.5 126.4L551.0 124.4L551.7 122.2M551.0 127.1L551.1 125.1L552.6 124.4M552.6 127.7L553.5 125.9L554.9 122.6M551.3 127.6L551.6 127.8L552.0 127.7L552.0 128.1L552.3 128.3L552.2 128.7L551.8 128.9L552.1 129.2L552.0 129.6L552.0 130.0L551.7 130.2L551.5 130.6L551.1 130.5L551.2 130.0L550.8 129.7L550.6 129.3L550.5 128.9L550.9 128.6L550.9 128.2L551.0 127.9L551.3 127.6M550.9 127.8L550.6 127.4L550.8 127.0L551.0 126.6L551.4 126.4L551.9 126.2L552.3 126.3L552.9 126.1L553.2 126.5L552.9 126.7L552.7 127.1L552.7 127.5L552.8 127.9L552.3 127.7L551.9 128.1L551.6 128.3L551.3 128.7L551.1 128.2L550.9 127.8M549.1 125.5L549.3 126.1L549.7 126.5L549.8 127.2L549.2 127.6L549.0 128.0L548.7 128.2L548.4 128.5L548.1 128.7L547.7 129.2L547.1 129.0L546.6 129.1L546.1 128.8L546.1 128.3L546.2 127.8L546.6 127.4L546.7 126.9L546.7 126.0L547.5 125.5L548.3 125.8L549.1 125.5M547.9 131.9L549.2 135.9L549.1 138.3M545.4 134.4L548.0 136.0L550.1 138.6M544.1 131.6L544.1 132.0L543.9 132.5L544.2 132.8L544.4 133.2L543.9 133.9L544.3 134.6L543.9 135.2L543.3 135.5L542.4 135.9L542.2 136.9L541.4 136.5L540.5 136.8L540.2 136.3L539.6 136.2L539.8 135.7L539.6 135.1L540.2 134.2L541.2 134.2L541.5 133.3L541.7 132.4L542.3 132.1L543.0 132.1L543.5 131.7L544.1 131.6M542.8 136.8L543.5 139.1L544.8 141.3M541.4 138.5L542.7 139.8L544.3 140.3M539.2 138.0L539.1 138.4L538.7 138.6L538.8 139.0L538.6 139.4L538.2 139.5L538.0 139.9L537.6 140.1L537.3 140.3L537.2 139.9L537.1 139.5L537.5 139.2L537.6 138.8L538.0 138.7L538.5 138.6L538.8 138.2L539.2 138.0M539.9 140.1L539.1 140.0L538.4 140.4L537.7 140.7L537.4 141.4L536.8 141.4L536.3 140.9L535.9 140.4L535.7 139.8L536.5 139.5L537.3 139.5L537.3 138.5L538.1 138.0L538.3 138.8L538.9 139.1L539.3 139.7L539.9 140.1M533.1 139.4L533.0 139.0L533.3 138.8L533.5 138.6L533.7 138.4L534.1 138.4L534.3 138.6L534.6 138.7L534.9 138.6L535.1 139.1L534.8 139.6L534.7 140.0L534.3 140.1L533.9 140.3L533.4 140.3L533.3 139.8L533.1 139.4M530.9 142.5L531.5 142.3L532.0 142.8L532.4 143.3L532.2 144.0L531.2 144.0L530.8 144.8L530.7 145.6L530.3 146.3L530.0 145.8L529.7 145.3L529.4 144.7L528.7 144.7L529.2 144.0L530.0 143.8L530.6 143.3L530.9 142.5M532.5 148.3L533.6 150.3L535.8 151.6M525.5 153.2L525.7 153.5L525.4 153.9L525.5 154.2L525.3 154.6L524.6 154.4L524.1 155.0L523.7 155.5L523.3 156.0L523.4 155.7L523.1 155.4L523.0 155.1L522.8 154.8L522.8 154.4L522.6 154.0L523.0 153.7L523.1 153.3L523.8 153.8L524.5 153.4L524.5 152.6L525.0 152.1L525.3 152.6L525.5 153.2M524.4 156.7L524.4 156.2L524.0 155.9L523.6 155.6L523.7 155.1L524.4 154.9L525.0 154.7L525.6 154.3L525.9 153.6L526.1 154.0L526.5 154.2L526.3 154.7L526.7 155.0L526.0 155.5L525.2 155.4L524.9 156.1L524.4 156.7M522.8 152.2L523.4 152.4L523.9 152.7L524.6 152.6L525.0 153.2L524.6 154.1L523.6 154.1L523.3 155.0L522.3 155.2L521.6 155.0L521.4 154.3L520.7 154.5L520.0 154.1L520.9 154.0L521.6 153.5L522.0 152.7L522.8 152.2M521.2 159.5L522.0 160.7L523.9 161.4M518.3 160.3L517.8 160.6L517.7 161.1L517.1 161.4L516.7 161.0L516.9 160.7L516.8 160.3L516.4 160.2L516.3 159.8L516.2 159.4L516.3 159.0L516.7 158.8L516.7 158.3L517.0 158.5L517.3 158.8L517.6 158.4L518.0 158.4L518.0 158.8L518.4 159.0L518.7 159.3L518.8 159.7L518.4 159.9L518.3 160.3M518.5 162.3L519.7 163.0L521.7 164.3M517.1 163.8L518.2 165.4L519.2 167.9M515.4 164.6L516.5 166.9L516.8 168.3M512.7 164.3L512.7 163.9L512.7 163.6L513.0 163.4L513.4 163.3L514.0 163.2L514.5 163.6L514.7 164.0L514.4 164.5L513.9 164.7L513.5 164.9L513.4 164.6L513.3 164.3L513.0 164.4L512.7 164.3M510.3 165.9L510.2 166.4L509.8 166.8L510.0 167.3L509.6 167.7L509.1 167.9L508.7 167.8L508.6 167.5L508.4 167.2L508.1 167.0L507.8 166.9L508.2 166.5L508.0 166.1L508.3 165.9L508.6 165.7L508.9 165.6L509.2 165.4L509.4 165.1L509.8 165.1L510.3 165.3L510.3 165.9M503.5 166.9L504.0 166.4L504.5 165.9L504.7 165.1L505.5 165.0L505.9 165.2L506.2 165.4L506.1 165.8L506.1 166.2L505.7 166.6L505.5 167.1L505.1 167.5L504.7 167.9L504.3 167.7L504.1 167.3L503.8 167.1L503.5 166.9M506.9 171.1L508.1 171.0L509.2 172.4M504.1 169.3L503.7 169.6L503.5 170.0L503.1 170.0L502.6 169.9L502.4 169.5L502.0 169.5L502.0 168.9L502.3 168.5L502.6 168.4L502.9 168.2L503.1 168.4L503.4 168.5L503.6 169.0L504.1 169.3M501.2 172.0L500.8 171.9L500.5 171.5L500.1 171.4L499.7 171.1L499.9 170.6L500.4 170.4L500.3 169.9L500.6 169.4L501.0 169.6L501.4 170.0L501.9 169.8L502.4 170.0L502.0 170.4L501.7 170.9L501.1 171.3L501.2 172.0M501.2 174.8L501.3 176.0L501.5 178.8M499.6 169.5L499.8 170.0L499.6 170.4L499.3 170.8L498.8 171.0L498.4 170.8L498.0 171.1L497.8 171.5L497.6 171.8L497.1 171.8L496.8 171.4L496.4 171.2L496.0 171.1L495.7 170.6L495.9 170.1L496.4 169.9L496.8 169.6L497.3 169.3L497.9 169.3L498.3 169.4L498.7 169.4L499.2 169.2L499.6 169.5M498.0 173.0L498.2 173.4L498.0 173.8L498.3 174.2L498.0 174.6L497.6 174.2L497.0 174.0L496.6 174.6L496.0 174.6L495.5 174.7L495.0 174.7L494.9 174.2L494.5 173.9L494.6 173.4L495.2 173.3L495.6 173.1L495.8 172.7L496.3 172.1L496.3 171.4L497.1 171.4L497.8 171.2L497.4 171.6L497.5 172.2L497.7 172.6L498.0 173.0M494.9 177.2L494.3 177.9L495.2 179.6M493.2 177.8L494.4 180.0L496.3 182.2M491.4 178.4L493.3 180.1L494.2 181.7M489.8 178.9L490.9 181.0L492.8 182.5M488.2 179.4L489.5 180.4L490.1 181.9M486.5 179.9L487.7 180.7L487.5 182.0M486.5 178.1L485.8 178.4L485.5 179.1L484.7 178.7L484.1 179.3L483.5 180.1L482.4 180.2L481.9 179.2L480.8 179.1L481.1 178.2L480.9 177.3L481.7 177.0L482.6 176.7L483.4 176.3L484.2 176.8L485.0 176.8L485.8 176.8L485.9 177.2L486.1 177.5L486.2 177.8L486.5 178.1M483.2 180.9L485.2 184.5L486.3 186.6M481.3 176.1L481.0 176.4L480.8 176.7L480.6 177.0L480.2 177.1L479.9 177.5L479.5 177.8L479.2 177.3L478.5 177.4L478.9 177.2L478.9 176.8L479.0 176.5L478.7 176.2L478.9 175.9L479.2 175.7L479.6 175.4L480.0 175.6L480.4 175.5L480.8 175.4L480.8 175.9L481.3 176.1M477.7 179.6L477.3 179.4L477.3 178.9L477.0 178.5L477.0 178.1L477.7 178.6L478.5 178.4L478.6 177.5L479.4 177.1L479.7 177.5L480.2 177.6L480.2 178.1L480.4 178.6L479.6 178.5L479.1 179.1L478.5 179.6L477.7 179.6M472.0 179.6L472.7 180.0L473.4 179.5L474.0 179.2L474.3 178.5L475.0 178.6L475.1 179.3L475.7 179.0L476.3 179.4L475.5 179.9L474.5 179.7L473.5 180.0L473.2 181.0L472.9 180.6L472.9 180.0L472.5 179.6L472.0 179.6M471.5 183.4L471.8 183.0L471.5 182.7L471.9 182.7L472.4 182.7L472.8 182.7L473.2 182.8L472.7 183.2L472.8 183.7L472.3 183.9L471.8 183.8L471.5 183.4M469.2 186.8L470.7 188.9L471.8 189.8M465.2 184.8L465.4 185.2L465.9 185.3L466.3 185.5L466.7 185.6L466.2 185.9L465.6 186.2L465.9 186.8L465.7 187.4L465.5 187.0L465.0 187.1L464.8 186.7L464.5 186.4L464.5 185.9L464.4 185.4L464.6 184.8L465.2 184.8M465.8 188.8L468.6 190.6L470.3 192.3M464.2 187.3L463.8 187.8L463.5 188.3L462.9 188.3L462.2 188.4L462.1 188.1L461.9 187.7L461.5 187.7L461.3 187.3L462.0 187.5L462.6 187.4L462.7 186.7L463.4 186.4L463.5 186.7L463.6 187.0L463.9 187.1L464.2 187.3M462.2 190.4L464.0 192.1L464.9 193.2M458.1 187.6L458.5 187.9L459.0 187.8L459.4 187.5L459.7 187.2L459.7 187.5L459.4 187.8L459.5 188.1L459.7 188.5L459.4 188.8L458.9 188.9L458.7 189.3L458.2 189.3L458.0 189.1L457.7 188.9L457.5 188.6L457.2 188.6L457.5 188.4L457.6 188.1L457.8 187.7L458.1 187.6M456.6 187.9L456.5 188.3L456.8 188.6L456.7 189.0L456.5 189.4L456.2 189.6L455.9 189.7L455.6 189.4L455.3 189.4L455.1 189.2L455.0 188.9L455.2 188.6L455.1 188.3L455.5 187.9L455.8 187.6L456.2 187.7L456.6 187.9M455.6 191.1L456.0 191.1L456.3 191.0L456.5 191.3L456.6 191.7L456.8 192.1L456.7 192.6L456.3 192.8L456.1 193.2L455.8 193.6L455.4 193.8L455.0 194.1L454.5 193.9L454.2 193.6L453.8 193.6L453.9 193.2L453.6 192.9L454.0 192.7L454.1 192.3L454.2 191.9L454.6 191.7L454.6 191.4L454.9 191.1L455.3 191.2L455.6 191.1M455.5 195.0L458.4 195.8L461.2 198.0M455.8 196.8L457.4 197.5L460.0 197.9M456.2 198.6L460.0 199.2L462.7 199.0M456.5 200.5L458.2 199.2L459.7 199.3M455.8 202.1L457.4 202.8L458.0 204.2M454.5 205.4L456.3 204.7L457.1 205.3M449.7 210.0L449.5 209.6L449.8 209.2L449.5 209.0L449.5 208.6L449.6 208.1L449.7 207.5L450.0 207.7L450.5 207.7L450.7 207.9L451.0 208.2L451.0 208.6L450.9 209.0L450.6 209.2L450.4 209.5L449.9 209.5L449.7 210.0M454.5 208.6L454.8 209.7L454.3 210.7L454.7 211.8L454.4 212.9L453.8 212.7L453.3 212.9L452.7 212.5L452.1 212.7L451.8 211.7L451.7 210.5L452.5 209.6L452.2 208.4L452.8 208.1L453.4 208.3L453.9 208.5L454.5 208.6M450.5 209.3L450.4 209.8L450.8 210.1L451.2 210.4L451.4 210.8L451.2 211.1L451.4 211.5L451.3 211.8L451.5 212.1L451.1 212.3L450.7 212.6L450.3 213.0L450.5 213.6L450.2 213.0L449.6 213.2L449.3 212.7L449.3 212.2L449.4 211.8L449.5 211.5L449.7 211.1L449.5 210.8L449.4 210.3L449.6 209.8L449.8 209.2L450.5 209.3M451.8 218.9L451.5 218.9L451.2 218.7L450.8 218.6L450.6 219.0L450.2 218.8L450.0 218.3L449.9 217.8L450.1 217.4L450.3 217.6L450.6 217.6L450.9 217.6L451.1 217.3L451.7 217.4L451.9 218.0L452.1 218.5L451.8 218.9M456.9 217.2L460.1 215.2L461.8 213.0M455.4 220.4L455.1 220.0L454.8 219.7L454.4 219.5L454.1 219.1L454.4 219.4L454.8 219.3L455.1 219.1L455.2 218.8L455.3 219.1L455.4 219.3L455.7 219.4L455.9 219.7L455.9 220.2L455.4 220.4M455.0 223.5L454.9 222.9L454.5 222.6L454.6 222.2L454.9 222.0L455.3 222.0L455.6 222.2L455.6 222.5L455.6 222.9L455.1 223.0L455.0 223.5M459.6 222.1L462.2 220.2L463.6 216.8M460.6 223.7L463.0 224.1L463.9 225.8M456.2 222.3L455.8 222.3L455.4 222.2L455.2 222.6L454.9 222.9L454.6 222.6L454.3 222.3L454.1 221.8L454.3 221.4L454.7 221.0L455.2 221.1L455.3 220.5L455.6 220.1L455.9 220.5L455.8 221.0L456.1 221.3L456.6 221.2L456.5 221.5L456.3 221.7L456.1 222.0L456.2 222.3M451.9 229.1L451.7 228.6L451.6 228.0L451.1 227.7L450.7 227.4L450.5 226.7L451.0 226.2L451.7 226.2L452.1 225.7L452.3 226.3L452.2 227.0L452.6 227.7L453.4 227.7L452.8 227.9L452.6 228.3L452.3 228.8L451.9 229.1M455.6 230.1L455.8 229.6L456.2 229.4L456.7 229.6L456.8 230.2L456.7 230.5L456.6 230.8L456.2 230.9L456.1 231.2L455.7 231.1L455.7 230.7L455.6 230.1M456.6 232.9L456.7 232.5L456.9 232.2L456.9 232.6L457.1 232.9L457.5 232.8L457.8 233.0L457.5 233.3L457.5 233.7L457.2 233.7L456.9 233.6L456.9 233.2L456.6 232.9M458.4 233.6L458.7 234.1L458.6 234.7L458.3 234.4L457.9 234.4L457.6 234.2L457.4 234.0L457.6 233.5L457.3 233.1L457.4 232.6L457.9 232.6L458.2 232.7L458.3 233.0L458.2 233.3L458.4 233.6M461.7 234.4L464.9 235.9L466.7 236.4M461.7 236.5L462.7 234.8L465.0 233.8M460.5 241.1L460.0 241.0L459.7 241.2L459.2 240.9L459.1 240.4L459.3 239.9L459.9 240.0L460.1 240.4L460.6 240.3L460.3 240.7L460.5 241.1M464.4 238.6L465.4 235.0L466.1 232.4M465.8 239.6L465.6 239.2L466.4 237.3M467.6 246.8L467.0 246.9L466.4 247.1L465.8 247.0L465.4 246.5L464.8 246.6L464.2 246.3L464.3 245.6L463.8 245.1L464.2 245.2L464.7 245.1L465.1 245.0L465.3 244.6L465.8 245.0L466.4 244.9L466.9 245.1L467.4 245.4L467.6 245.7L467.8 246.1L467.7 246.5L467.6 246.8M506.1 237.3L505.6 237.3L505.3 237.0L504.8 236.8L504.5 237.1L504.7 236.7L504.7 236.3L504.7 235.9L504.5 235.5L505.0 235.7L505.2 236.2L505.7 236.0L506.2 235.8L506.4 236.2L506.2 236.5L506.0 236.9L506.1 237.3M506.0 237.2L505.6 237.5L505.3 237.8L504.9 237.6L504.5 237.5L504.7 237.1L504.9 236.8L504.8 236.3L504.4 236.1L504.8 236.3L505.2 236.3L505.6 236.2L505.7 235.7L505.9 236.1L506.3 236.4L505.9 236.7L506.0 237.2M506.9 230.8L506.5 228.6L504.7 225.4M512.1 230.3L512.5 230.1L512.9 230.1L513.1 230.4L513.5 230.5L513.4 230.9L513.2 231.1L512.7 231.4L512.5 231.1L512.1 231.1L512.3 230.7L512.1 230.3M515.1 229.7L515.4 229.4L515.7 229.3L515.9 229.2L516.1 228.9L516.3 229.2L516.3 229.5L516.4 229.8L516.4 230.1L516.3 230.5L516.0 230.7L515.6 230.6L515.3 230.6L515.0 230.1L515.1 229.7M515.6 226.4L515.6 225.9L515.9 225.6L516.3 225.5L516.6 225.3L516.5 225.8L516.7 226.2L516.3 226.6L516.5 227.1L516.2 227.4L515.8 227.3L515.7 226.9L515.6 226.4M512.8 224.0L510.8 224.2L509.2 223.9M515.2 222.2L515.5 222.6L515.2 223.1L514.9 223.4L514.4 223.3L514.1 223.0L513.9 222.5L513.9 222.1L513.9 221.8L514.3 221.7L514.6 221.5L514.9 221.8L515.2 222.2M510.7 229.1L511.1 228.4L510.5 227.8L510.1 227.3L509.6 226.9L510.0 226.5L510.6 226.3L510.5 225.7L510.8 225.2L511.1 225.7L511.7 225.7L511.7 226.4L512.2 226.6L512.7 226.9L513.1 227.4L513.1 228.0L512.7 228.5L512.1 228.1L511.6 228.5L511.2 228.8L510.7 229.1M512.8 227.8L513.4 227.5L513.9 227.9L514.2 227.5L514.6 227.1L514.6 227.9L514.3 228.6L515.2 228.6L515.6 229.5L515.1 229.3L514.7 229.8L514.3 230.0L513.9 230.1L513.8 229.3L513.1 229.0L512.5 228.5L512.8 227.8M512.8 232.1L512.7 231.4L512.4 230.8L511.8 230.3L511.7 229.6L512.1 229.8L512.5 229.9L513.0 230.0L513.4 229.7L513.8 230.3L513.4 230.9L513.8 231.3L514.3 231.5L513.9 231.5L513.6 231.8L513.3 232.2L512.8 232.1M344.6 270.7L344.9 270.2L344.8 269.6L344.9 269.0L345.2 268.5L345.6 268.6L346.0 268.6L346.3 268.3L346.5 267.9L346.9 268.2L347.3 268.3L346.8 268.6L346.5 269.1L346.9 269.6L346.9 270.1L346.5 270.1L346.1 270.2L346.0 270.6L345.7 271.0L345.4 270.9L345.1 271.1L344.8 270.9L344.6 270.7M347.6 268.4L344.9 268.6L341.6 267.8M346.6 250.0L343.4 250.2L339.9 249.9M351.1 242.7L351.7 242.2L352.5 242.5L352.9 241.8L352.8 241.0L353.1 241.3L353.3 241.5L353.7 241.6L354.0 241.3L354.0 241.6L354.1 241.9L354.0 242.2L353.7 242.4L353.4 242.6L353.2 242.8L353.0 243.1L352.8 243.4L352.4 243.8L352.1 244.2L351.6 244.3L351.1 244.2L351.0 243.8L351.2 243.5L351.1 243.1L351.1 242.7M355.4 242.5L355.3 242.0L355.6 241.6L355.2 241.4L355.0 241.0L355.7 240.9L356.1 240.4L356.5 239.9L356.8 239.4L357.1 240.0L357.0 240.6L357.1 241.1L357.1 241.7L356.8 242.2L356.5 242.6L355.9 242.9L355.4 242.5" stroke-width="1.05"/><path d="M268.6 614.3L315.1 614.3" stroke-dasharray="3 3"/>
</g>
<g stroke="#000" stroke-width="1" shape-rendering="crispEdges">
<line x1="96" y1="647.5" x2="103" y2="647.5"/><line x1="809" y1="647.5" x2="816" y2="647.5"/><line x1="96" y1="586.5" x2="103" y2="586.5"/><line x1="809" y1="586.5" x2="816" y2="586.5"/><line x1="96" y1="525.5" x2="103" y2="525.5"/><line x1="809" y1="525.5" x2="816" y2="525.5"/><line x1="96" y1="463.5" x2="103" y2="463.5"/><line x1="809" y1="463.5" x2="816" y2="463.5"/><line x1="96" y1="402.5" x2="103" y2="402.5"/><line x1="809" y1="402.5" x2="816" y2="402.5"/><line x1="96" y1="341.5" x2="103" y2="341.5"/><line x1="809" y1="341.5" x2="816" y2="341.5"/><line x1="96" y1="280.5" x2="103" y2="280.5"/><line x1="809" y1="280.5" x2="816" y2="280.5"/><line x1="96" y1="219.5" x2="103" y2="219.5"/><line x1="809" y1="219.5" x2="816" y2="219.5"/><line x1="96" y1="158.5" x2="103" y2="158.5"/><line x1="809" y1="158.5" x2="816" y2="158.5"/><line x1="96" y1="96.5" x2="103" y2="96.5"/><line x1="809" y1="96.5" x2="816" y2="96.5"/><line x1="96.5" y1="72" x2="96.5" y2="79"/><line x1="96.5" y1="641" x2="96.5" y2="648"/><line x1="199.5" y1="72" x2="199.5" y2="79"/><line x1="199.5" y1="641" x2="199.5" y2="648"/><line x1="301.5" y1="72" x2="301.5" y2="79"/><line x1="301.5" y1="641" x2="301.5" y2="648"/><line x1="404.5" y1="72" x2="404.5" y2="79"/><line x1="404.5" y1="641" x2="404.5" y2="648"/><line x1="507.5" y1="72" x2="507.5" y2="79"/><line x1="507.5" y1="641" x2="507.5" y2="648"/><line x1="610.5" y1="72" x2="610.5" y2="79"/><line x1="610.5" y1="641" x2="610.5" y2="648"/><line x1="712.5" y1="72" x2="712.5" y2="79"/><line x1="712.5" y1="641" x2="712.5" y2="648"/><line x1="815.5" y1="72" x2="815.5" y2="79"/><line x1="815.5" y1="641" x2="815.5" y2="648"/>
</g>
<rect x="96.5" y="72.5" width="719" height="575" fill="none" stroke="#000" stroke-width="1" shape-rendering="crispEdges"/>
<g shape-rendering="crispEdges">
<rect x="834" y="72" width="35" height="29" fill="#000080"/><rect x="834" y="101" width="35" height="28" fill="#0040FF"/><rect x="834" y="129" width="35" height="29" fill="#00FFFF"/><rect x="834" y="158" width="35" height="29" fill="#00FF00"/><rect x="834" y="187" width="35" height="29" fill="#FFFF00"/><rect x="834" y="216" width="35" height="28" fill="#FFA500"/><rect x="834" y="244" width="35" height="29" fill="#FF0000"/><rect x="834" y="273" width="35" height="29" fill="#8B0000"/><rect x="834.5" y="302.5" width="34" height="29" fill="#C0C0C0" stroke="#000" stroke-width="1"/>
</g>
<g fill="#000">
<text x="340.00" y="25.80" font-size="20" text-anchor="start" textLength="231.50" lengthAdjust="spacingAndGlyphs">JOS25-47 Scen:Baseline</text><text x="373.60" y="49.20" font-size="20" text-anchor="start" textLength="164.00" lengthAdjust="spacingAndGlyphs">Average HPL Map</text><text x="72.50" y="652.60" font-size="14" text-anchor="start" textLength="16.80" lengthAdjust="spacingAndGlyphs">25</text><text x="72.50" y="591.43" font-size="14" text-anchor="start" textLength="16.80" lengthAdjust="spacingAndGlyphs">30</text><text x="72.50" y="530.26" font-size="14" text-anchor="start" textLength="16.80" lengthAdjust="spacingAndGlyphs">35</text><text x="72.50" y="469.09" font-size="14" text-anchor="start" textLength="16.80" lengthAdjust="spacingAndGlyphs">40</text><text x="72.50" y="407.92" font-size="14" text-anchor="start" textLength="16.80" lengthAdjust="spacingAndGlyphs">45</text><text x="72.50" y="346.75" font-size="14" text-anchor="start" textLength="16.80" lengthAdjust="spacingAndGlyphs">50</text><text x="72.50" y="285.58" font-size="14" text-anchor="start" textLength="16.80" lengthAdjust="spacingAndGlyphs">55</text><text x="72.50" y="224.41" font-size="14" text-anchor="start" textLength="16.80" lengthAdjust="spacingAndGlyphs">60</text><text x="72.50" y="163.24" font-size="14" text-anchor="start" textLength="16.80" lengthAdjust="spacingAndGlyphs">65</text><text x="72.50" y="102.07" font-size="14" text-anchor="start" textLength="16.80" lengthAdjust="spacingAndGlyphs">70</text><text x="85.20" y="668.60" font-size="14" text-anchor="start" textLength="22.60" lengthAdjust="spacingAndGlyphs">-30</text><text x="188.40" y="668.60" font-size="14" text-anchor="start" textLength="22.60" lengthAdjust="spacingAndGlyphs">-20</text><text x="291.35" y="668.60" font-size="14" text-anchor="start" textLength="22.30" lengthAdjust="spacingAndGlyphs">-10</text><text x="403.50" y="668.60" font-size="14" text-anchor="start" textLength="8.20" lengthAdjust="spacingAndGlyphs">0</text><text x="502.30" y="668.60" font-size="14" text-anchor="start" textLength="16.40" lengthAdjust="spacingAndGlyphs">10</text><text x="604.60" y="668.60" font-size="14" text-anchor="start" textLength="17.00" lengthAdjust="spacingAndGlyphs">20</text><text x="707.10" y="668.60" font-size="14" text-anchor="start" textLength="17.00" lengthAdjust="spacingAndGlyphs">30</text><text x="810.00" y="668.60" font-size="14" text-anchor="start" textLength="16.60" lengthAdjust="spacingAndGlyphs">40</text><text x="424.00" y="692.60" font-size="13.5" text-anchor="start" textLength="63.80" lengthAdjust="spacingAndGlyphs">Longitude</text><text x="835.00" y="66.70" font-size="14" text-anchor="start" textLength="54.50" lengthAdjust="spacingAndGlyphs">HPL (m)</text><text x="0" y="0" font-size="13.5" textLength="53.4" lengthAdjust="spacingAndGlyphs" transform="translate(54.8,386.0) rotate(-90)">Latitude</text><text x="874.00" y="91.10" font-size="13" text-anchor="start" textLength="24.80" lengthAdjust="spacingAndGlyphs">&gt;50</text><text x="874.00" y="119.60" font-size="13" text-anchor="start" textLength="24.80" lengthAdjust="spacingAndGlyphs">&#8804;50</text><text x="874.00" y="148.10" font-size="13" text-anchor="start" textLength="24.80" lengthAdjust="spacingAndGlyphs">&#8804;40</text><text x="874.00" y="177.10" font-size="13" text-anchor="start" textLength="24.80" lengthAdjust="spacingAndGlyphs">&#8804;35</text><text x="874.00" y="206.10" font-size="13" text-anchor="start" textLength="24.80" lengthAdjust="spacingAndGlyphs">&#8804;25</text><text x="874.00" y="234.60" font-size="13" text-anchor="start" textLength="24.80" lengthAdjust="spacingAndGlyphs">&#8804;20</text><text x="874.00" y="263.10" font-size="13" text-anchor="start" textLength="24.80" lengthAdjust="spacingAndGlyphs">&#8804;15</text><text x="874.00" y="292.10" font-size="13" text-anchor="start" textLength="24.80" lengthAdjust="spacingAndGlyphs">&#8804;10</text><text x="873.40" y="321.50" font-size="13" text-anchor="start" textLength="34.00" lengthAdjust="spacingAndGlyphs">No PL</text>
</g>
</svg>
</body></html>
